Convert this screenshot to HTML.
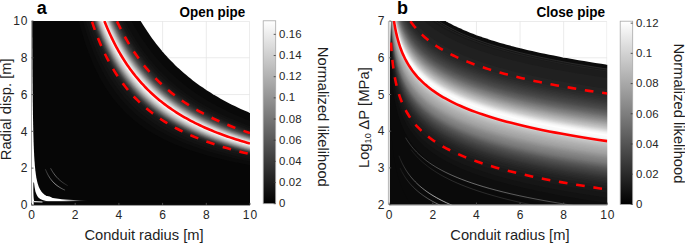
<!DOCTYPE html>
<html><head><meta charset="utf-8"><style>
html,body{margin:0;padding:0;background:#fff;}
body{width:685px;height:243px;overflow:hidden;}
svg{display:block;}
</style></head><body>
<svg width="685" height="243" viewBox="0 0 685 243">
<defs><clipPath id="ca"><rect x="31.5" y="21" width="218.5" height="183.9"/></clipPath><clipPath id="cb"><rect x="389.8" y="21.1" width="217.5" height="183.5"/></clipPath><clipPath id="cah"><rect x="31.5" y="0" width="300" height="243"/></clipPath><clipPath id="cbh"><rect x="390" y="0" width="300" height="243"/></clipPath><clipPath id="na"><path d="M140.75 19L140.75 21L142.34 23.64L143.95 26.24L145.59 28.8L147.25 31.32L148.93 33.81L150.64 36.26L152.37 38.68L154.13 41.06L155.91 43.41L157.72 45.73L159.56 48.01L161.42 50.26L163.31 52.48L165.23 54.66L167.17 56.82L169.15 58.94L171.15 61.03L173.18 63.09L175.24 65.13L177.33 67.13L179.45 69.11L181.6 71.05L183.79 72.97L186 74.86L188.25 76.73L190.53 78.56L192.84 80.38L195.19 82.16L197.57 83.92L199.99 85.66L202.44 87.37L204.92 89.05L207.45 90.71L210.01 92.35L212.6 93.96L215.24 95.55L217.91 97.12L220.62 98.67L223.37 100.19L226.16 101.69L228.99 103.17L231.87 104.63L234.78 106.07L237.74 107.48L240.74 108.88L243.78 110.26L246.87 111.61L250 112.95L252 112.95L252 19Z"/></clipPath><clipPath id="nb"><path d="M445.69 19.1L445.69 21.1L447.3 22.01L448.96 22.92L450.67 23.82L452.42 24.73L454.23 25.64L456.08 26.55L457.99 27.46L459.96 28.37L461.98 29.27L464.05 30.18L466.19 31.09L468.39 32L470.65 32.91L472.97 33.82L475.36 34.72L477.82 35.63L480.35 36.54L482.95 37.45L485.63 38.36L488.38 39.27L491.21 40.17L494.12 41.08L497.12 41.99L500.2 42.9L503.37 43.81L506.63 44.72L509.98 45.62L513.43 46.53L516.97 47.44L520.62 48.35L524.37 49.26L528.23 50.17L532.2 51.07L536.28 51.98L540.47 52.89L544.79 53.8L549.23 54.71L553.8 55.62L558.5 56.52L563.33 57.43L568.3 58.34L573.41 59.25L578.67 60.16L584.08 61.07L589.64 61.97L595.36 62.88L601.25 63.79L607.3 64.7L609.3 64.7L609.3 19.1Z"/></clipPath><linearGradient id="cga" x1="0" y1="1" x2="0" y2="0"><stop offset="0" stop-color="#000"/><stop offset="1" stop-color="#fff"/></linearGradient></defs>
<g clip-path="url(#cah)"><rect x="31.5" y="19" width="220.5" height="187.9" fill="#fff"/><path d="M31.94 19L31.94 21L32 43.33L32.07 62.95L32.14 80.19L32.23 95.34L32.33 108.64L32.45 120.33L32.58 130.6L32.73 139.62L32.9 147.55L33.1 154.52L33.32 160.63L33.57 166.01L33.85 170.73L34.18 174.88L34.55 178.53L34.97 181.73L35.45 184.54L35.99 187.02L36.61 189.19L37.32 191.1L38.13 192.77L39.04 194.24L40.08 195.54L41.27 196.68L42.62 197.67L44.16 198.55L45.91 199.32L47.9 200L50.17 200.6L52.75 201.12L55.69 201.58L59.03 201.98L62.83 202.34L67.17 202.65L72.1 202.92L77.71 203.16L84.09 203.37L91.36 203.56L99.64 203.72L109.06 203.86L119.78 203.99L131.98 204.1L145.87 204.2L161.68 204.28L179.67 204.36L200.15 204.42L223.47 204.48L250 204.53L252 204.53L252 19Z" fill="#ffffff"/><path d="M32.22 19L32.22 21L32.31 41.64L32.41 59.96L32.53 76.23L32.66 90.67L32.81 103.49L32.97 114.87L33.16 124.97L33.37 133.94L33.6 141.91L33.87 148.98L34.17 155.25L34.51 160.82L34.89 165.77L35.32 170.16L35.8 174.06L36.34 177.52L36.96 180.59L37.65 183.32L38.42 185.74L39.3 187.89L40.28 189.8L41.39 191.5L42.64 193L44.05 194.34L45.64 195.52L47.43 196.57L49.44 197.51L51.71 198.34L54.26 199.07L57.14 199.73L60.38 200.31L64.03 200.82L68.14 201.28L72.77 201.69L77.99 202.05L83.87 202.37L90.49 202.65L97.95 202.9L106.35 203.13L115.81 203.33L126.47 203.5L138.47 203.66L151.99 203.8L167.23 203.92L184.38 204.03L203.71 204.13L225.48 204.22L250 204.29L252 204.29L252 19Z" fill="#060606"/><path d="M78.74 19L78.74 21L80.27 26.78L81.85 32.37L83.49 37.79L85.17 43.03L86.91 48.12L88.71 53.04L90.56 57.81L92.48 62.43L94.45 66.9L96.49 71.24L98.6 75.43L100.78 79.5L103.02 83.44L105.34 87.25L107.74 90.95L110.21 94.53L112.76 97.99L115.4 101.35L118.12 104.6L120.92 107.75L123.82 110.8L126.82 113.76L129.91 116.62L133.1 119.39L136.39 122.08L139.79 124.68L143.3 127.2L146.93 129.64L150.67 132L154.53 134.29L158.52 136.51L162.64 138.66L166.89 140.74L171.28 142.75L175.81 144.7L180.49 146.59L185.32 148.42L190.31 150.2L195.46 151.92L200.78 153.58L206.26 155.19L211.93 156.75L217.78 158.26L223.82 159.73L230.05 161.15L236.49 162.52L243.14 163.85L250 165.14L252 165.14L252 19Z" fill="#0a0a0a"/><path d="M82.96 19L82.96 21L84.53 26.46L86.15 31.75L87.82 36.89L89.55 41.88L91.32 46.72L93.15 51.41L95.04 55.96L96.98 60.38L98.98 64.67L101.05 68.83L103.17 72.87L105.37 76.79L107.63 80.59L109.95 84.28L112.35 87.86L114.83 91.33L117.37 94.71L120 97.98L122.71 101.15L125.5 104.23L128.37 107.22L131.33 110.11L134.39 112.93L137.53 115.66L140.78 118.3L144.12 120.87L147.56 123.37L151.11 125.79L154.77 128.14L158.54 130.41L162.43 132.62L166.43 134.77L170.56 136.85L174.81 138.87L179.19 140.83L183.71 142.73L188.37 144.58L193.17 146.37L198.11 148.1L203.21 149.79L208.46 151.42L213.87 153.01L219.45 154.55L225.19 156.05L231.12 157.5L237.22 158.9L243.52 160.27L250 161.59L252 161.59L252 19Z" fill="#0e0e0e"/><path d="M85.82 19L85.82 21L87.42 26.26L89.06 31.36L90.76 36.32L92.5 41.14L94.29 45.82L96.14 50.37L98.04 54.78L100 59.08L102.02 63.24L104.09 67.29L106.23 71.22L108.43 75.05L110.69 78.76L113.02 82.36L115.42 85.86L117.89 89.27L120.43 92.57L123.05 95.78L125.74 98.9L128.51 101.93L131.37 104.87L134.31 107.73L137.33 110.51L140.44 113.21L143.65 115.83L146.95 118.37L150.35 120.85L153.84 123.25L157.44 125.58L161.15 127.85L164.96 130.05L168.89 132.19L172.93 134.27L177.09 136.29L181.38 138.25L185.79 140.15L190.33 142.01L195 143.8L199.81 145.55L204.76 147.25L209.86 148.89L215.11 150.49L220.51 152.05L226.07 153.56L231.8 155.03L237.69 156.45L243.75 157.84L250 159.18L252 159.18L252 19Z" fill="#121212"/><path d="M88.31 19L88.31 21L89.93 26.09L91.59 31.04L93.3 35.85L95.06 40.53L96.87 45.08L98.73 49.5L100.64 53.8L102.61 57.98L104.63 62.05L106.72 66L108.86 69.84L111.06 73.58L113.32 77.22L115.65 80.75L118.05 84.19L120.51 87.53L123.04 90.77L125.65 93.93L128.33 97L131.08 99.99L133.92 102.89L136.83 105.72L139.83 108.46L142.91 111.13L146.08 113.72L149.35 116.25L152.7 118.7L156.15 121.09L159.7 123.41L163.35 125.66L167.1 127.85L170.96 129.99L174.93 132.06L179.01 134.07L183.21 136.03L187.53 137.94L191.97 139.79L196.53 141.6L201.23 143.35L206.06 145.05L211.03 146.71L216.14 148.32L221.39 149.88L226.8 151.41L232.36 152.89L238.07 154.33L243.95 155.73L250 157.09L252 157.09L252 19Z" fill="#161616"/><path d="M90.43 19L90.43 21L92.06 25.95L93.74 30.77L95.46 35.46L97.23 40.02L99.05 44.47L100.92 48.79L102.84 52.99L104.81 57.08L106.84 61.06L108.93 64.94L111.07 68.71L113.27 72.37L115.54 75.94L117.86 79.42L120.25 82.8L122.71 86.08L125.23 89.28L127.83 92.4L130.49 95.43L133.23 98.38L136.05 101.24L138.94 104.04L141.92 106.75L144.97 109.4L148.11 111.97L151.34 114.47L154.66 116.91L158.07 119.28L161.57 121.58L165.17 123.83L168.87 126.01L172.67 128.13L176.58 130.2L180.59 132.21L184.72 134.17L188.96 136.08L193.32 137.93L197.8 139.73L202.4 141.49L207.13 143.2L211.99 144.86L216.99 146.47L222.12 148.05L227.4 149.58L232.82 151.07L238.39 152.52L244.12 153.93L250 155.3L252 155.3L252 19Z" fill="#1a1a1a"/><path d="M91.54 19L91.54 21L93.18 25.88L94.86 30.64L96.59 35.26L98.37 39.77L100.19 44.15L102.07 48.42L103.99 52.57L105.97 56.62L108 60.56L110.09 64.39L112.23 68.12L114.43 71.75L116.69 75.29L119.02 78.73L121.4 82.08L123.86 85.34L126.37 88.51L128.96 91.6L131.62 94.61L134.35 97.54L137.16 100.39L140.04 103.17L143 105.87L146.04 108.5L149.16 111.06L152.37 113.55L155.67 115.97L159.06 118.34L162.54 120.63L166.11 122.87L169.78 125.05L173.56 127.17L177.43 129.23L181.41 131.24L185.5 133.2L189.7 135.1L194.01 136.96L198.45 138.76L203 140.52L207.68 142.22L212.48 143.89L217.42 145.51L222.49 147.09L227.7 148.62L233.05 150.12L238.55 151.57L244.2 152.99L250 154.36L252 154.36L252 19Z" fill="#1f1f1f"/><path d="M92 19L92 21L93.64 25.85L95.33 30.58L97.06 35.18L98.84 39.66L100.66 44.02L102.54 48.27L104.46 52.41L106.44 56.43L108.47 60.35L110.56 64.17L112.7 67.88L114.91 71.5L117.17 75.02L119.49 78.45L121.88 81.79L124.33 85.04L126.84 88.2L129.43 91.28L132.08 94.28L134.81 97.2L137.61 100.04L140.49 102.81L143.44 105.51L146.48 108.13L149.59 110.68L152.8 113.17L156.09 115.59L159.46 117.95L162.93 120.25L166.5 122.48L170.16 124.66L173.92 126.77L177.78 128.84L181.74 130.84L185.82 132.8L190 134.7L194.3 136.56L198.71 138.36L203.25 140.12L207.9 141.83L212.69 143.49L217.6 145.11L222.64 146.69L227.83 148.23L233.15 149.72L238.62 151.18L244.23 152.6L250 153.98L252 153.98L252 19Z" fill="#232323"/><path d="M92.46 19L92.46 21L94.1 25.83L95.79 30.53L97.52 35.1L99.3 39.56L101.13 43.9L103.01 48.12L104.94 52.24L106.91 56.24L108.95 60.15L111.03 63.94L113.18 67.64L115.38 71.25L117.64 74.75L119.96 78.17L122.35 81.49L124.79 84.73L127.31 87.89L129.89 90.96L132.54 93.95L135.27 96.86L138.06 99.7L140.93 102.46L143.88 105.15L146.91 107.76L150.02 110.31L153.22 112.79L156.5 115.21L159.87 117.57L163.33 119.86L166.88 122.09L170.53 124.26L174.28 126.38L178.12 128.44L182.07 130.45L186.13 132.4L190.3 134.3L194.58 136.16L198.98 137.96L203.49 139.72L208.12 141.43L212.89 143.09L217.77 144.72L222.79 146.29L227.95 147.83L233.24 149.33L238.68 150.79L244.27 152.21L250 153.59L252 153.59L252 19Z" fill="#272727"/><path d="M92.92 19L92.92 21L94.57 25.8L96.26 30.47L97.99 35.02L99.77 39.46L101.6 43.77L103.48 47.98L105.41 52.07L107.39 56.06L109.42 59.94L111.51 63.72L113.65 67.41L115.85 70.99L118.11 74.49L120.43 77.89L122.82 81.21L125.26 84.43L127.77 87.58L130.35 90.64L133 93.62L135.72 96.52L138.51 99.35L141.38 102.1L144.32 104.79L147.35 107.4L150.45 109.94L153.64 112.42L156.91 114.83L160.27 117.18L163.72 119.47L167.26 121.7L170.9 123.87L174.63 125.99L178.47 128.04L182.4 130.05L186.45 132L190.6 133.91L194.86 135.76L199.24 137.56L203.73 139.32L208.35 141.03L213.08 142.7L217.95 144.32L222.94 145.9L228.07 147.44L233.34 148.94L238.75 150.4L244.3 151.82L250 153.21L252 153.21L252 19Z" fill="#2b2b2b"/><path d="M93.23 19L93.23 21L94.87 25.78L96.56 30.44L98.3 34.97L100.08 39.39L101.91 43.69L103.79 47.88L105.72 51.96L107.7 55.93L109.74 59.81L111.82 63.58L113.97 67.25L116.17 70.83L118.43 74.31L120.75 77.71L123.13 81.01L125.57 84.23L128.08 87.37L130.66 90.42L133.31 93.4L136.02 96.3L138.81 99.12L141.68 101.87L144.62 104.55L147.63 107.16L150.73 109.7L153.92 112.17L157.18 114.58L160.54 116.93L163.98 119.21L167.51 121.44L171.14 123.61L174.87 125.72L178.7 127.78L182.62 129.79L186.66 131.74L190.8 133.64L195.05 135.49L199.41 137.3L203.89 139.05L208.49 140.76L213.22 142.43L218.06 144.06L223.04 145.64L228.15 147.18L233.4 148.68L238.79 150.14L244.32 151.56L250 152.95L252 152.95L252 19Z" fill="#2f2f2f"/><path d="M93.49 19L93.49 21L95.14 25.76L96.83 30.4L98.57 34.92L100.35 39.33L102.18 43.62L104.06 47.8L105.99 51.87L107.97 55.83L110.01 59.69L112.09 63.45L114.24 67.12L116.44 70.69L118.7 74.16L121.01 77.55L123.4 80.85L125.84 84.06L128.35 87.19L130.92 90.24L133.57 93.21L136.28 96.11L139.07 98.92L141.93 101.67L144.87 104.34L147.88 106.95L150.98 109.49L154.15 111.96L157.41 114.37L160.76 116.71L164.2 119L167.73 121.22L171.35 123.39L175.07 125.5L178.89 127.56L182.81 129.56L186.83 131.51L190.97 133.41L195.21 135.27L199.56 137.07L204.03 138.83L208.62 140.54L213.33 142.21L218.16 143.83L223.13 145.41L228.22 146.95L233.46 148.45L238.83 149.92L244.34 151.34L250 152.73L252 152.73L252 19Z" fill="#333333"/><path d="M93.75 19L93.75 21L95.4 25.75L97.09 30.37L98.83 34.88L100.62 39.27L102.45 43.55L104.33 47.71L106.26 51.77L108.24 55.72L110.28 59.58L112.36 63.33L114.51 66.98L116.71 70.54L118.96 74.01L121.28 77.39L123.66 80.69L126.1 83.89L128.61 87.02L131.19 90.06L133.83 93.03L136.54 95.91L139.32 98.73L142.18 101.47L145.12 104.14L148.13 106.74L151.22 109.28L154.39 111.74L157.65 114.15L160.99 116.49L164.42 118.78L167.95 121L171.56 123.17L175.27 125.28L179.09 127.33L183 129.33L187.01 131.29L191.13 133.19L195.36 135.04L199.71 136.84L204.17 138.6L208.74 140.31L213.44 141.98L218.26 143.6L223.21 145.19L228.29 146.73L233.51 148.23L238.86 149.69L244.36 151.12L250 152.51L252 152.51L252 19Z" fill="#373737"/><path d="M94.01 19L94.01 21L95.66 25.73L97.36 30.34L99.1 34.84L100.88 39.21L102.72 43.48L104.6 47.63L106.53 51.68L108.51 55.62L110.54 59.46L112.63 63.2L114.78 66.85L116.98 70.4L119.23 73.86L121.55 77.24L123.93 80.52L126.37 83.72L128.88 86.84L131.45 89.88L134.09 92.84L136.8 95.72L139.58 98.53L142.43 101.27L145.36 103.94L148.37 106.53L151.46 109.07L154.63 111.53L157.88 113.94L161.22 116.28L164.64 118.56L168.16 120.78L171.77 122.94L175.48 125.05L179.28 127.11L183.18 129.11L187.19 131.06L191.3 132.96L195.52 134.81L199.85 136.62L204.3 138.37L208.87 140.08L213.55 141.75L218.36 143.38L223.3 144.96L228.36 146.5L233.56 148.01L238.9 149.47L244.38 150.9L250 152.29L252 152.29L252 19Z" fill="#3b3b3b"/><path d="M94.28 19L94.28 21L95.93 25.72L97.62 30.31L99.36 34.79L101.15 39.15L102.98 43.41L104.87 47.55L106.8 51.58L108.78 55.52L110.81 59.35L112.9 63.08L115.04 66.72L117.24 70.26L119.5 73.72L121.82 77.08L124.2 80.36L126.64 83.55L129.14 86.67L131.71 89.7L134.35 92.65L137.06 95.53L139.83 98.34L142.69 101.07L145.61 103.73L148.62 106.33L151.7 108.86L154.86 111.32L158.11 113.72L161.44 116.06L164.87 118.34L168.38 120.56L171.98 122.72L175.68 124.83L179.47 126.88L183.37 128.88L187.37 130.83L191.47 132.73L195.68 134.58L200 136.39L204.44 138.15L208.99 139.86L213.66 141.53L218.46 143.15L223.38 144.74L228.43 146.28L233.61 147.78L238.94 149.25L244.4 150.67L250 152.07L252 152.07L252 19Z" fill="#404040"/><path d="M94.54 19L94.54 21L96.19 25.7L97.89 30.28L99.63 34.75L101.42 39.1L103.25 43.34L105.13 47.47L107.07 51.49L109.05 55.41L111.08 59.23L113.17 62.96L115.31 66.59L117.51 70.12L119.77 73.57L122.08 76.93L124.46 80.2L126.9 83.38L129.4 86.49L131.97 89.52L134.61 92.47L137.31 95.34L140.09 98.14L142.94 100.87L145.86 103.53L148.86 106.12L151.94 108.65L155.1 111.11L158.34 113.51L161.67 115.84L165.09 118.12L168.59 120.34L172.19 122.5L175.88 124.61L179.67 126.66L183.55 128.66L187.54 130.61L191.64 132.51L195.84 134.36L200.15 136.16L204.57 137.92L209.11 139.63L213.77 141.3L218.56 142.93L223.46 144.51L228.5 146.05L233.67 147.56L238.97 149.02L244.41 150.45L250 151.84L252 151.84L252 19Z" fill="#444444"/><path d="M94.78 19L94.78 21L96.43 25.69L98.13 30.25L99.87 34.71L101.66 39.04L103.5 43.27L105.38 47.39L107.31 51.41L109.29 55.32L111.33 59.13L113.42 62.85L115.56 66.47L117.76 69.99L120.01 73.43L122.33 76.78L124.7 80.05L127.14 83.23L129.64 86.33L132.21 89.35L134.84 92.3L137.55 95.17L140.32 97.97L143.17 100.69L146.09 103.35L149.08 105.94L152.16 108.46L155.32 110.92L158.55 113.31L161.88 115.65L165.29 117.92L168.79 120.14L172.38 122.3L176.06 124.4L179.84 126.45L183.72 128.45L187.7 130.4L191.79 132.3L195.98 134.15L200.28 135.95L204.7 137.71L209.23 139.42L213.87 141.09L218.64 142.72L223.54 144.3L228.56 145.85L233.72 147.35L239 148.82L244.43 150.25L250 151.64L252 151.64L252 19Z" fill="#484848"/><path d="M94.95 19L94.95 21L96.61 25.68L98.31 30.23L100.05 34.68L101.84 39.01L103.67 43.22L105.56 47.34L107.49 51.34L109.47 55.25L111.51 59.05L113.6 62.76L115.74 66.38L117.94 69.9L120.19 73.33L122.51 76.68L124.88 79.94L127.32 83.12L129.82 86.22L132.38 89.23L135.02 92.18L137.72 95.04L140.49 97.84L143.33 100.56L146.25 103.21L149.25 105.8L152.32 108.32L155.47 110.78L158.71 113.17L162.03 115.5L165.43 117.78L168.93 119.99L172.51 122.15L176.19 124.25L179.97 126.31L183.84 128.3L187.82 130.25L191.9 132.15L196.08 134L200.38 135.8L204.79 137.56L209.31 139.27L213.95 140.94L218.71 142.57L223.59 144.15L228.61 145.7L233.75 147.2L239.03 148.67L244.44 150.1L250 151.5L252 151.5L252 19Z" fill="#4c4c4c"/><path d="M95.13 19L95.13 21L96.78 25.67L98.48 30.21L100.23 34.65L102.02 38.97L103.85 43.18L105.74 47.28L107.67 51.28L109.65 55.18L111.69 58.98L113.78 62.68L115.92 66.29L118.12 69.81L120.37 73.24L122.68 76.58L125.06 79.83L127.49 83.01L129.99 86.1L132.56 89.11L135.19 92.05L137.89 94.92L140.66 97.71L143.5 100.43L146.42 103.08L149.41 105.66L152.48 108.18L155.63 110.63L158.86 113.03L162.18 115.36L165.58 117.63L169.07 119.84L172.65 122L176.33 124.11L180.1 126.16L183.97 128.15L187.94 130.1L192.01 132L196.19 133.85L200.48 135.65L204.88 137.41L209.39 139.12L214.02 140.79L218.77 142.42L223.65 144L228.65 145.55L233.78 147.06L239.05 148.52L244.46 149.95L250 151.35L252 151.35L252 19Z" fill="#515151"/><path d="M95.3 19L95.3 21L96.96 25.66L98.66 30.19L100.4 34.62L102.19 38.93L104.03 43.13L105.92 47.23L107.85 51.22L109.83 55.11L111.87 58.9L113.95 62.6L116.1 66.2L118.29 69.72L120.55 73.14L122.86 76.47L125.24 79.73L127.67 82.9L130.17 85.98L132.73 89L135.36 91.93L138.06 94.79L140.83 97.58L143.67 100.3L146.58 102.94L149.57 105.53L152.64 108.04L155.78 110.49L159.01 112.88L162.33 115.21L165.72 117.49L169.21 119.7L172.79 121.86L176.46 123.96L180.22 126.01L184.09 128.01L188.05 129.95L192.12 131.85L196.29 133.7L200.57 135.5L204.96 137.26L209.47 138.97L214.09 140.64L218.84 142.27L223.7 143.85L228.7 145.4L233.82 146.91L239.08 148.38L244.47 149.81L250 151.2L252 151.2L252 19Z" fill="#555555"/><path d="M95.48 19L95.48 21L97.14 25.65L98.84 30.17L100.58 34.59L102.37 38.89L104.21 43.09L106.09 47.17L108.03 51.16L110.01 55.04L112.05 58.83L114.13 62.52L116.27 66.12L118.47 69.62L120.73 73.04L123.04 76.37L125.41 79.62L127.85 82.78L130.34 85.87L132.9 88.88L135.53 91.81L138.23 94.66L141 97.45L143.83 100.16L146.75 102.81L149.73 105.39L152.8 107.9L155.94 110.35L159.17 112.74L162.48 115.07L165.87 117.34L169.35 119.55L172.93 121.71L176.59 123.81L180.35 125.86L184.21 127.86L188.17 129.8L192.23 131.7L196.39 133.55L200.67 135.35L205.05 137.11L209.55 138.82L214.17 140.49L218.9 142.12L223.76 143.7L228.74 145.25L233.85 146.76L239.1 148.23L244.48 149.66L250 151.05L252 151.05L252 19Z" fill="#595959"/><path d="M95.65 19L95.65 21L97.31 25.64L99.01 30.15L100.76 34.56L102.55 38.85L104.39 43.04L106.27 47.12L108.21 51.1L110.19 54.97L112.22 58.75L114.31 62.44L116.45 66.03L118.65 69.53L120.9 72.94L123.22 76.27L125.59 79.51L128.02 82.67L130.52 85.75L133.08 88.76L135.7 91.69L138.4 94.54L141.16 97.32L144 100.03L146.91 102.68L149.89 105.25L152.96 107.77L156.1 110.21L159.32 112.6L162.62 114.93L166.02 117.2L169.49 119.41L173.06 121.56L176.72 123.66L180.48 125.71L184.33 127.71L188.28 129.65L192.34 131.55L196.5 133.4L200.77 135.2L205.14 136.96L209.63 138.67L214.24 140.34L218.97 141.97L223.81 143.55L228.79 145.1L233.89 146.61L239.12 148.08L244.49 149.51L250 150.91L252 150.91L252 19Z" fill="#5d5d5d"/><path d="M95.83 19L95.83 21L97.49 25.63L99.19 30.14L100.94 34.53L102.73 38.82L104.56 42.99L106.45 47.07L108.38 51.04L110.37 54.91L112.4 58.68L114.49 62.36L116.63 65.94L118.83 69.44L121.08 72.85L123.39 76.17L125.76 79.41L128.2 82.56L130.69 85.64L133.25 88.64L135.88 91.56L138.57 94.41L141.33 97.19L144.17 99.9L147.07 102.54L150.06 105.12L153.11 107.63L156.25 110.07L159.47 112.46L162.77 114.79L166.16 117.05L169.63 119.26L173.2 121.42L176.86 123.52L180.61 125.56L184.45 127.56L188.4 129.5L192.45 131.4L196.6 133.25L200.86 135.05L205.23 136.81L209.71 138.52L214.31 140.19L219.03 141.82L223.87 143.41L228.83 144.95L233.92 146.46L239.15 147.93L244.5 149.36L250 150.76L252 150.76L252 19Z" fill="#626262"/><path d="M96 19L96 21L97.66 25.62L99.37 30.12L101.11 34.5L102.9 38.78L104.74 42.95L106.63 47.01L108.56 50.98L110.55 54.84L112.58 58.61L114.67 62.28L116.81 65.86L119.01 69.35L121.26 72.75L123.57 76.07L125.94 79.3L128.37 82.45L130.87 85.52L133.42 88.52L136.05 91.44L138.74 94.29L141.5 97.07L144.33 99.77L147.24 102.41L150.22 104.98L153.27 107.49L156.41 109.94L159.62 112.32L162.92 114.64L166.3 116.91L169.78 119.12L173.34 121.27L176.99 123.37L180.73 125.41L184.57 127.41L188.52 129.35L192.56 131.25L196.7 133.1L200.96 134.9L205.32 136.66L209.79 138.37L214.38 140.04L219.09 141.67L223.92 143.26L228.88 144.8L233.96 146.31L239.17 147.78L244.52 149.22L250 150.61L252 150.61L252 19Z" fill="#666666"/><path d="M96.18 19L96.18 21L97.84 25.61L99.54 30.1L101.29 34.47L103.08 38.74L104.92 42.9L106.81 46.96L108.74 50.91L110.72 54.77L112.76 58.53L114.85 62.2L116.99 65.77L119.18 69.25L121.44 72.65L123.75 75.96L126.12 79.19L128.55 82.34L131.04 85.41L133.6 88.4L136.22 91.32L138.91 94.16L141.67 96.94L144.5 99.64L147.4 102.28L150.38 104.85L153.43 107.35L156.56 109.8L159.77 112.18L163.07 114.5L166.45 116.76L169.92 118.97L173.47 121.12L177.12 123.22L180.86 125.27L184.7 127.26L188.63 129.21L192.67 131.1L196.81 132.95L201.05 134.75L205.41 136.51L209.87 138.22L214.46 139.89L219.16 141.52L223.98 143.11L228.92 144.65L233.99 146.16L239.19 147.63L244.53 149.07L250 150.47L252 150.47L252 19Z" fill="#6a6a6a"/><path d="M96.35 19L96.35 21L98.01 25.6L99.72 30.08L101.47 34.44L103.26 38.7L105.1 42.86L106.98 46.91L108.92 50.85L110.9 54.7L112.94 58.46L115.03 62.12L117.17 65.68L119.36 69.16L121.61 72.56L123.92 75.86L126.29 79.09L128.72 82.23L131.21 85.3L133.77 88.28L136.39 91.2L139.08 94.04L141.83 96.81L144.66 99.51L147.56 102.14L150.54 104.71L153.59 107.22L156.72 109.66L159.93 112.04L163.22 114.36L166.59 116.62L170.06 118.83L173.61 120.98L177.25 123.07L180.98 125.12L184.82 127.11L188.75 129.06L192.78 130.95L196.91 132.8L201.15 134.6L205.5 136.36L209.96 138.07L214.53 139.74L219.22 141.37L224.03 142.96L228.96 144.5L234.03 146.01L239.22 147.48L244.54 148.92L250 150.32L252 150.32L252 19Z" fill="#6f6f6f"/><path d="M96.53 19L96.53 21L98.19 25.59L99.89 30.06L101.64 34.42L103.44 38.67L105.28 42.81L107.16 46.85L109.1 50.79L111.08 54.64L113.12 58.38L115.2 62.04L117.34 65.6L119.54 69.07L121.79 72.46L124.1 75.76L126.47 78.98L128.9 82.12L131.39 85.18L133.94 88.17L136.56 91.08L139.25 93.92L142 96.68L144.83 99.38L147.73 102.01L150.7 104.58L153.75 107.08L156.87 109.52L160.08 111.9L163.37 114.22L166.74 116.48L170.2 118.68L173.74 120.83L177.38 122.93L181.11 124.97L184.94 126.96L188.86 128.91L192.88 130.8L197.01 132.65L201.24 134.45L205.58 136.21L210.04 137.92L214.6 139.59L219.28 141.22L224.08 142.81L229.01 144.35L234.06 145.86L239.24 147.34L244.55 148.77L250 150.17L252 150.17L252 19Z" fill="#737373"/><path d="M96.7 19L96.7 21L98.36 25.58L100.07 30.04L101.82 34.39L103.61 38.63L105.45 42.77L107.34 46.8L109.28 50.73L111.26 54.57L113.29 58.31L115.38 61.96L117.52 65.51L119.72 68.98L121.97 72.36L124.28 75.66L126.64 78.88L129.07 82.01L131.56 85.07L134.11 88.05L136.73 90.96L139.42 93.79L142.17 96.56L144.99 99.25L147.89 101.88L150.86 104.44L153.9 106.94L157.03 109.38L160.23 111.76L163.51 114.07L166.88 116.33L170.34 118.54L173.88 120.69L177.51 122.78L181.24 124.82L185.06 126.82L188.97 128.76L192.99 130.65L197.11 132.5L201.34 134.3L205.67 136.06L210.11 137.77L214.67 139.44L219.35 141.07L224.14 142.66L229.05 144.21L234.09 145.72L239.26 147.19L244.56 148.62L250 150.02L252 150.02L252 19Z" fill="#777777"/><path d="M96.88 19L96.88 21L98.54 25.57L100.25 30.02L102 34.36L103.79 38.59L105.63 42.72L107.52 46.75L109.45 50.67L111.44 54.5L113.47 58.24L115.56 61.88L117.7 65.43L119.89 68.89L122.14 72.27L124.45 75.56L126.82 78.77L129.24 81.9L131.73 84.95L134.28 87.93L136.9 90.84L139.58 93.67L142.34 96.43L145.16 99.12L148.05 101.75L151.02 104.31L154.06 106.81L157.18 109.24L160.38 111.62L163.66 113.93L167.03 116.19L170.48 118.39L174.01 120.54L177.64 122.63L181.36 124.68L185.18 126.67L189.09 128.61L193.1 130.5L197.21 132.35L201.43 134.15L205.76 135.91L210.19 137.62L214.74 139.29L219.41 140.92L224.19 142.51L229.1 144.06L234.13 145.57L239.29 147.04L244.58 148.48L250 149.88L252 149.88L252 19Z" fill="#7c7c7c"/><path d="M97.05 19L97.05 21L98.71 25.56L100.42 30L102.17 34.33L103.97 38.56L105.81 42.68L107.7 46.69L109.63 50.61L111.62 54.44L113.65 58.16L115.74 61.8L117.88 65.34L120.07 68.8L122.32 72.17L124.63 75.46L126.99 78.66L129.42 81.79L131.91 84.84L134.46 87.81L137.07 90.72L139.75 93.54L142.5 96.3L145.32 98.99L148.21 101.62L151.18 104.17L154.22 106.67L157.33 109.1L160.53 111.48L163.81 113.79L167.17 116.05L170.61 118.25L174.15 120.39L177.77 122.49L181.49 124.53L185.3 126.52L189.2 128.46L193.21 130.35L197.32 132.2L201.53 134L205.85 135.76L210.27 137.47L214.82 139.14L219.47 140.77L224.25 142.36L229.14 143.91L234.16 145.42L239.31 146.89L244.59 148.33L250 149.73L252 149.73L252 19Z" fill="#808080"/><path d="M97.22 19L97.22 21L98.89 25.55L100.6 29.98L102.35 34.3L104.15 38.52L105.99 42.63L107.87 46.64L109.81 50.55L111.79 54.37L113.83 58.09L115.92 61.72L118.05 65.26L120.25 68.71L122.5 72.07L124.8 75.36L127.17 78.56L129.59 81.68L132.08 84.73L134.63 87.7L137.24 90.59L139.92 93.42L142.67 96.18L145.49 98.86L148.37 101.48L151.34 104.04L154.37 106.53L157.49 108.96L160.68 111.34L163.95 113.65L167.31 115.9L170.75 118.1L174.28 120.25L177.9 122.34L181.61 124.38L185.42 126.37L189.32 128.31L193.32 130.21L197.42 132.05L201.62 133.85L205.93 135.61L210.35 137.32L214.89 138.99L219.53 140.62L224.3 142.21L229.19 143.76L234.2 145.27L239.33 146.74L244.6 148.18L250 149.58L252 149.58L252 19Z" fill="#858585"/><path d="M97.4 19L97.4 21L99.07 25.54L100.77 29.96L102.53 34.27L104.32 38.48L106.16 42.59L108.05 46.59L109.99 50.49L111.97 54.3L114.01 58.02L116.09 61.64L118.23 65.17L120.43 68.62L122.67 71.98L124.98 75.26L127.34 78.45L129.77 81.57L132.25 84.61L134.8 87.58L137.41 90.47L140.09 93.3L142.83 96.05L145.65 98.73L148.54 101.35L151.5 103.91L154.53 106.4L157.64 108.83L160.83 111.2L164.1 113.51L167.45 115.76L170.89 117.96L174.42 120.1L178.03 122.19L181.74 124.23L185.53 126.22L189.43 128.16L193.42 130.06L197.52 131.9L201.72 133.7L206.02 135.46L210.43 137.17L214.96 138.84L219.6 140.47L224.35 142.06L229.23 143.61L234.23 145.12L239.36 146.6L244.61 148.03L250 149.44L252 149.44L252 19Z" fill="#898989"/><path d="M97.57 19L97.57 21L99.24 25.53L100.95 29.94L102.7 34.25L104.5 38.44L106.34 42.54L108.23 46.54L110.17 50.43L112.15 54.24L114.18 57.94L116.27 61.56L118.41 65.09L120.6 68.53L122.85 71.88L125.15 75.16L127.52 78.35L129.94 81.46L132.42 84.5L134.97 87.46L137.58 90.35L140.26 93.17L143 95.92L145.81 98.6L148.7 101.22L151.66 103.77L154.69 106.26L157.79 108.69L160.98 111.06L164.25 113.36L167.6 115.62L171.03 117.81L174.55 119.96L178.16 122.05L181.86 124.09L185.65 126.08L189.54 128.02L193.53 129.91L197.62 131.75L201.81 133.55L206.11 135.31L210.51 137.02L215.03 138.69L219.66 140.32L224.41 141.91L229.27 143.46L234.26 144.97L239.38 146.45L244.62 147.89L250 149.29L252 149.29L252 19Z" fill="#8e8e8e"/><path d="M97.75 19L97.75 21L99.42 25.52L101.13 29.92L102.88 34.22L104.68 38.41L106.52 42.5L108.41 46.48L110.34 50.37L112.33 54.17L114.36 57.87L116.45 61.48L118.59 65L120.78 68.44L123.03 71.79L125.33 75.06L127.69 78.25L130.11 81.36L132.6 84.39L135.14 87.35L137.75 90.23L140.42 93.05L143.17 95.8L145.98 98.48L148.86 101.09L151.81 103.64L154.84 106.12L157.95 108.55L161.13 110.92L164.39 113.22L167.74 115.47L171.17 117.67L174.68 119.81L178.29 121.9L181.98 123.94L185.77 125.93L189.66 127.87L193.64 129.76L197.72 131.6L201.9 133.4L206.19 135.16L210.59 136.87L215.1 138.54L219.72 140.17L224.46 141.76L229.32 143.31L234.3 144.82L239.4 146.3L244.63 147.74L250 149.14L252 149.14L252 19Z" fill="#929292"/><path d="M97.92 19L97.92 21L99.59 25.51L101.3 29.9L103.06 34.19L104.85 38.37L106.7 42.45L108.58 46.43L110.52 50.31L112.51 54.1L114.54 57.8L116.63 61.4L118.76 64.92L120.96 68.35L123.2 71.69L125.51 74.96L127.87 78.14L130.29 81.25L132.77 84.28L135.31 87.23L137.92 90.11L140.59 92.93L143.33 95.67L146.14 98.35L149.02 100.96L151.97 103.5L155 105.99L158.1 108.41L161.28 110.78L164.54 113.08L167.88 115.33L171.31 117.53L174.82 119.67L178.42 121.76L182.11 123.79L185.89 125.78L189.77 127.72L193.74 129.61L197.82 131.45L202 133.25L206.28 135.01L210.67 136.72L215.17 138.39L219.78 140.02L224.51 141.61L229.36 143.16L234.33 144.68L239.42 146.15L244.65 147.59L250 148.99L252 148.99L252 19Z" fill="#979797"/><path d="M98.1 19L98.1 21L99.77 25.5L101.48 29.88L103.23 34.16L105.03 38.34L106.87 42.41L108.76 46.38L110.7 50.26L112.68 54.04L114.72 57.72L116.8 61.32L118.94 64.83L121.13 68.26L123.38 71.6L125.68 74.86L128.04 78.04L130.46 81.14L132.94 84.16L135.48 87.12L138.09 90L140.76 92.8L143.5 95.55L146.3 98.22L149.18 100.83L152.13 103.37L155.15 105.85L158.25 108.27L161.43 110.64L164.69 112.94L168.02 115.19L171.44 117.38L174.95 119.52L178.55 121.61L182.23 123.65L186.01 125.63L189.88 127.57L193.85 129.46L197.92 131.31L202.09 133.11L206.37 134.86L210.75 136.57L215.24 138.24L219.84 139.87L224.56 141.46L229.4 143.01L234.36 144.53L239.45 146L244.66 147.44L250 148.85L252 148.85L252 19Z" fill="#9c9c9c"/><path d="M98.27 19L98.27 21L99.94 25.49L101.65 29.86L103.41 34.13L105.21 38.3L107.05 42.36L108.94 46.33L110.88 50.2L112.86 53.97L114.89 57.65L116.98 61.24L119.12 64.75L121.31 68.17L123.55 71.5L125.86 74.76L128.22 77.93L130.63 81.03L133.11 84.05L135.65 87L138.26 89.88L140.93 92.68L143.66 95.42L146.47 98.09L149.34 100.7L152.29 103.24L155.31 105.72L158.41 108.14L161.58 110.5L164.83 112.8L168.17 115.05L171.58 117.24L175.09 119.38L178.68 121.46L182.36 123.5L186.13 125.49L189.99 127.42L193.96 129.31L198.02 131.16L202.18 132.96L206.45 134.71L210.83 136.42L215.31 138.09L219.91 139.72L224.62 141.31L229.45 142.86L234.4 144.38L239.47 145.85L244.67 147.29L250 148.7L252 148.7L252 19Z" fill="#a0a0a0"/><path d="M98.45 19L98.45 21L100.12 25.48L101.83 29.84L103.59 34.11L105.38 38.26L107.23 42.32L109.12 46.28L111.05 50.14L113.04 53.9L115.07 57.58L117.16 61.17L119.29 64.67L121.48 68.08L123.73 71.41L126.03 74.66L128.39 77.83L130.81 80.92L133.28 83.94L135.82 86.88L138.43 89.76L141.09 92.56L143.83 95.29L146.63 97.96L149.5 100.57L152.45 103.11L155.46 105.58L158.56 108L161.73 110.36L164.98 112.66L168.31 114.91L171.72 117.1L175.22 119.23L178.8 121.32L182.48 123.35L186.25 125.34L190.11 127.28L194.06 129.16L198.12 131.01L202.28 132.81L206.54 134.56L210.9 136.27L215.38 137.94L219.97 139.57L224.67 141.16L229.49 142.72L234.43 144.23L239.49 145.71L244.68 147.15L250 148.55L252 148.55L252 19Z" fill="#a5a5a5"/><path d="M98.62 19L98.62 21L100.29 25.47L102.01 29.82L103.76 34.08L105.56 38.23L107.4 42.27L109.29 46.22L111.23 50.08L113.22 53.84L115.25 57.51L117.33 61.09L119.47 64.58L121.66 67.99L123.91 71.31L126.21 74.56L128.56 77.73L130.98 80.81L133.46 83.83L135.99 86.77L138.59 89.64L141.26 92.44L143.99 95.17L146.79 97.83L149.66 100.43L152.6 102.97L155.62 105.45L158.71 107.86L161.88 110.22L165.12 112.52L168.45 114.76L171.86 116.95L175.35 119.09L178.93 121.17L182.6 123.21L186.36 125.19L190.22 127.13L194.17 129.02L198.22 130.86L202.37 132.66L206.62 134.41L210.98 136.12L215.45 137.8L220.03 139.43L224.72 141.02L229.53 142.57L234.46 144.08L239.51 145.56L244.69 147L250 148.41L252 148.41L252 19Z" fill="#a9a9a9"/><path d="M98.8 19L98.8 21L100.47 25.46L102.18 29.81L103.94 34.05L105.74 38.19L107.58 42.23L109.47 46.17L111.41 50.02L113.39 53.77L115.43 57.44L117.51 61.01L119.65 64.5L121.84 67.9L124.08 71.22L126.38 74.46L128.74 77.62L131.15 80.71L133.63 83.72L136.16 86.65L138.76 89.52L141.43 92.32L144.16 95.04L146.96 97.71L149.82 100.3L152.76 102.84L155.77 105.31L158.86 107.73L162.02 110.08L165.27 112.38L168.59 114.62L171.99 116.81L175.48 118.95L179.06 121.03L182.72 123.06L186.48 125.04L190.33 126.98L194.28 128.87L198.32 130.71L202.46 132.51L206.71 134.26L211.06 135.98L215.52 137.65L220.09 139.28L224.77 140.87L229.58 142.42L234.5 143.93L239.54 145.41L244.7 146.85L250 148.26L252 148.26L252 19Z" fill="#adadad"/><path d="M98.99 19L98.99 21L100.67 25.45L102.38 29.78L104.14 34.02L105.94 38.15L107.78 42.18L109.67 46.12L111.61 49.95L113.59 53.7L115.63 57.36L117.71 60.92L119.85 64.4L122.03 67.8L124.28 71.12L126.58 74.35L128.93 77.51L131.35 80.59L133.82 83.59L136.35 86.52L138.95 89.39L141.61 92.18L144.34 94.9L147.14 97.56L150 100.16L152.94 102.69L155.95 105.16L159.03 107.57L162.19 109.93L165.43 112.22L168.75 114.46L172.15 116.65L175.63 118.78L179.2 120.86L182.86 122.9L186.61 124.88L190.46 126.81L194.39 128.7L198.43 130.54L202.57 132.34L206.8 134.1L211.15 135.81L215.6 137.48L220.16 139.11L224.83 140.7L229.62 142.25L234.53 143.77L239.56 145.24L244.72 146.69L250 148.09L252 148.09L252 19Z" fill="#b2b2b2"/><path d="M99.19 19L99.19 21L100.86 25.44L102.58 29.76L104.34 33.99L106.14 38.11L107.98 42.13L109.87 46.06L111.81 49.89L113.79 53.63L115.82 57.28L117.91 60.84L120.04 64.31L122.23 67.7L124.47 71.01L126.77 74.24L129.13 77.39L131.54 80.47L134.01 83.47L136.55 86.39L139.14 89.25L141.8 92.04L144.53 94.76L147.32 97.42L150.18 100.01L153.12 102.54L156.12 105.01L159.2 107.42L162.36 109.77L165.59 112.06L168.91 114.3L172.3 116.49L175.78 118.62L179.35 120.7L183 122.73L186.74 124.71L190.58 126.65L194.51 128.54L198.54 130.38L202.67 132.17L206.9 133.93L211.23 135.64L215.68 137.31L220.23 138.94L224.89 140.53L229.67 142.08L234.57 143.6L239.59 145.08L244.73 146.52L250 147.93L252 147.93L252 19Z" fill="#b6b6b6"/><path d="M99.39 19L99.39 21L101.06 25.42L102.78 29.74L104.53 33.96L106.33 38.07L108.18 42.08L110.07 46L112.01 49.82L113.99 53.55L116.02 57.19L118.11 60.75L120.24 64.22L122.43 67.6L124.67 70.9L126.97 74.13L129.32 77.27L131.73 80.34L134.2 83.34L136.74 86.27L139.33 89.12L141.99 91.91L144.71 94.62L147.5 97.28L150.36 99.87L153.29 102.39L156.3 104.86L159.37 107.27L162.52 109.62L165.75 111.91L169.06 114.14L172.45 116.33L175.93 118.46L179.49 120.54L183.14 122.57L186.88 124.55L190.71 126.48L194.63 128.37L198.65 130.21L202.77 132.01L207 133.76L211.32 135.47L215.75 137.14L220.3 138.77L224.95 140.36L229.72 141.92L234.61 143.43L239.61 144.91L244.74 146.35L250 147.76L252 147.76L252 19Z" fill="#bababa"/><path d="M99.58 19L99.58 21L101.26 25.41L102.97 29.72L104.73 33.93L106.53 38.03L108.38 42.03L110.27 45.94L112.2 49.76L114.19 53.48L116.22 57.11L118.31 60.66L120.44 64.12L122.63 67.5L124.87 70.8L127.16 74.02L129.52 77.16L131.93 80.22L134.4 83.22L136.93 86.14L139.52 88.99L142.18 91.77L144.9 94.48L147.68 97.13L150.54 99.72L153.47 102.24L156.47 104.71L159.54 107.11L162.69 109.46L165.92 111.75L169.22 113.99L172.61 116.17L176.08 118.3L179.63 120.38L183.28 122.4L187.01 124.38L190.83 126.32L194.75 128.2L198.76 130.04L202.88 131.84L207.09 133.59L211.41 135.3L215.83 136.98L220.36 138.61L225.01 140.2L229.77 141.75L234.64 143.26L239.64 144.74L244.76 146.19L250 147.6L252 147.6L252 19Z" fill="#bebebe"/><path d="M99.78 19L99.78 21L101.46 25.4L103.17 29.7L104.93 33.89L106.73 37.99L108.58 41.98L110.47 45.89L112.4 49.69L114.39 53.41L116.42 57.03L118.5 60.57L120.64 64.03L122.82 67.4L125.06 70.69L127.36 73.91L129.71 77.04L132.12 80.1L134.59 83.09L137.12 86.01L139.71 88.85L142.36 91.63L145.08 94.34L147.87 96.99L150.72 99.58L153.65 102.1L156.64 104.56L159.71 106.96L162.86 109.31L166.08 111.59L169.38 113.83L172.76 116.01L176.23 118.14L179.78 120.21L183.41 122.24L187.14 124.22L190.96 126.15L194.87 128.04L198.87 129.88L202.98 131.67L207.19 133.43L211.49 135.14L215.91 136.81L220.43 138.44L225.07 140.03L229.82 141.58L234.68 143.1L239.66 144.58L244.77 146.02L250 147.43L252 147.43L252 19Z" fill="#c3c3c3"/><path d="M99.98 19L99.98 21L101.65 25.39L103.37 29.68L105.13 33.86L106.93 37.95L108.78 41.94L110.67 45.83L112.6 49.63L114.59 53.34L116.62 56.96L118.7 60.49L120.84 63.94L123.02 67.3L125.26 70.59L127.56 73.8L129.91 76.93L132.31 79.98L134.78 82.97L137.31 85.88L139.9 88.72L142.55 91.5L145.26 94.21L148.05 96.85L150.9 99.43L153.82 101.95L156.81 104.41L159.88 106.81L163.02 109.15L166.24 111.44L169.54 113.67L172.91 115.85L176.37 117.97L179.92 120.05L183.55 122.08L187.27 124.06L191.08 125.99L194.98 127.87L198.98 129.71L203.08 131.51L207.28 133.26L211.58 134.97L215.99 136.64L220.5 138.27L225.13 139.86L229.86 141.41L234.72 142.93L239.69 144.41L244.78 145.86L250 147.27L252 147.27L252 19Z" fill="#c7c7c7"/><path d="M100.17 19L100.17 21L101.85 25.38L103.57 29.66L105.33 33.83L107.13 37.91L108.97 41.89L110.86 45.77L112.8 49.56L114.79 53.26L116.82 56.88L118.9 60.4L121.03 63.84L123.22 67.21L125.46 70.49L127.75 73.69L130.1 76.81L132.51 79.87L134.97 82.84L137.5 85.75L140.08 88.59L142.73 91.36L145.45 94.07L148.23 96.71L151.08 99.28L154 101.8L156.99 104.26L160.05 106.66L163.19 109L166.4 111.28L169.69 113.51L173.06 115.69L176.52 117.81L180.06 119.89L183.68 121.91L187.4 123.89L191.2 125.82L195.1 127.7L199.09 129.54L203.18 131.34L207.37 133.09L211.67 134.8L216.06 136.47L220.57 138.1L225.18 139.69L229.91 141.25L234.75 142.76L239.71 144.24L244.79 145.69L250 147.1L252 147.1L252 19Z" fill="#cbcbcb"/><path d="M100.37 19L100.37 21L102.05 25.37L103.77 29.64L105.52 33.8L107.33 37.87L109.17 41.84L111.06 45.71L113 49.5L114.98 53.19L117.02 56.8L119.1 60.32L121.23 63.75L123.42 67.11L125.65 70.38L127.95 73.58L130.29 76.7L132.7 79.75L135.16 82.72L137.69 85.62L140.27 88.46L142.92 91.23L145.63 93.93L148.41 96.57L151.26 99.14L154.17 101.65L157.16 104.11L160.22 106.5L163.35 108.84L166.56 111.12L169.85 113.35L173.22 115.53L176.67 117.65L180.2 119.73L183.82 121.75L187.53 123.73L191.33 125.66L195.22 127.54L199.2 129.38L203.29 131.17L207.47 132.92L211.75 134.64L216.14 136.31L220.64 137.94L225.24 139.53L229.96 141.08L234.79 142.6L239.74 144.08L244.81 145.52L250 146.93L252 146.93L252 19Z" fill="#d0d0d0"/><path d="M100.61 19L100.61 21L102.29 25.36L104.01 29.61L105.77 33.77L107.57 37.82L109.42 41.78L111.31 45.64L113.24 49.42L115.23 53.1L117.26 56.7L119.34 60.21L121.47 63.64L123.66 66.99L125.89 70.25L128.18 73.44L130.53 76.56L132.93 79.6L135.4 82.57L137.92 85.47L140.5 88.3L143.15 91.06L145.86 93.76L148.63 96.39L151.47 98.96L154.39 101.47L157.37 103.92L160.42 106.32L163.55 108.65L166.76 110.93L170.04 113.16L173.4 115.33L176.85 117.46L180.37 119.53L183.99 121.55L187.69 123.53L191.48 125.45L195.36 127.34L199.34 129.17L203.41 130.97L207.58 132.72L211.86 134.43L216.24 136.1L220.72 137.73L225.31 139.32L230.01 140.88L234.83 142.39L239.77 143.87L244.82 145.32L250 146.73L252 146.73L252 19Z" fill="#d4d4d4"/><path d="M100.87 19L100.87 21L102.55 25.34L104.27 29.58L106.03 33.72L107.83 37.77L109.68 41.72L111.57 45.57L113.51 49.33L115.49 53.01L117.52 56.59L119.6 60.1L121.74 63.52L123.92 66.86L126.15 70.12L128.44 73.3L130.79 76.41L133.19 79.44L135.65 82.41L138.17 85.3L140.75 88.12L143.39 90.88L146.1 93.57L148.87 96.2L151.71 98.77L154.62 101.28L157.6 103.72L160.65 106.11L163.77 108.45L166.97 110.73L170.25 112.95L173.6 115.12L177.04 117.24L180.56 119.31L184.17 121.33L187.86 123.31L191.64 125.23L195.52 127.12L199.48 128.95L203.55 130.75L207.71 132.5L211.97 134.21L216.34 135.88L220.81 137.51L225.39 139.1L230.08 140.65L234.88 142.17L239.8 143.65L244.84 145.1L250 146.51L252 146.51L252 19Z" fill="#d8d8d8"/><path d="M101.14 19L101.14 21L102.81 25.33L104.53 29.56L106.29 33.68L108.1 37.72L109.94 41.65L111.84 45.49L113.77 49.25L115.76 52.91L117.79 56.49L119.87 59.98L122 63.39L124.18 66.73L126.41 69.98L128.7 73.15L131.05 76.26L133.45 79.28L135.9 82.24L138.42 85.13L141 87.95L143.64 90.7L146.34 93.39L149.11 96.02L151.95 98.58L154.85 101.08L157.82 103.53L160.87 105.91L163.99 108.24L167.18 110.52L170.45 112.74L173.8 114.91L177.24 117.03L180.75 119.1L184.35 121.12L188.03 123.09L191.81 125.02L195.67 126.9L199.63 128.73L203.68 130.53L207.83 132.28L212.09 133.99L216.44 135.66L220.9 137.29L225.46 138.88L230.14 140.43L234.93 141.95L239.83 143.43L244.86 144.88L250 146.29L252 146.29L252 19Z" fill="#dcdcdc"/><path d="M101.4 19L101.4 21L103.08 25.32L104.8 29.53L106.56 33.64L108.36 37.66L110.21 41.59L112.1 45.42L114.04 49.16L116.02 52.82L118.05 56.38L120.13 59.87L122.26 63.27L124.44 66.6L126.68 69.84L128.96 73.01L131.3 76.11L133.7 79.13L136.16 82.08L138.67 84.96L141.25 87.77L143.89 90.52L146.59 93.21L149.35 95.83L152.18 98.39L155.08 100.89L158.05 103.33L161.09 105.71L164.21 108.04L167.4 110.31L170.66 112.53L174.01 114.7L177.43 116.81L180.94 118.88L184.53 120.9L188.2 122.87L191.97 124.8L195.83 126.68L199.77 128.51L203.82 130.3L207.96 132.05L212.2 133.76L216.54 135.43L220.99 137.06L225.54 138.65L230.2 140.21L234.98 141.73L239.87 143.21L244.87 144.66L250 146.07L252 146.07L252 19Z" fill="#e1e1e1"/><path d="M101.66 19L101.66 21L103.34 25.3L105.06 29.5L106.82 33.6L108.63 37.61L110.47 41.52L112.37 45.34L114.3 49.08L116.28 52.72L118.32 56.28L120.39 59.76L122.52 63.15L124.7 66.47L126.94 69.7L129.22 72.87L131.56 75.95L133.96 78.97L136.41 81.92L138.92 84.79L141.5 87.6L144.13 90.34L146.83 93.02L149.59 95.64L152.42 98.2L155.31 100.69L158.28 103.13L161.32 105.51L164.42 107.83L167.61 110.1L170.87 112.32L174.21 114.49L177.62 116.6L181.12 118.67L184.71 120.68L188.38 122.65L192.13 124.58L195.98 126.46L199.92 128.29L203.95 130.08L208.08 131.83L212.31 133.54L216.64 135.21L221.08 136.84L225.62 138.43L230.26 139.99L235.02 141.5L239.9 142.99L244.89 144.44L250 145.85L252 145.85L252 19Z" fill="#e5e5e5"/><path d="M101.92 19L101.92 21L103.6 25.29L105.32 29.47L107.09 33.56L108.89 37.56L110.74 41.46L112.63 45.27L114.57 48.99L116.55 52.63L118.58 56.18L120.66 59.64L122.79 63.03L124.96 66.34L127.2 69.57L129.48 72.72L131.82 75.8L134.21 78.81L136.66 81.75L139.17 84.62L141.74 87.43L144.38 90.17L147.07 92.84L149.83 95.45L152.65 98.01L155.55 100.5L158.51 102.93L161.54 105.31L164.64 107.63L167.82 109.9L171.07 112.11L174.41 114.28L177.82 116.39L181.31 118.45L184.88 120.47L188.55 122.44L192.29 124.36L196.13 126.24L200.06 128.07L204.09 129.86L208.21 131.61L212.42 133.32L216.74 134.99L221.16 136.62L225.69 138.21L230.33 139.76L235.07 141.28L239.93 142.77L244.91 144.21L250 145.63L252 145.63L252 19Z" fill="#e9e9e9"/><path d="M102.18 19L102.18 21L103.87 25.27L105.59 29.45L107.35 33.52L109.16 37.51L111 41.4L112.89 45.2L114.83 48.91L116.81 52.53L118.84 56.07L120.92 59.53L123.05 62.91L125.23 66.21L127.46 69.43L129.74 72.58L132.07 75.65L134.47 78.66L136.92 81.59L139.43 84.46L141.99 87.25L144.62 89.99L147.31 92.66L150.07 95.27L152.89 97.81L155.78 100.3L158.73 102.73L161.76 105.11L164.86 107.43L168.03 109.69L171.28 111.9L174.6 114.07L178.01 116.18L181.49 118.24L185.06 120.25L188.72 122.22L192.46 124.14L196.29 126.02L200.21 127.85L204.22 129.64L208.33 131.39L212.54 133.1L216.84 134.77L221.25 136.4L225.77 137.99L230.39 139.54L235.12 141.06L239.96 142.54L244.92 143.99L250 145.41L252 145.41L252 19Z" fill="#ededed"/><path d="M102.38 19L102.38 21L104.06 25.26L105.79 29.43L107.55 33.49L109.35 37.47L111.2 41.35L113.09 45.14L115.03 48.84L117.01 52.46L119.04 55.99L121.12 59.45L123.24 62.82L125.42 66.11L127.65 69.33L129.93 72.47L132.27 75.54L134.66 78.54L137.11 81.47L139.61 84.33L142.18 87.13L144.8 89.86L147.49 92.52L150.25 95.13L153.06 97.67L155.95 100.16L158.9 102.59L161.93 104.96L165.02 107.27L168.19 109.54L171.43 111.75L174.75 113.91L178.15 116.02L181.63 118.08L185.2 120.09L188.84 122.06L192.58 123.98L196.4 125.85L200.31 127.68L204.32 129.47L208.42 131.22L212.62 132.93L216.92 134.6L221.32 136.23L225.82 137.82L230.43 139.38L235.15 140.89L239.99 142.38L244.93 143.83L250 145.24L252 145.24L252 19Z" fill="#f1f1f1"/><path d="M102.58 19L102.58 21L104.26 25.25L105.98 29.41L107.75 33.47L109.55 37.43L111.4 41.3L113.29 45.09L115.23 48.78L117.21 52.39L119.24 55.92L121.31 59.36L123.44 62.73L125.62 66.02L127.84 69.23L130.12 72.36L132.46 75.43L134.85 78.42L137.3 81.35L139.8 84.21L142.36 87L144.99 89.72L147.67 92.39L150.42 94.99L153.24 97.53L156.12 100.01L159.07 102.44L162.09 104.81L165.18 107.12L168.35 109.38L171.59 111.59L174.9 113.75L178.3 115.86L181.77 117.92L185.33 119.93L188.97 121.89L192.7 123.81L196.51 125.69L200.42 127.52L204.42 129.31L208.51 131.06L212.7 132.76L216.99 134.43L221.38 136.06L225.88 137.65L230.48 139.21L235.19 140.73L240.01 142.21L244.95 143.66L250 145.08L252 145.08L252 19Z" fill="#f5f5f5"/><path d="M102.77 19L102.77 21L104.46 25.24L106.18 29.39L107.94 33.44L109.75 37.39L111.6 41.25L113.49 45.03L115.42 48.72L117.41 52.32L119.43 55.84L121.51 59.28L123.64 62.64L125.81 65.92L128.04 69.13L130.32 72.26L132.65 75.32L135.04 78.31L137.48 81.23L139.99 84.08L142.55 86.87L145.17 89.59L147.86 92.25L150.6 94.85L153.42 97.39L156.29 99.87L159.24 102.29L162.26 104.66L165.34 106.97L168.51 109.23L171.74 111.44L175.05 113.59L178.44 115.7L181.91 117.76L185.46 119.77L189.1 121.73L192.82 123.65L196.63 125.52L200.53 127.35L204.52 129.14L208.6 130.89L212.79 132.6L217.07 134.27L221.45 135.9L225.93 137.49L230.53 139.04L235.22 140.56L240.04 142.05L244.96 143.5L250 144.91L252 144.91L252 19Z" fill="#f9f9f9"/><path d="M102.97 19L102.97 21L104.65 25.23L106.38 29.37L108.14 33.41L109.95 37.35L111.79 41.21L113.69 44.97L115.62 48.66L117.6 52.25L119.63 55.76L121.71 59.2L123.83 62.55L126.01 65.82L128.23 69.02L130.51 72.15L132.84 75.21L135.23 78.19L137.67 81.11L140.17 83.96L142.73 86.74L145.35 89.46L148.04 92.11L150.78 94.71L153.59 97.25L156.47 99.72L159.41 102.14L162.42 104.51L165.51 106.82L168.66 109.08L171.89 111.28L175.2 113.43L178.58 115.54L182.05 117.6L185.6 119.6L189.22 121.57L192.94 123.49L196.74 125.36L200.63 127.19L204.62 128.98L208.7 130.72L212.87 132.43L217.14 134.1L221.51 135.73L225.99 137.32L230.57 138.88L235.26 140.39L240.06 141.88L244.97 143.33L250 144.75L252 144.75L252 19Z" fill="#fdfdfd"/><path d="M104.78 19L104.78 21L106.47 25.14L108.2 29.18L109.96 33.14L111.77 37L113.62 40.78L115.51 44.47L117.44 48.08L119.42 51.61L121.44 55.06L123.51 58.43L125.63 61.73L127.8 64.95L130.02 68.1L132.28 71.18L134.6 74.19L136.98 77.13L139.41 80L141.89 82.81L144.43 85.56L147.03 88.25L149.69 90.87L152.41 93.44L155.19 95.94L158.04 98.4L160.95 100.79L163.93 103.14L166.98 105.43L170.1 107.66L173.29 109.85L176.56 111.99L179.9 114.08L183.31 116.13L186.81 118.12L190.38 120.08L194.04 121.98L197.78 123.85L201.61 125.67L205.52 127.46L209.53 129.2L213.63 130.9L217.82 132.57L222.11 134.2L226.5 135.79L230.99 137.34L235.58 138.86L240.28 140.35L245.08 141.8L250 143.22L252 143.22L252 19Z" fill="#f9f9f9"/><path d="M105.07 19L105.07 21L106.76 25.12L108.48 29.15L110.25 33.1L112.05 36.95L113.9 40.71L115.79 44.4L117.73 47.99L119.7 51.51L121.73 54.95L123.8 58.31L125.91 61.6L128.08 64.81L130.29 67.96L132.56 71.03L134.88 74.03L137.25 76.96L139.68 79.83L142.16 82.64L144.7 85.38L147.29 88.06L149.95 90.68L152.66 93.24L155.44 95.74L158.29 98.19L161.19 100.58L164.17 102.92L167.21 105.21L170.33 107.44L173.51 109.63L176.77 111.77L180.1 113.85L183.51 115.9L186.99 117.89L190.56 119.84L194.21 121.75L197.94 123.61L201.76 125.44L205.66 127.22L209.66 128.96L213.75 130.66L217.93 132.33L222.2 133.96L226.58 135.55L231.05 137.1L235.63 138.62L240.31 140.11L245.1 141.56L250 142.98L252 142.98L252 19Z" fill="#f5f5f5"/><path d="M105.35 19L105.35 21L107.04 25.11L108.77 29.13L110.53 33.05L112.34 36.89L114.19 40.65L116.08 44.32L118.01 47.91L119.99 51.41L122.01 54.84L124.08 58.2L126.19 61.47L128.36 64.68L130.57 67.81L132.84 70.88L135.15 73.87L137.52 76.8L139.95 79.66L142.42 82.46L144.96 85.2L147.55 87.87L150.2 90.49L152.92 93.04L155.69 95.54L158.53 97.98L161.43 100.37L164.4 102.71L167.44 104.99L170.55 107.23L173.73 109.41L176.98 111.54L180.3 113.63L183.7 115.67L187.18 117.66L190.74 119.61L194.38 121.52L198.1 123.38L201.91 125.2L205.8 126.98L209.79 128.72L213.86 130.42L218.03 132.09L222.29 133.72L226.66 135.31L231.12 136.86L235.68 138.38L240.34 139.87L245.12 141.32L250 142.74L252 142.74L252 19Z" fill="#f1f1f1"/><path d="M105.64 19L105.64 21L107.33 25.09L109.05 29.1L110.82 33.01L112.62 36.84L114.47 40.58L116.36 44.24L118.29 47.82L120.27 51.32L122.29 54.74L124.36 58.08L126.48 61.35L128.64 64.55L130.85 67.67L133.11 70.73L135.43 73.71L137.79 76.63L140.21 79.49L142.69 82.28L145.22 85.01L147.81 87.68L150.46 90.29L153.17 92.84L155.94 95.34L158.78 97.78L161.67 100.16L164.64 102.5L167.67 104.78L170.77 107.01L173.94 109.19L177.19 111.32L180.5 113.4L183.9 115.44L187.37 117.43L190.92 119.38L194.55 121.28L198.26 123.14L202.06 124.96L205.94 126.74L209.92 128.48L213.98 130.19L218.14 131.85L222.39 133.48L226.73 135.07L231.18 136.62L235.73 138.14L240.38 139.63L245.13 141.08L250 142.5L252 142.5L252 19Z" fill="#ededed"/><path d="M105.92 19L105.92 21L107.61 25.08L109.34 29.07L111.1 32.97L112.91 36.79L114.76 40.52L116.65 44.16L118.58 47.73L120.55 51.22L122.58 54.63L124.64 57.96L126.76 61.22L128.92 64.41L131.13 67.53L133.39 70.58L135.7 73.56L138.06 76.47L140.48 79.32L142.96 82.11L145.49 84.83L148.07 87.5L150.72 90.1L153.42 92.65L156.19 95.14L159.02 97.57L161.91 99.96L164.87 102.28L167.9 104.56L170.99 106.79L174.16 108.96L177.4 111.09L180.71 113.17L184.09 115.21L187.56 117.2L191.1 119.15L194.72 121.05L198.42 122.91L202.21 124.73L206.08 126.51L210.04 128.25L214.1 129.95L218.24 131.61L222.48 133.24L226.81 134.83L231.24 136.38L235.78 137.9L240.41 139.39L245.15 140.84L250 142.26L252 142.26L252 19Z" fill="#e8e8e8"/><path d="M106.21 19L106.21 21L107.89 25.07L109.62 29.04L111.39 32.93L113.19 36.73L115.04 40.45L116.93 44.09L118.86 47.64L120.84 51.12L122.86 54.52L124.92 57.85L127.04 61.1L129.2 64.28L131.4 67.39L133.66 70.43L135.97 73.4L138.34 76.31L140.75 79.15L143.22 81.93L145.75 84.65L148.33 87.31L150.97 89.91L153.67 92.45L156.44 94.94L159.26 97.37L162.15 99.75L165.1 102.07L168.13 104.35L171.21 106.57L174.37 108.74L177.6 110.87L180.91 112.95L184.29 114.98L187.74 116.97L191.27 118.91L194.89 120.82L198.58 122.67L202.36 124.49L206.22 126.27L210.17 128.01L214.21 129.71L218.34 131.37L222.57 133L226.89 134.59L231.31 136.14L235.82 137.66L240.44 139.15L245.17 140.6L250 142.02L252 142.02L252 19Z" fill="#e4e4e4"/><path d="M106.45 19L106.45 21L108.13 25.05L109.86 29.02L111.63 32.9L113.44 36.69L115.28 40.4L117.17 44.02L119.1 47.57L121.08 51.04L123.1 54.43L125.16 57.75L127.27 60.99L129.43 64.16L131.64 67.27L133.9 70.3L136.2 73.27L138.57 76.17L140.98 79.01L143.45 81.78L145.97 84.5L148.55 87.15L151.19 89.75L153.89 92.29L156.65 94.77L159.47 97.2L162.35 99.57L165.3 101.89L168.32 104.16L171.4 106.38L174.56 108.56L177.78 110.68L181.08 112.76L184.45 114.79L187.9 116.78L191.42 118.72L195.03 120.62L198.71 122.48L202.48 124.29L206.34 126.07L210.28 127.81L214.31 129.51L218.43 131.17L222.65 132.8L226.95 134.38L231.36 135.94L235.87 137.46L240.47 138.95L245.18 140.4L250 141.82L252 141.82L252 19Z" fill="#e0e0e0"/><path d="M106.69 19L106.69 21L108.38 25.04L110.1 29L111.87 32.86L113.68 36.64L115.52 40.34L117.41 43.96L119.34 47.5L121.32 50.96L123.33 54.34L125.4 57.65L127.51 60.89L129.67 64.05L131.87 67.15L134.13 70.18L136.44 73.14L138.79 76.03L141.21 78.87L143.67 81.64L146.19 84.34L148.77 86.99L151.4 89.59L154.1 92.12L156.85 94.6L159.67 97.02L162.55 99.4L165.5 101.71L168.51 103.98L171.59 106.2L174.74 108.37L177.96 110.49L181.25 112.57L184.61 114.6L188.05 116.58L191.57 118.52L195.17 120.42L198.85 122.28L202.61 124.09L206.46 125.87L210.39 127.61L214.41 129.31L218.52 130.97L222.72 132.59L227.02 134.18L231.41 135.74L235.91 137.26L240.5 138.74L245.2 140.2L250 141.62L252 141.62L252 19Z" fill="#dcdcdc"/><path d="M106.93 19L106.93 21L108.62 25.03L110.34 28.97L112.11 32.83L113.92 36.6L115.76 40.29L117.65 43.89L119.58 47.42L121.56 50.87L123.57 54.25L125.64 57.55L127.75 60.78L129.9 63.94L132.11 67.03L134.36 70.05L136.67 73L139.02 75.9L141.43 78.72L143.89 81.49L146.41 84.19L148.99 86.84L151.62 89.43L154.31 91.96L157.06 94.43L159.88 96.85L162.75 99.22L165.69 101.54L168.7 103.8L171.78 106.02L174.92 108.18L178.13 110.3L181.42 112.38L184.78 114.4L188.21 116.39L191.72 118.33L195.31 120.22L198.98 122.08L202.74 123.9L206.57 125.67L210.49 127.41L214.51 129.1L218.61 130.77L222.8 132.39L227.08 133.98L231.47 135.53L235.95 137.05L240.53 138.54L245.21 140L250 141.42L252 141.42L252 19Z" fill="#d8d8d8"/><path d="M107.17 19L107.17 21L108.86 25.02L110.58 28.95L112.35 32.79L114.16 36.55L116 40.23L117.89 43.83L119.82 47.35L121.79 50.79L123.81 54.16L125.87 57.45L127.98 60.68L130.14 63.83L132.34 66.91L134.59 69.92L136.9 72.87L139.25 75.76L141.66 78.58L144.12 81.34L146.63 84.04L149.21 86.68L151.84 89.26L154.52 91.79L157.27 94.26L160.08 96.68L162.95 99.04L165.89 101.36L168.89 103.62L171.96 105.83L175.1 108L178.31 110.12L181.59 112.19L184.94 114.21L188.37 116.19L191.87 118.13L195.45 120.03L199.12 121.88L202.86 123.7L206.69 125.47L210.6 127.21L214.6 128.9L218.69 130.56L222.87 132.19L227.15 133.78L231.52 135.33L235.99 136.85L240.56 138.34L245.23 139.79L250 141.22L252 141.22L252 19Z" fill="#d4d4d4"/><path d="M107.41 19L107.41 21L109.1 25.01L110.83 28.93L112.59 32.76L114.4 36.51L116.24 40.18L118.13 43.77L120.06 47.28L122.03 50.71L124.05 54.07L126.11 57.36L128.22 60.57L130.37 63.71L132.57 66.79L134.83 69.8L137.13 72.74L139.48 75.62L141.88 78.44L144.34 81.19L146.85 83.89L149.42 86.52L152.05 89.1L154.74 91.63L157.48 94.09L160.29 96.51L163.15 98.87L166.09 101.18L169.08 103.44L172.15 105.65L175.28 107.81L178.48 109.93L181.75 112L185.1 114.02L188.52 116L192.02 117.94L195.59 119.83L199.25 121.68L202.98 123.5L206.8 125.27L210.71 127.01L214.7 128.7L218.78 130.36L222.95 131.99L227.21 133.58L231.57 135.13L236.03 136.65L240.58 138.14L245.24 139.59L250 141.01L252 141.01L252 19Z" fill="#d0d0d0"/><path d="M107.65 19L107.65 21L109.34 24.99L111.07 28.9L112.83 32.73L114.64 36.47L116.48 40.12L118.37 43.7L120.3 47.2L122.27 50.63L124.29 53.98L126.35 57.26L128.45 60.47L130.61 63.6L132.81 66.67L135.06 69.67L137.36 72.61L139.71 75.49L142.11 78.3L144.56 81.05L147.08 83.74L149.64 86.37L152.26 88.94L154.95 91.46L157.69 93.93L160.49 96.34L163.35 98.69L166.28 101L169.27 103.26L172.33 105.47L175.46 107.63L178.66 109.74L181.92 111.81L185.26 113.83L188.68 115.81L192.17 117.74L195.73 119.63L199.38 121.49L203.11 123.3L206.92 125.07L210.81 126.81L214.8 128.5L218.87 130.16L223.03 131.78L227.28 133.37L231.63 134.93L236.07 136.45L240.61 137.93L245.25 139.39L250 140.81L252 140.81L252 19Z" fill="#cccccc"/><path d="M107.89 19L107.89 21L109.58 24.98L111.31 28.88L113.07 32.69L114.88 36.42L116.73 40.07L118.61 43.64L120.54 47.13L122.51 50.55L124.53 53.89L126.59 57.16L128.69 60.36L130.84 63.49L133.04 66.55L135.29 69.55L137.59 72.48L139.93 75.35L142.33 78.16L144.79 80.9L147.3 83.59L149.86 86.21L152.48 88.78L155.16 91.3L157.89 93.76L160.69 96.17L163.55 98.52L166.48 100.82L169.46 103.08L172.52 105.28L175.64 107.44L178.83 109.55L182.09 111.62L185.42 113.64L188.83 115.61L192.31 117.55L195.87 119.44L199.51 121.29L203.23 123.1L207.03 124.87L210.92 126.61L214.89 128.3L218.95 129.96L223.1 131.58L227.34 133.17L231.68 134.72L236.11 136.24L240.64 137.73L245.27 139.19L250 140.61L252 140.61L252 19Z" fill="#c8c8c8"/><path d="M108.13 19L108.13 21L109.82 24.97L111.55 28.86L113.31 32.66L115.12 36.38L116.97 40.02L118.85 43.58L120.78 47.06L122.75 50.47L124.76 53.8L126.82 57.07L128.93 60.26L131.08 63.38L133.27 66.44L135.52 69.43L137.82 72.35L140.16 75.21L142.56 78.01L145.01 80.75L147.52 83.43L150.08 86.06L152.69 88.62L155.37 91.13L158.1 93.59L160.9 95.99L163.75 98.35L166.67 100.65L169.65 102.9L172.7 105.1L175.82 107.26L179 109.36L182.26 111.43L185.59 113.45L188.99 115.42L192.46 117.35L196.01 119.24L199.65 121.09L203.36 122.9L207.15 124.67L211.03 126.4L214.99 128.1L219.04 129.76L223.18 131.38L227.41 132.97L231.73 134.52L236.15 136.04L240.67 137.53L245.28 138.98L250 140.41L252 140.41L252 19Z" fill="#c3c3c3"/><path d="M108.3 19L108.3 21L109.99 24.96L111.72 28.84L113.49 32.63L115.29 36.34L117.14 39.98L119.03 43.53L120.95 47.01L122.92 50.41L124.94 53.74L126.99 57L129.1 60.18L131.25 63.3L133.44 66.35L135.69 69.34L137.98 72.26L140.33 75.12L142.72 77.91L145.17 80.65L147.68 83.33L150.23 85.94L152.85 88.51L155.52 91.02L158.25 93.47L161.04 95.87L163.9 98.22L166.81 100.52L169.79 102.77L172.84 104.97L175.95 107.12L179.13 109.23L182.38 111.29L185.7 113.31L189.1 115.28L192.57 117.21L196.12 119.1L199.74 120.95L203.45 122.76L207.23 124.53L211.1 126.26L215.06 127.95L219.1 129.61L223.23 131.23L227.45 132.82L231.77 134.37L236.18 135.89L240.69 137.38L245.29 138.84L250 140.26L252 140.26L252 19Z" fill="#bfbfbf"/><path d="M108.48 19L108.48 21L110.17 24.95L111.9 28.82L113.66 32.61L115.47 36.31L117.31 39.94L119.2 43.48L121.13 46.95L123.1 50.35L125.11 53.67L127.17 56.92L129.27 60.11L131.42 63.22L133.61 66.27L135.86 69.25L138.15 72.16L140.49 75.02L142.89 77.81L145.33 80.54L147.84 83.22L150.39 85.83L153 88.39L155.67 90.9L158.4 93.35L161.19 95.75L164.04 98.09L166.95 100.39L169.93 102.64L172.97 104.84L176.08 106.99L179.26 109.09L182.5 111.15L185.82 113.17L189.21 115.14L192.68 117.07L196.22 118.96L199.84 120.81L203.54 122.61L207.32 124.38L211.18 126.11L215.13 127.81L219.16 129.47L223.29 131.09L227.5 132.67L231.81 134.23L236.21 135.75L240.71 137.23L245.3 138.69L250 140.11L252 140.11L252 19Z" fill="#bbbbbb"/><path d="M108.65 19L108.65 21L110.34 24.95L112.07 28.81L113.84 32.58L115.64 36.28L117.49 39.9L119.37 43.44L121.3 46.9L123.27 50.29L125.28 53.61L127.34 56.85L129.44 60.03L131.59 63.14L133.78 66.18L136.02 69.16L138.31 72.07L140.66 74.92L143.05 77.71L145.5 80.44L147.99 83.11L150.55 85.72L153.16 88.28L155.83 90.78L158.55 93.23L161.34 95.62L164.18 97.97L167.09 100.26L170.07 102.51L173.1 104.7L176.21 106.85L179.38 108.96L182.62 111.01L185.94 113.03L189.32 115L192.78 116.93L196.32 118.82L199.93 120.66L203.63 122.47L207.4 124.24L211.26 125.97L215.2 127.66L219.22 129.32L223.34 130.94L227.55 132.53L231.84 134.08L236.24 135.6L240.73 137.09L245.31 138.54L250 139.96L252 139.96L252 19Z" fill="#b6b6b6"/><path d="M108.83 19L108.83 21L110.52 24.94L112.25 28.79L114.01 32.56L115.82 36.25L117.66 39.86L119.55 43.39L121.47 46.85L123.44 50.23L125.45 53.54L127.51 56.79L129.61 59.96L131.76 63.06L133.95 66.1L136.19 69.07L138.48 71.97L140.82 74.82L143.21 77.61L145.66 80.33L148.15 83L150.71 85.61L153.31 88.16L155.98 90.66L158.7 93.11L161.48 95.5L164.33 97.84L167.23 100.13L170.2 102.38L173.24 104.57L176.34 106.72L179.51 108.82L182.74 110.88L186.05 112.89L189.43 114.86L192.89 116.79L196.42 118.67L200.03 120.52L203.71 122.33L207.48 124.09L211.33 125.82L215.27 127.52L219.29 129.17L223.39 130.79L227.59 132.38L231.88 133.93L236.27 135.45L240.74 136.94L245.32 138.39L250 139.82L252 139.82L252 19Z" fill="#b2b2b2"/><path d="M109 19L109 21L110.69 24.93L112.42 28.77L114.19 32.54L115.99 36.22L117.84 39.82L119.72 43.35L121.65 46.8L123.62 50.18L125.63 53.48L127.68 56.72L129.78 59.88L131.93 62.98L134.12 66.01L136.36 68.98L138.65 71.88L140.99 74.72L143.38 77.5L145.82 80.22L148.31 82.89L150.86 85.49L153.47 88.05L156.13 90.54L158.85 92.98L161.63 95.38L164.47 97.71L167.37 100L170.34 102.25L173.37 104.44L176.47 106.58L179.63 108.68L182.87 110.74L186.17 112.75L189.55 114.72L193 116.65L196.52 118.53L200.12 120.38L203.8 122.18L207.56 123.95L211.41 125.68L215.34 127.37L219.35 129.03L223.45 130.65L227.64 132.23L231.92 133.79L236.29 135.31L240.76 136.79L245.33 138.25L250 139.67L252 139.67L252 19Z" fill="#aeaeae"/><path d="M109.18 19L109.18 21L110.87 24.92L112.6 28.76L114.36 32.51L116.17 36.19L118.01 39.78L119.9 43.3L121.82 46.75L123.79 50.12L125.8 53.42L127.85 56.65L129.95 59.81L132.1 62.9L134.29 65.93L136.53 68.89L138.81 71.79L141.15 74.62L143.54 77.4L145.98 80.12L148.47 82.78L151.02 85.38L153.62 87.93L156.28 90.42L159 92.86L161.78 95.25L164.62 97.59L167.51 99.88L170.48 102.12L173.5 104.31L176.6 106.45L179.76 108.55L182.99 110.6L186.29 112.61L189.66 114.58L193.1 116.51L196.62 118.39L200.22 120.23L203.89 122.04L207.65 123.8L211.48 125.53L215.4 127.22L219.41 128.88L223.5 130.5L227.68 132.09L231.96 133.64L236.32 135.16L240.78 136.64L245.34 138.1L250 139.52L252 139.52L252 19Z" fill="#a9a9a9"/><path d="M109.35 19L109.35 21L111.04 24.91L112.77 28.74L114.54 32.49L116.34 36.15L118.19 39.74L120.07 43.26L122 46.69L123.96 50.06L125.97 53.35L128.02 56.58L130.12 59.73L132.27 62.82L134.46 65.84L136.69 68.8L138.98 71.69L141.32 74.53L143.7 77.3L146.14 80.01L148.63 82.67L151.18 85.27L153.78 87.82L156.44 90.31L159.15 92.74L161.92 95.13L164.76 97.46L167.66 99.75L170.61 101.99L173.64 104.17L176.73 106.32L179.88 108.41L183.11 110.47L186.4 112.47L189.77 114.44L193.21 116.36L196.72 118.25L200.31 120.09L203.98 121.89L207.73 123.66L211.56 125.39L215.47 127.08L219.47 128.73L223.56 130.35L227.73 131.94L231.99 133.49L236.35 135.01L240.8 136.5L245.35 137.95L250 139.38L252 139.38L252 19Z" fill="#a5a5a5"/><path d="M109.53 19L109.53 21L111.22 24.9L112.95 28.72L114.71 32.46L116.52 36.12L118.36 39.7L120.24 43.21L122.17 46.64L124.14 50L126.14 53.29L128.2 56.51L130.29 59.66L132.44 62.74L134.62 65.76L136.86 68.71L139.15 71.6L141.48 74.43L143.86 77.2L146.3 79.91L148.79 82.56L151.33 85.16L153.93 87.7L156.59 90.19L159.3 92.62L162.07 95.01L164.9 97.34L167.8 99.62L170.75 101.86L173.77 104.04L176.86 106.18L180.01 108.28L183.23 110.33L186.52 112.34L189.88 114.3L193.31 116.22L196.82 118.11L200.41 119.95L204.07 121.75L207.81 123.52L211.64 125.24L215.54 126.93L219.53 128.59L223.61 130.21L227.78 131.79L232.03 133.35L236.38 134.86L240.82 136.35L245.36 137.81L250 139.23L252 139.23L252 19Z" fill="#a1a1a1"/><path d="M109.7 19L109.7 21L111.39 24.89L113.12 28.71L114.89 32.44L116.69 36.09L118.54 39.67L120.42 43.17L122.34 46.59L124.31 49.94L126.32 53.23L128.37 56.44L130.46 59.58L132.61 62.66L134.79 65.67L137.03 68.62L139.31 71.51L141.64 74.33L144.03 77.1L146.46 79.8L148.95 82.45L151.49 85.05L154.09 87.59L156.74 90.07L159.45 92.5L162.22 94.88L165.05 97.21L167.93 99.49L170.89 101.73L173.9 103.91L176.98 106.05L180.13 108.14L183.35 110.19L186.63 112.2L189.99 114.16L193.42 116.08L196.92 117.96L200.5 119.81L204.16 121.61L207.89 123.37L211.71 125.1L215.61 126.79L219.59 128.44L223.66 130.06L227.82 131.65L232.07 133.2L236.41 134.72L240.84 136.2L245.37 137.66L250 139.08L252 139.08L252 19Z" fill="#9c9c9c"/><path d="M109.88 19L109.88 21L111.57 24.89L113.3 28.69L115.06 32.41L116.87 36.06L118.71 39.63L120.59 43.12L122.52 46.54L124.48 49.89L126.49 53.16L128.54 56.37L130.63 59.51L132.77 62.58L134.96 65.59L137.19 68.53L139.48 71.41L141.81 74.24L144.19 77L146.62 79.7L149.11 82.35L151.65 84.94L154.24 87.47L156.89 89.95L159.6 92.38L162.36 94.76L165.19 97.09L168.07 99.37L171.02 101.6L174.04 103.78L177.11 105.92L180.26 108.01L183.47 110.06L186.75 112.06L190.1 114.02L193.52 115.94L197.02 117.82L200.6 119.66L204.25 121.46L207.98 123.23L211.79 124.95L215.68 126.64L219.66 128.3L223.72 129.92L227.87 131.5L232.11 133.05L236.44 134.57L240.86 136.06L245.38 137.51L250 138.94L252 138.94L252 19Z" fill="#989898"/><path d="M110.05 19L110.05 21L111.74 24.88L113.47 28.67L115.24 32.39L117.04 36.03L118.88 39.59L120.77 43.08L122.69 46.49L124.65 49.83L126.66 53.1L128.71 56.3L130.8 59.43L132.94 62.5L135.13 65.5L137.36 68.44L139.64 71.32L141.97 74.14L144.35 76.9L146.78 79.59L149.27 82.24L151.8 84.82L154.39 87.36L157.04 89.83L159.75 92.26L162.51 94.64L165.33 96.96L168.21 99.24L171.16 101.47L174.17 103.65L177.24 105.78L180.38 107.87L183.59 109.92L186.86 111.92L190.21 113.88L193.63 115.8L197.12 117.68L200.69 119.52L204.34 121.32L208.06 123.08L211.86 124.81L215.75 126.5L219.72 128.15L223.77 129.77L227.91 131.35L232.14 132.9L236.47 134.42L240.88 135.91L245.39 137.36L250 138.79L252 138.79L252 19Z" fill="#949494"/><path d="M110.23 19L110.23 21L111.92 24.87L113.65 28.66L115.41 32.37L117.22 36L119.06 39.55L120.94 43.03L122.86 46.44L124.83 49.77L126.83 53.04L128.88 56.23L130.97 59.36L133.11 62.42L135.3 65.42L137.53 68.36L139.81 71.23L142.14 74.04L144.51 76.79L146.94 79.49L149.42 82.13L151.96 84.71L154.55 87.24L157.19 89.72L159.89 92.14L162.65 94.51L165.47 96.84L168.35 99.11L171.3 101.34L174.3 103.52L177.37 105.65L180.5 107.74L183.71 109.78L186.98 111.78L190.32 113.74L193.74 115.66L197.22 117.54L200.78 119.38L204.42 121.18L208.14 122.94L211.94 124.66L215.82 126.35L219.78 128L223.82 129.62L227.96 131.21L232.18 132.76L236.49 134.28L240.9 135.76L245.4 137.22L250 138.64L252 138.64L252 19Z" fill="#909090"/><path d="M110.4 19L110.4 21L112.09 24.86L113.82 28.64L115.59 32.34L117.39 35.97L119.23 39.51L121.11 42.99L123.04 46.39L125 49.71L127 52.97L129.05 56.16L131.15 59.29L133.28 62.34L135.47 65.34L137.7 68.27L139.97 71.14L142.3 73.94L144.68 76.69L147.1 79.39L149.58 82.02L152.11 84.6L154.7 87.13L157.34 89.6L160.04 92.02L162.8 94.39L165.62 96.71L168.49 98.98L171.43 101.21L174.43 103.38L177.5 105.52L180.63 107.6L183.83 109.65L187.09 111.65L190.43 113.6L193.84 115.52L197.32 117.4L200.88 119.24L204.51 121.03L208.22 122.79L212.01 124.52L215.88 126.21L219.84 127.86L223.88 129.48L228 131.06L232.22 132.61L236.52 134.13L240.92 135.61L245.41 137.07L250 138.49L252 138.49L252 19Z" fill="#8c8c8c"/><path d="M110.58 19L110.58 21L112.27 24.85L114 28.63L115.76 32.32L117.56 35.93L119.41 39.47L121.29 42.94L123.21 46.33L125.17 49.66L127.18 52.91L129.22 56.09L131.32 59.21L133.45 62.26L135.63 65.25L137.86 68.18L140.14 71.04L142.46 73.85L144.84 76.59L147.26 79.28L149.74 81.91L152.27 84.49L154.86 87.01L157.5 89.48L160.19 91.9L162.95 94.27L165.76 96.59L168.63 98.86L171.57 101.08L174.56 103.25L177.63 105.38L180.75 107.47L183.95 109.51L187.21 111.51L190.54 113.47L193.95 115.38L197.42 117.26L200.97 119.09L204.6 120.89L208.3 122.65L212.09 124.37L215.95 126.06L219.9 127.71L223.93 129.33L228.05 130.91L232.26 132.46L236.55 133.98L240.94 135.47L245.42 136.92L250 138.35L252 138.35L252 19Z" fill="#888888"/><path d="M110.75 19L110.75 21L112.44 24.84L114.17 28.61L115.94 32.29L117.74 35.9L119.58 39.44L121.46 42.9L123.38 46.28L125.34 49.6L127.35 52.85L129.39 56.03L131.49 59.14L133.62 62.19L135.8 65.17L138.03 68.09L140.3 70.95L142.63 73.75L145 76.49L147.42 79.18L149.9 81.81L152.43 84.38L155.01 86.9L157.65 89.37L160.34 91.78L163.09 94.15L165.9 96.46L168.77 98.73L171.7 100.95L174.7 103.12L177.75 105.25L180.88 107.33L184.07 109.37L187.32 111.37L190.65 113.33L194.05 115.24L197.52 117.12L201.07 118.95L204.69 120.75L208.38 122.51L212.16 124.23L216.02 125.92L219.96 127.57L223.98 129.18L228.09 130.77L232.29 132.32L236.58 133.83L240.96 135.32L245.43 136.78L250 138.2L252 138.2L252 19Z" fill="#848484"/><path d="M110.92 19L110.92 21L112.62 24.84L114.35 28.59L116.11 32.27L117.91 35.87L119.75 39.4L121.63 42.85L123.56 46.23L125.52 49.54L127.52 52.78L129.57 55.96L131.66 59.06L133.79 62.11L135.97 65.09L138.19 68L140.47 70.86L142.79 73.65L145.16 76.39L147.58 79.07L150.06 81.7L152.58 84.27L155.16 86.79L157.8 89.25L160.49 91.66L163.24 94.02L166.04 96.34L168.91 98.6L171.84 100.82L174.83 102.99L177.88 105.12L181 107.2L184.19 109.24L187.44 111.23L190.76 113.19L194.15 115.1L197.62 116.97L201.16 118.81L204.77 120.6L208.47 122.36L212.24 124.09L216.09 125.77L220.02 127.42L224.04 129.04L228.14 130.62L232.33 132.17L236.61 133.69L240.98 135.17L245.44 136.63L250 138.05L252 138.05L252 19Z" fill="#7f7f7f"/><path d="M111.1 19L111.1 21L112.79 24.83L114.52 28.58L116.29 32.25L118.09 35.84L119.93 39.36L121.81 42.81L123.73 46.18L125.69 49.49L127.69 52.72L129.74 55.89L131.83 58.99L133.96 62.03L136.14 65L138.36 67.91L140.63 70.77L142.95 73.56L145.32 76.29L147.74 78.97L150.21 81.59L152.74 84.16L155.31 86.67L157.95 89.13L160.64 91.54L163.38 93.9L166.18 96.21L169.05 98.48L171.97 100.69L174.96 102.86L178.01 104.99L181.12 107.07L184.3 109.1L187.55 111.1L190.87 113.05L194.26 114.96L197.72 116.83L201.25 118.67L204.86 120.46L208.55 122.22L212.31 123.94L216.16 125.63L220.08 127.28L224.09 128.89L228.18 130.47L232.37 132.02L236.64 133.54L241 135.03L245.45 136.48L250 137.91L252 137.91L252 19Z" fill="#7b7b7b"/><path d="M111.27 19L111.27 21L112.97 24.82L114.69 28.56L116.46 32.22L118.26 35.81L120.1 39.32L121.98 42.76L123.9 46.13L125.86 49.43L127.86 52.66L129.91 55.82L131.99 58.92L134.13 61.95L136.3 64.92L138.53 67.83L140.8 70.67L143.12 73.46L145.48 76.19L147.9 78.87L150.37 81.48L152.89 84.05L155.47 86.56L158.1 89.02L160.78 91.42L163.53 93.78L166.33 96.09L169.19 98.35L172.11 100.56L175.09 102.73L178.14 104.85L181.25 106.93L184.42 108.97L187.67 110.96L190.98 112.91L194.36 114.82L197.82 116.69L201.35 118.52L204.95 120.32L208.63 122.08L212.39 123.8L216.22 125.48L220.14 127.13L224.14 128.75L228.23 130.33L232.4 131.88L236.66 133.39L241.02 134.88L245.46 136.33L250 137.76L252 137.76L252 19Z" fill="#777777"/><path d="M111.45 19L111.45 21L113.14 24.81L114.87 28.54L116.63 32.2L118.44 35.78L120.28 39.29L122.16 42.72L124.07 46.08L126.03 49.37L128.03 52.6L130.08 55.75L132.16 58.84L134.3 61.87L136.47 64.84L138.69 67.74L140.96 70.58L143.28 73.37L145.64 76.09L148.06 78.76L150.53 81.38L153.05 83.94L155.62 86.45L158.25 88.9L160.93 91.3L163.67 93.66L166.47 95.97L169.32 98.22L172.24 100.43L175.22 102.6L178.26 104.72L181.37 106.8L184.54 108.83L187.78 110.82L191.09 112.77L194.47 114.68L197.92 116.55L201.44 118.38L205.04 120.18L208.71 121.93L212.46 123.65L216.29 125.34L220.2 126.99L224.2 128.6L228.27 130.18L232.44 131.73L236.69 133.25L241.04 134.73L245.47 136.19L250 137.61L252 137.61L252 19Z" fill="#737373"/><path d="M111.65 19L111.65 21L113.34 24.8L115.07 28.53L116.83 32.17L118.63 35.75L120.47 39.24L122.35 42.67L124.27 46.02L126.23 49.31L128.23 52.53L130.27 55.68L132.36 58.76L134.48 61.78L136.66 64.74L138.88 67.64L141.15 70.48L143.46 73.26L145.83 75.98L148.24 78.65L150.7 81.26L153.22 83.81L155.79 86.32L158.42 88.77L161.1 91.17L163.83 93.52L166.63 95.83L169.48 98.08L172.39 100.29L175.37 102.45L178.41 104.57L181.51 106.65L184.67 108.68L187.91 110.67L191.21 112.62L194.58 114.52L198.03 116.39L201.54 118.22L205.13 120.02L208.8 121.77L212.54 123.49L216.37 125.17L220.27 126.82L224.25 128.44L228.32 130.02L232.48 131.57L236.72 133.08L241.06 134.57L245.48 136.02L250 137.45L252 137.45L252 19Z" fill="#6f6f6f"/><path d="M111.86 19L111.86 21L113.56 24.79L115.28 28.51L117.05 32.14L118.85 35.71L120.69 39.2L122.57 42.61L124.48 45.96L126.44 49.24L128.44 52.45L130.48 55.59L132.57 58.67L134.7 61.69L136.87 64.64L139.09 67.53L141.35 70.36L143.67 73.14L146.03 75.86L148.44 78.52L150.9 81.12L153.42 83.68L155.98 86.18L158.6 88.62L161.28 91.02L164.01 93.37L166.8 95.67L169.65 97.92L172.56 100.13L175.53 102.29L178.56 104.41L181.66 106.48L184.82 108.51L188.05 110.5L191.35 112.44L194.71 114.35L198.15 116.22L201.66 118.05L205.24 119.84L208.9 121.59L212.64 123.31L216.45 124.99L220.34 126.64L224.32 128.25L228.38 129.83L232.53 131.38L236.76 132.9L241.08 134.38L245.49 135.84L250 137.26L252 137.26L252 19Z" fill="#6b6b6b"/><path d="M112.08 19L112.08 21L113.77 24.78L115.5 28.49L117.27 32.11L119.07 35.67L120.91 39.15L122.78 42.56L124.7 45.9L126.66 49.17L128.66 52.37L130.7 55.51L132.78 58.58L134.91 61.59L137.08 64.54L139.29 67.42L141.56 70.25L143.87 73.02L146.23 75.73L148.64 78.39L151.1 80.99L153.61 83.54L156.17 86.04L158.79 88.48L161.46 90.87L164.19 93.22L166.98 95.52L169.82 97.77L172.73 99.97L175.69 102.13L178.72 104.24L181.81 106.31L184.97 108.34L188.19 110.33L191.48 112.27L194.84 114.18L198.27 116.04L201.77 117.87L205.35 119.66L209 121.41L212.73 123.13L216.53 124.81L220.42 126.46L224.39 128.07L228.44 129.65L232.57 131.2L236.79 132.71L241.1 134.2L245.51 135.65L250 137.08L252 137.08L252 19Z" fill="#676767"/><path d="M112.3 19L112.3 21L113.99 24.77L115.72 28.47L117.48 32.09L119.29 35.63L121.12 39.1L123 42.5L124.92 45.83L126.87 49.1L128.87 52.29L130.91 55.42L132.99 58.49L135.12 61.49L137.29 64.43L139.5 67.31L141.76 70.14L144.07 72.9L146.43 75.61L148.84 78.26L151.29 80.86L153.8 83.4L156.36 85.89L158.98 88.34L161.65 90.73L164.37 93.07L167.15 95.36L170 97.61L172.9 99.81L175.86 101.97L178.88 104.08L181.97 106.14L185.12 108.17L188.33 110.15L191.62 112.1L194.97 114L198.39 115.87L201.89 117.69L205.46 119.48L209.1 121.23L212.82 122.95L216.62 124.63L220.49 126.28L224.45 127.89L228.49 129.47L232.62 131.02L236.83 132.53L241.13 134.02L245.52 135.47L250 136.89L252 136.89L252 19Z" fill="#636363"/><path d="M112.52 19L112.52 21L114.21 24.76L115.94 28.45L117.7 32.06L119.5 35.59L121.34 39.06L123.22 42.45L125.13 45.77L127.09 49.03L129.08 52.22L131.12 55.34L133.2 58.4L135.33 61.4L137.49 64.33L139.71 67.21L141.97 70.02L144.27 72.78L146.63 75.48L149.03 78.13L151.49 80.73L153.99 83.27L156.55 85.75L159.16 88.19L161.83 90.58L164.55 92.92L167.33 95.21L170.17 97.45L173.06 99.65L176.02 101.8L179.04 103.91L182.12 105.98L185.26 108L188.48 109.98L191.75 111.93L195.1 113.83L198.52 115.69L202 117.52L205.57 119.3L209.2 121.05L212.91 122.77L216.7 124.45L220.57 126.09L224.52 127.71L228.55 129.29L232.66 130.83L236.86 132.35L241.15 133.83L245.53 135.29L250 136.71L252 136.71L252 19Z" fill="#5f5f5f"/><path d="M112.74 19L112.74 21L114.43 24.75L116.16 28.43L117.92 32.03L119.72 35.55L121.56 39.01L123.43 42.39L125.35 45.71L127.3 48.96L129.3 52.14L131.33 55.25L133.41 58.31L135.54 61.3L137.7 64.23L139.91 67.1L142.17 69.91L144.48 72.66L146.83 75.36L149.23 78L151.68 80.59L154.19 83.13L156.74 85.61L159.35 88.05L162.01 90.43L164.73 92.77L167.51 95.05L170.34 97.29L173.23 99.49L176.18 101.64L179.19 103.75L182.27 105.81L185.41 107.83L188.62 109.81L191.89 111.75L195.23 113.65L198.64 115.51L202.12 117.34L205.67 119.12L209.3 120.87L213 122.59L216.78 124.27L220.64 125.91L224.58 127.52L228.6 129.1L232.71 130.65L236.9 132.16L241.18 133.65L245.54 135.1L250 136.53L252 136.53L252 19Z" fill="#5b5b5b"/><path d="M112.96 19L112.96 21L114.65 24.74L116.38 28.41L118.14 32L119.94 35.52L121.77 38.96L123.65 42.34L125.56 45.65L127.52 48.89L129.51 52.06L131.55 55.17L133.62 58.22L135.75 61.2L137.91 64.13L140.12 66.99L142.38 69.8L144.68 72.54L147.03 75.24L149.43 77.88L151.88 80.46L154.38 82.99L156.93 85.47L159.54 87.9L162.2 90.28L164.91 92.62L167.68 94.9L170.51 97.14L173.4 99.33L176.34 101.48L179.35 103.58L182.42 105.64L185.56 107.66L188.76 109.64L192.02 111.58L195.36 113.48L198.76 115.34L202.23 117.16L205.78 118.95L209.4 120.7L213.09 122.41L216.87 124.09L220.72 125.73L224.65 127.34L228.66 128.92L232.75 130.47L236.93 131.98L241.2 133.46L245.55 134.92L250 136.34L252 136.34L252 19Z" fill="#565656"/><path d="M113.18 19L113.18 21L114.87 24.73L116.59 28.39L118.36 31.97L120.16 35.48L121.99 38.92L123.87 42.28L125.78 45.58L127.73 48.82L129.72 51.98L131.76 55.09L133.84 58.13L135.96 61.11L138.12 64.02L140.33 66.88L142.58 69.68L144.88 72.43L147.23 75.11L149.63 77.75L152.07 80.33L154.57 82.86L157.12 85.33L159.72 87.76L162.38 90.14L165.09 92.47L167.86 94.75L170.68 96.98L173.56 99.17L176.51 101.32L179.51 103.42L182.57 105.48L185.7 107.5L188.9 109.47L192.16 111.41L195.49 113.31L198.88 115.16L202.35 116.99L205.89 118.77L209.5 120.52L213.19 122.23L216.95 123.91L220.79 125.55L224.71 127.16L228.71 128.74L232.8 130.28L236.97 131.8L241.22 133.28L245.57 134.73L250 136.16L252 136.16L252 19Z" fill="#525252"/><path d="M113.39 19L113.39 21L115.09 24.72L116.81 28.37L118.57 31.94L120.37 35.44L122.21 38.87L124.08 42.23L125.99 45.52L127.95 48.75L129.94 51.91L131.97 55L134.05 58.04L136.16 61.01L138.33 63.92L140.53 66.77L142.79 69.57L145.08 72.31L147.43 74.99L149.82 77.62L152.27 80.2L154.76 82.72L157.31 85.19L159.91 87.62L162.56 89.99L165.27 92.31L168.03 94.59L170.85 96.83L173.73 99.01L176.67 101.16L179.67 103.26L182.73 105.31L185.85 107.33L189.04 109.3L192.29 111.24L195.61 113.13L199 114.99L202.46 116.81L205.99 118.59L209.6 120.34L213.28 122.05L217.03 123.73L220.86 125.37L224.78 126.98L228.77 128.56L232.84 130.1L237 131.61L241.25 133.1L245.58 134.55L250 135.97L252 135.97L252 19Z" fill="#4e4e4e"/><path d="M113.61 19L113.61 21L115.3 24.71L117.03 28.35L118.79 31.91L120.59 35.4L122.43 38.82L124.3 42.18L126.21 45.46L128.16 48.68L130.15 51.83L132.18 54.92L134.26 57.95L136.37 60.91L138.53 63.82L140.74 66.67L142.99 69.46L145.29 72.19L147.63 74.87L150.02 77.49L152.46 80.07L154.96 82.58L157.5 85.05L160.09 87.47L162.74 89.84L165.45 92.16L168.21 94.44L171.02 96.67L173.9 98.85L176.83 100.99L179.82 103.09L182.88 105.15L186 107.16L189.18 109.13L192.43 111.07L195.74 112.96L199.12 114.81L202.58 116.63L206.1 118.41L209.7 120.16L213.37 121.87L217.11 123.55L220.94 125.19L224.84 126.8L228.82 128.37L232.89 129.92L237.04 131.43L241.27 132.91L245.59 134.37L250 135.79L252 135.79L252 19Z" fill="#4a4a4a"/><path d="M113.9 19L113.9 21L115.59 24.7L117.31 28.32L119.07 31.87L120.87 35.35L122.71 38.76L124.58 42.11L126.49 45.38L128.44 48.59L130.43 51.73L132.46 54.81L134.53 57.83L136.65 60.79L138.8 63.69L141.01 66.53L143.25 69.31L145.55 72.04L147.89 74.71L150.28 77.33L152.72 79.89L155.2 82.41L157.74 84.87L160.33 87.29L162.98 89.65L165.68 91.97L168.43 94.24L171.24 96.47L174.11 98.65L177.04 100.78L180.02 102.88L183.07 104.93L186.18 106.94L189.36 108.91L192.6 110.84L195.91 112.73L199.28 114.59L202.72 116.4L206.24 118.18L209.83 119.93L213.49 121.64L217.22 123.31L221.03 124.95L224.92 126.56L228.89 128.14L232.94 129.68L237.08 131.19L241.3 132.68L245.61 134.13L250 135.55L252 135.55L252 19Z" fill="#464646"/><path d="M114.29 19L114.29 21L115.98 24.68L117.71 28.29L119.47 31.82L121.26 35.29L123.1 38.68L124.97 42.01L126.88 45.27L128.82 48.46L130.81 51.6L132.84 54.66L134.91 57.67L137.02 60.62L139.18 63.51L141.38 66.34L143.62 69.11L145.91 71.83L148.25 74.49L150.63 77.1L153.07 79.66L155.55 82.17L158.08 84.62L160.67 87.03L163.31 89.39L166 91.7L168.74 93.97L171.55 96.19L174.41 98.36L177.33 100.5L180.3 102.58L183.34 104.63L186.45 106.64L189.61 108.61L192.84 110.53L196.13 112.42L199.5 114.27L202.93 116.09L206.43 117.86L210 119.61L213.65 121.31L217.37 122.99L221.16 124.63L225.04 126.23L228.99 127.81L233.02 129.35L237.14 130.86L241.34 132.34L245.63 133.8L250 135.22L252 135.22L252 19Z" fill="#424242"/><path d="M114.68 19L114.68 21L116.37 24.66L118.1 28.25L119.86 31.77L121.65 35.22L123.49 38.6L125.36 41.91L127.26 45.16L129.21 48.34L131.2 51.46L133.22 54.52L135.29 57.51L137.4 60.45L139.55 63.32L141.75 66.14L143.99 68.91L146.27 71.62L148.61 74.27L150.99 76.87L153.41 79.42L155.89 81.92L158.42 84.37L161 86.77L163.63 89.13L166.32 91.43L169.06 93.69L171.85 95.91L174.7 98.08L177.61 100.21L180.58 102.29L183.61 104.34L186.71 106.34L189.86 108.3L193.08 110.23L196.36 112.11L199.71 113.96L203.13 115.77L206.62 117.55L210.18 119.29L213.81 120.99L217.52 122.66L221.3 124.3L225.15 125.91L229.09 127.48L233.1 129.02L237.2 130.53L241.38 132.01L245.65 133.47L250 134.89L252 134.89L252 19Z" fill="#3e3e3e"/><path d="M115.08 19L115.08 21L116.77 24.65L118.49 28.22L120.25 31.72L122.04 35.15L123.88 38.52L125.74 41.82L127.65 45.05L129.59 48.22L131.58 51.32L133.6 54.37L135.67 57.35L137.77 60.28L139.92 63.14L142.12 65.95L144.35 68.71L146.63 71.41L148.96 74.05L151.34 76.65L153.76 79.19L156.23 81.68L158.76 84.12L161.33 86.52L163.96 88.86L166.63 91.16L169.37 93.42L172.16 95.63L175 97.79L177.9 99.92L180.86 102L183.88 104.04L186.97 106.04L190.11 108L193.32 109.92L196.59 111.8L199.93 113.65L203.33 115.46L206.81 117.23L210.35 118.97L213.97 120.67L217.66 122.34L221.43 123.98L225.27 125.58L229.19 127.15L233.18 128.69L237.26 130.2L241.42 131.68L245.67 133.14L250 134.56L252 134.56L252 19Z" fill="#3a3a3a"/><path d="M115.47 19L115.47 21L117.16 24.63L118.88 28.18L120.64 31.67L122.44 35.09L124.27 38.44L126.13 41.72L128.04 44.94L129.98 48.09L131.96 51.19L133.98 54.22L136.04 57.19L138.15 60.11L140.29 62.96L142.48 65.76L144.72 68.51L147 71.2L149.32 73.84L151.69 76.42L154.11 78.96L156.58 81.44L159.09 83.88L161.66 86.26L164.28 88.6L166.95 90.9L169.68 93.15L172.46 95.35L175.3 97.51L178.19 99.63L181.14 101.71L184.15 103.74L187.22 105.74L190.36 107.69L193.55 109.61L196.82 111.49L200.14 113.33L203.54 115.14L207 116.91L210.53 118.65L214.13 120.35L217.81 122.02L221.56 123.65L225.38 125.25L229.28 126.82L233.26 128.36L237.32 129.87L241.46 131.35L245.69 132.81L250 134.23L252 134.23L252 19Z" fill="#363636"/><path d="M115.88 19L115.88 21L117.57 24.61L119.3 28.15L121.05 31.62L122.85 35.02L124.68 38.35L126.54 41.62L128.44 44.82L130.38 47.97L132.36 51.05L134.38 54.07L136.44 57.03L138.54 59.93L140.69 62.77L142.87 65.56L145.1 68.3L147.38 70.98L149.7 73.61L152.06 76.18L154.48 78.71L156.94 81.19L159.45 83.61L162.01 85.99L164.62 88.33L167.29 90.62L170.01 92.86L172.78 95.06L175.61 97.21L178.49 99.33L181.43 101.4L184.43 103.43L187.5 105.42L190.62 107.37L193.8 109.29L197.05 111.16L200.37 113L203.75 114.81L207.2 116.58L210.71 118.31L214.3 120.01L217.96 121.67L221.69 123.31L225.5 124.91L229.38 126.48L233.35 128.02L237.39 129.53L241.51 131.01L245.71 132.46L250 133.88L252 133.88L252 19Z" fill="#323232"/><path d="M116.34 19L116.34 21L118.03 24.59L119.75 28.11L121.51 31.56L123.3 34.94L125.13 38.26L126.99 41.51L128.89 44.7L130.83 47.82L132.81 50.89L134.83 53.89L136.88 56.84L138.98 59.73L141.12 62.56L143.3 65.34L145.53 68.07L147.8 70.74L150.11 73.35L152.47 75.92L154.88 78.44L157.33 80.91L159.84 83.33L162.39 85.7L165 88.02L167.66 90.31L170.37 92.54L173.13 94.73L175.95 96.88L178.82 98.99L181.76 101.06L184.75 103.09L187.8 105.07L190.91 107.02L194.08 108.93L197.32 110.8L200.62 112.64L203.98 114.44L207.41 116.21L210.92 117.94L214.49 119.63L218.13 121.3L221.84 122.93L225.63 124.53L229.5 126.1L233.44 127.63L237.46 129.14L241.56 130.62L245.74 132.07L250 133.49L252 133.49L252 19Z" fill="#2e2e2e"/><path d="M116.8 19L116.8 21L118.49 24.57L120.21 28.07L121.97 31.5L123.76 34.86L125.58 38.16L127.45 41.4L129.34 44.57L131.28 47.68L133.25 50.73L135.27 53.73L137.32 56.66L139.42 59.54L141.55 62.36L143.73 65.12L145.95 67.83L148.21 70.49L150.52 73.1L152.88 75.66L155.28 78.17L157.73 80.63L160.23 83.04L162.78 85.4L165.37 87.72L168.02 90L170.72 92.23L173.48 94.41L176.29 96.56L179.15 98.66L182.08 100.72L185.06 102.74L188.09 104.72L191.19 106.67L194.35 108.57L197.58 110.44L200.86 112.28L204.21 114.07L207.63 115.84L211.12 117.56L214.67 119.26L218.3 120.92L221.99 122.55L225.76 124.15L229.61 125.72L233.53 127.25L237.53 128.76L241.6 130.24L245.76 131.68L250 133.11L252 133.11L252 19Z" fill="#2a2a2a"/><path d="M117.26 19L117.26 21L118.95 24.55L120.67 28.03L122.42 31.44L124.21 34.79L126.04 38.07L127.9 41.29L129.79 44.45L131.73 47.54L133.7 50.58L135.71 53.56L137.76 56.48L139.85 59.34L141.98 62.15L144.16 64.9L146.37 67.6L148.63 70.25L150.94 72.85L153.29 75.4L155.68 77.9L158.13 80.35L160.62 82.75L163.16 85.11L165.75 87.42L168.39 89.69L171.08 91.91L173.83 94.09L176.63 96.23L179.49 98.33L182.4 100.38L185.37 102.4L188.39 104.38L191.48 106.32L194.63 108.22L197.84 110.08L201.11 111.91L204.45 113.71L207.85 115.47L211.32 117.19L214.86 118.88L218.46 120.54L222.14 122.17L225.89 123.77L229.72 125.33L233.62 126.87L237.59 128.37L241.65 129.85L245.78 131.3L250 132.72L252 132.72L252 19Z" fill="#262626"/><path d="M117.94 19L117.94 21L119.62 24.52L121.34 27.97L123.1 31.36L124.88 34.68L126.71 37.93L128.56 41.13L130.46 44.26L132.39 47.34L134.35 50.35L136.36 53.31L138.41 56.21L140.49 59.05L142.62 61.84L144.79 64.58L147 67.27L149.25 69.9L151.55 72.48L153.89 75.02L156.27 77.5L158.71 79.94L161.19 82.33L163.72 84.68L166.3 86.98L168.93 89.23L171.61 91.45L174.34 93.62L177.13 95.75L179.97 97.83L182.87 99.88L185.82 101.89L188.83 103.86L191.9 105.8L195.03 107.69L198.22 109.55L201.47 111.38L204.79 113.17L208.17 114.92L211.61 116.64L215.13 118.33L218.71 119.99L222.36 121.61L226.08 123.21L229.88 124.77L233.75 126.3L237.7 127.81L241.72 129.28L245.82 130.73L250 132.15L252 132.15L252 19Z" fill="#222222"/><path d="M118.81 19L118.81 21L120.5 24.48L122.21 27.9L123.96 31.25L125.75 34.53L127.57 37.76L129.42 40.92L131.31 44.03L133.24 47.07L135.2 50.06L137.2 52.99L139.24 55.87L141.32 58.69L143.44 61.45L145.6 64.17L147.8 66.83L150.04 69.45L152.33 72.01L154.66 74.53L157.04 76.99L159.46 79.41L161.93 81.79L164.44 84.12L167.01 86.41L169.62 88.65L172.29 90.85L175 93.01L177.77 95.13L180.59 97.2L183.47 99.24L186.4 101.24L189.39 103.21L192.44 105.13L195.54 107.02L198.71 108.87L201.93 110.69L205.22 112.47L208.58 114.22L211.99 115.94L215.47 117.62L219.02 119.27L222.64 120.9L226.33 122.49L230.09 124.05L233.92 125.58L237.83 127.08L241.81 128.55L245.86 130L250 131.41L252 131.41L252 19Z" fill="#1d1d1d"/><path d="M119.69 19L119.69 21L121.37 24.44L123.08 27.82L124.83 31.14L126.61 34.39L128.43 37.58L130.28 40.72L132.16 43.79L134.08 46.81L136.04 49.77L138.04 52.67L140.07 55.52L142.14 58.32L144.25 61.07L146.4 63.76L148.6 66.4L150.83 69L153.11 71.54L155.43 74.04L157.79 76.49L160.2 78.89L162.66 81.25L165.16 83.57L167.71 85.84L170.31 88.07L172.96 90.26L175.66 92.4L178.41 94.51L181.21 96.58L184.07 98.61L186.98 100.6L189.95 102.55L192.97 104.47L196.06 106.35L199.2 108.19L202.4 110L205.66 111.78L208.98 113.52L212.37 115.23L215.82 116.91L219.34 118.56L222.92 120.18L226.57 121.76L230.29 123.32L234.09 124.85L237.95 126.35L241.89 127.82L245.91 129.26L250 130.68L252 130.68L252 19Z" fill="#191919"/><path d="M120.56 19L120.56 21L122.24 24.41L123.95 27.75L125.7 31.03L127.48 34.25L129.29 37.41L131.13 40.52L133.01 43.56L134.93 46.55L136.88 49.48L138.87 52.36L140.9 55.19L142.96 57.96L145.07 60.68L147.21 63.35L149.39 65.98L151.62 68.55L153.88 71.07L156.19 73.55L158.55 75.99L160.95 78.37L163.39 80.72L165.88 83.02L168.41 85.28L171 87.49L173.63 89.67L176.31 91.8L179.05 93.9L181.83 95.95L184.67 97.97L187.56 99.95L190.5 101.9L193.51 103.8L196.56 105.68L199.68 107.51L202.85 109.32L206.09 111.09L209.38 112.83L212.74 114.53L216.16 116.21L219.64 117.85L223.19 119.46L226.81 121.04L230.5 122.6L234.25 124.12L238.08 125.62L241.98 127.09L245.95 128.53L250 129.94L252 129.94L252 19Z" fill="#151515"/><path d="M122.66 19L122.66 21L124.33 24.32L126.04 27.58L127.78 30.78L129.55 33.92L131.35 37.01L133.18 40.04L135.05 43.01L136.96 45.93L138.89 48.8L140.87 51.62L142.88 54.39L144.93 57.1L147.01 59.77L149.13 62.39L151.29 64.96L153.5 67.49L155.74 69.97L158.02 72.4L160.35 74.79L162.72 77.14L165.13 79.45L167.58 81.71L170.08 83.93L172.63 86.12L175.23 88.26L177.87 90.37L180.56 92.43L183.3 94.46L186.09 96.46L188.93 98.41L191.82 100.33L194.77 102.22L197.77 104.07L200.82 105.89L203.94 107.68L207.11 109.44L210.33 111.16L213.62 112.85L216.97 114.51L220.38 116.14L223.85 117.74L227.38 119.32L230.98 120.86L234.65 122.38L238.38 123.87L242.18 125.33L246.06 126.77L250 128.18L252 128.18L252 19Z" fill="#111111"/><path d="M125.13 19L125.13 21L126.79 24.22L128.49 27.38L130.22 30.49L131.98 33.54L133.77 36.54L135.59 39.48L137.44 42.38L139.33 45.22L141.25 48.02L143.21 50.76L145.2 53.46L147.22 56.11L149.28 58.72L151.38 61.27L153.52 63.79L155.69 66.26L157.9 68.68L160.15 71.07L162.44 73.41L164.78 75.71L167.15 77.97L169.57 80.19L172.03 82.37L174.53 84.52L177.08 86.63L179.67 88.7L182.31 90.73L185 92.73L187.73 94.69L190.51 96.62L193.35 98.51L196.23 100.38L199.16 102.21L202.15 104L205.19 105.77L208.28 107.5L211.43 109.21L214.64 110.88L217.9 112.53L221.22 114.14L224.6 115.73L228.04 117.29L231.54 118.83L235.1 120.33L238.73 121.81L242.42 123.27L246.18 124.7L250 126.1L252 126.1L252 19Z" fill="#0d0d0d"/><path d="M131.4 19L131.4 21L133.04 23.97L134.71 26.9L136.41 29.78L138.13 32.61L139.88 35.4L141.67 38.14L143.48 40.84L145.32 43.49L147.19 46.1L149.09 48.67L151.02 51.19L152.99 53.68L154.98 56.13L157.01 58.53L159.08 60.9L161.17 63.23L163.31 65.52L165.47 67.77L167.68 69.99L169.91 72.17L172.19 74.32L174.5 76.43L176.85 78.51L179.24 80.55L181.67 82.56L184.14 84.54L186.65 86.49L189.2 88.4L191.79 90.29L194.43 92.14L197.1 93.97L199.83 95.76L202.59 97.52L205.41 99.26L208.27 100.97L211.17 102.65L214.12 104.3L217.13 105.93L220.18 107.53L223.28 109.11L226.43 110.66L229.64 112.18L232.89 113.68L236.2 115.15L239.57 116.61L242.99 118.03L246.47 119.44L250 120.82L252 120.82L252 19Z" fill="#090909"/><path d="M140.75 19L140.75 21L142.34 23.64L143.95 26.24L145.59 28.8L147.25 31.32L148.93 33.81L150.64 36.26L152.37 38.68L154.13 41.06L155.91 43.41L157.72 45.73L159.56 48.01L161.42 50.26L163.31 52.48L165.23 54.66L167.17 56.82L169.15 58.94L171.15 61.03L173.18 63.09L175.24 65.13L177.33 67.13L179.45 69.11L181.6 71.05L183.79 72.97L186 74.86L188.25 76.73L190.53 78.56L192.84 80.38L195.19 82.16L197.57 83.92L199.99 85.66L202.44 87.37L204.92 89.05L207.45 90.71L210.01 92.35L212.6 93.96L215.24 95.55L217.91 97.12L220.62 98.67L223.37 100.19L226.16 101.69L228.99 103.17L231.87 104.63L234.78 106.07L237.74 107.48L240.74 108.88L243.78 110.26L246.87 111.61L250 112.95L252 112.95L252 19Z" fill="#fff"/><g clip-path="url(#na)" stroke="#e6e6e6" stroke-width="0.8"><line x1="75.2" y1="21" x2="75.2" y2="204.9"/><line x1="118.9" y1="21" x2="118.9" y2="204.9"/><line x1="162.6" y1="21" x2="162.6" y2="204.9"/><line x1="206.3" y1="21" x2="206.3" y2="204.9"/><line x1="31.5" y1="168.12" x2="250" y2="168.12"/><line x1="31.5" y1="131.34" x2="250" y2="131.34"/><line x1="31.5" y1="94.56" x2="250" y2="94.56"/><line x1="31.5" y1="57.78" x2="250" y2="57.78"/><path d="M31.5 21.4H249.6V204.9" fill="none"/></g><linearGradient id="wg" gradientUnits="userSpaceOnUse" x1="60" y1="0" x2="90" y2="0"><stop offset="0" stop-color="#fff"/><stop offset="1" stop-color="#fff" stop-opacity="0"/></linearGradient><path d="M32.5 150L33.6 160L34.1 170L35.4 178L37 185L38.6 190L41.5 193.5L45.5 195.7L49.7 196.6L52.7 197.9L62 199.2L70 199.8L80 200.5L92 201.3L32 201.3Z" fill="url(#wg)"/><rect x="33.7" y="201.2" width="216.3" height="4" fill="#060606"/><path d="M33.4 182.5C33.3 187 33.3 192 33.5 196C33.7 198.5 33.9 200 34.3 201.5L48 201.5C44 200.8 40.5 199.6 38.6 197.8C37.2 196.2 36.2 194 35.4 191.5C34.8 188.5 34.3 185.5 34 182.5Z" fill="#060606"/><path d="M34.3 201.6C36.5 201.6 39.5 201.7 42 202" fill="none" stroke="#fff" stroke-width="1.2" stroke-linecap="round" opacity="0.9"/><linearGradient id="aga" gradientUnits="userSpaceOnUse" x1="45" y1="0" x2="67" y2="0"><stop offset="0" stop-color="#fff" stop-opacity="0.15"/><stop offset="0.45" stop-color="#fff" stop-opacity="0.6"/><stop offset="1" stop-color="#fff" stop-opacity="0.2"/></linearGradient><path d="M45.48 169.56L46.45 171.83L47.41 173.83L48.37 175.6L49.33 177.18L50.29 178.6L51.25 179.88L52.21 181.04L53.18 182.1L54.14 183.07L55.1 183.96L56.06 184.78L57.02 185.53L57.98 186.24L58.94 186.89L59.9 187.5L60.87 188.07L61.83 188.6L62.79 189.1L63.75 189.58L64.71 190.02" fill="none" stroke="url(#aga)" stroke-width="1" stroke-linecap="round"/><path d="M50.73 168.54L51.56 170.04L52.39 171.43L53.22 172.71L54.05 173.89L54.88 174.99L55.71 176.02L56.54 176.98L57.37 177.87L58.2 178.71L59.03 179.5L59.86 180.25L60.69 180.95L61.52 181.61L62.35 182.24L63.18 182.83L64.01 183.4L64.84 183.93L65.67 184.44L66.5 184.93L67.33 185.39" fill="none" stroke="url(#aga)" stroke-width="0.9" stroke-linecap="round" opacity="0.7"/></g><g clip-path="url(#cbh)"><rect x="389.2" y="19.1" width="220.1" height="187.5" fill="#0a0a0a"/><path d="M389.26 19.1L389.26 21.1L389.27 26.41L389.28 31.73L389.3 37.04L389.32 42.36L389.34 47.67L389.37 52.98L389.4 58.3L389.43 63.61L389.48 68.92L389.53 74.24L389.59 79.55L389.66 84.87L389.75 90.18L389.85 95.49L389.97 100.81L390.12 106.12L390.29 111.44L390.49 116.75L390.73 122.06L391.02 127.38L391.36 132.69L391.76 138L392.24 143.32L392.8 148.63L393.47 153.95L394.27 159.26L395.22 164.57L396.34 169.89L397.67 175.2L399.25 180.52L401.12 185.83L403.35 191.14L405.98 196.46L409.11 201.77L412.83 207.08L417.23 207.6L422.46 207.6L428.66 207.6L436.02 207.6L444.74 207.6L455.1 207.6L467.39 207.6L481.97 207.6L499.26 207.6L519.79 207.6L544.14 207.6L573.02 207.6L607.3 207.6L609.3 207.6L609.3 19.1Z" fill="#0a0a0a"/><path d="M389.64 19.1L389.64 21.1L389.7 25.12L389.77 29.14L389.85 33.16L389.94 37.17L390.04 41.19L390.16 45.21L390.29 49.23L390.44 53.25L390.61 57.27L390.8 61.29L391.02 65.31L391.28 69.32L391.56 73.34L391.89 77.36L392.26 81.38L392.68 85.4L393.16 89.42L393.71 93.44L394.33 97.45L395.04 101.47L395.85 105.49L396.76 109.51L397.81 113.53L398.99 117.55L400.35 121.57L401.88 125.58L403.64 129.6L405.63 133.62L407.9 137.64L410.48 141.66L413.41 145.68L416.75 149.7L420.56 153.72L424.89 157.73L429.81 161.75L435.42 165.77L441.8 169.79L449.06 173.81L457.32 177.83L466.72 181.85L477.42 185.86L489.6 189.88L503.46 193.9L519.23 197.92L537.18 201.94L557.6 205.96L580.85 207.6L607.3 207.6L609.3 207.6L609.3 19.1Z" fill="#0e0e0e"/><path d="M389.83 19.1L389.83 21.1L389.91 24.89L390 28.68L390.1 32.47L390.22 36.26L390.35 40.05L390.5 43.84L390.67 47.62L390.86 51.41L391.08 55.2L391.32 58.99L391.6 62.78L391.91 66.57L392.26 70.36L392.65 74.15L393.1 77.94L393.61 81.73L394.18 85.52L394.83 89.31L395.56 93.1L396.38 96.89L397.31 100.67L398.36 104.46L399.55 108.25L400.89 112.04L402.41 115.83L404.12 119.62L406.06 123.41L408.24 127.2L410.71 130.99L413.5 134.78L416.65 138.57L420.21 142.36L424.23 146.15L428.77 149.94L433.9 153.72L439.7 157.51L446.25 161.3L453.64 165.09L462 168.88L471.44 172.67L482.1 176.46L494.15 180.25L507.75 184.04L523.12 187.83L540.49 191.62L560.11 195.41L582.27 199.2L607.3 202.99L609.3 202.99L609.3 19.1Z" fill="#121212"/><path d="M389.94 19.1L389.94 21.1L390.03 24.78L390.14 28.46L390.26 32.14L390.39 35.82L390.54 39.5L390.71 43.18L390.9 46.86L391.11 50.55L391.35 54.23L391.62 57.91L391.93 61.59L392.27 65.27L392.66 68.95L393.09 72.63L393.58 76.31L394.13 79.99L394.75 83.67L395.45 87.35L396.23 91.03L397.12 94.71L398.11 98.39L399.23 102.08L400.49 105.76L401.91 109.44L403.51 113.12L405.31 116.8L407.34 120.48L409.62 124.16L412.19 127.84L415.08 131.52L418.33 135.2L421.99 138.88L426.11 142.56L430.75 146.24L435.98 149.92L441.86 153.61L448.48 157.29L455.93 160.97L464.32 164.65L473.77 168.33L484.4 172.01L496.37 175.69L509.84 179.37L525.01 183.05L542.08 186.73L561.3 190.41L582.94 194.09L607.3 197.77L609.3 197.77L609.3 19.1Z" fill="#161616"/><path d="M390.07 19.1L390.07 21.1L390.18 24.68L390.3 28.25L390.43 31.83L390.58 35.41L390.75 38.98L390.94 42.56L391.15 46.14L391.39 49.71L391.65 53.29L391.95 56.87L392.29 60.44L392.66 64.02L393.09 67.6L393.56 71.17L394.09 74.75L394.69 78.33L395.36 81.9L396.11 85.48L396.95 89.06L397.89 92.63L398.96 96.21L400.14 99.79L401.48 103.36L402.98 106.94L404.66 110.52L406.54 114.09L408.66 117.67L411.03 121.25L413.69 124.82L416.68 128.4L420.03 131.98L423.79 135.56L428.01 139.13L432.75 142.71L438.06 146.29L444.02 149.86L450.7 153.44L458.2 157.02L466.62 160.59L476.06 164.17L486.66 167.75L498.54 171.32L511.88 174.9L526.84 178.48L543.63 182.05L562.46 185.63L583.59 189.21L607.3 192.78L609.3 192.78L609.3 19.1Z" fill="#1a1a1a"/><path d="M390.19 19.1L390.19 21.1L390.31 24.59L390.44 28.09L390.59 31.58L390.75 35.07L390.94 38.56L391.14 42.06L391.38 45.55L391.64 49.04L391.92 52.53L392.25 56.03L392.61 59.52L393.02 63.01L393.47 66.5L393.98 70L394.55 73.49L395.18 76.98L395.89 80.47L396.69 83.97L397.58 87.46L398.58 90.95L399.69 94.44L400.94 97.94L402.34 101.43L403.9 104.92L405.65 108.42L407.61 111.91L409.8 115.4L412.25 118.89L414.99 122.39L418.05 125.88L421.48 129.37L425.32 132.86L429.62 136.36L434.43 139.85L439.81 143.34L445.83 146.83L452.56 150.33L460.1 153.82L468.53 157.31L477.96 160.8L488.52 164.3L500.33 167.79L513.55 171.28L528.34 174.78L544.88 178.27L563.4 181.76L584.12 185.25L607.3 188.75L609.3 188.75L609.3 19.1Z" fill="#1e1e1e"/><path d="M390.28 19.1L390.28 21.1L390.41 24.54L390.55 27.98L390.7 31.41L390.88 34.85L391.08 38.29L391.3 41.73L391.54 45.16L391.81 48.6L392.12 52.04L392.46 55.48L392.84 58.91L393.27 62.35L393.74 65.79L394.28 69.23L394.87 72.66L395.53 76.1L396.27 79.54L397.1 82.98L398.02 86.41L399.06 89.85L400.21 93.29L401.5 96.73L402.93 100.16L404.54 103.6L406.33 107.04L408.34 110.48L410.58 113.91L413.08 117.35L415.87 120.79L418.99 124.23L422.47 127.66L426.36 131.1L430.71 134.54L435.56 137.98L440.99 141.41L447.04 144.85L453.81 148.29L461.36 151.73L469.8 155.17L479.23 158.6L489.76 162.04L501.52 165.48L514.65 168.92L529.33 172.35L545.71 175.79L564.02 179.23L584.46 182.67L607.3 186.1L609.3 186.1L609.3 19.1Z" fill="#222222"/><path d="M390.37 19.1L390.37 21.1L390.5 24.49L390.65 27.87L390.82 31.26L391.01 34.64L391.22 38.03L391.45 41.41L391.71 44.8L391.99 48.18L392.32 51.57L392.68 54.96L393.07 58.34L393.52 61.73L394.02 65.11L394.57 68.5L395.19 71.88L395.88 75.27L396.65 78.65L397.51 82.04L398.46 85.43L399.53 88.81L400.72 92.2L402.04 95.58L403.52 98.97L405.17 102.35L407.01 105.74L409.06 109.12L411.34 112.51L413.89 115.9L416.73 119.28L419.9 122.67L423.43 126.05L427.37 129.44L431.76 132.82L436.66 136.21L442.12 139.6L448.22 142.98L455.01 146.37L462.58 149.75L471.03 153.14L480.44 156.52L490.94 159.91L502.65 163.29L515.71 166.68L530.27 170.07L546.5 173.45L564.6 176.84L584.79 180.22L607.3 183.61L609.3 183.61L609.3 19.1Z" fill="#262626"/><path d="M390.43 19.1L390.43 21.1L390.57 24.45L390.73 27.8L390.9 31.16L391.1 34.51L391.31 37.86L391.55 41.21L391.82 44.56L392.12 47.92L392.45 51.27L392.82 54.62L393.23 57.97L393.69 61.32L394.2 64.68L394.77 68.03L395.41 71.38L396.12 74.73L396.9 78.08L397.78 81.43L398.76 84.79L399.85 88.14L401.06 91.49L402.41 94.84L403.91 98.19L405.59 101.55L407.46 104.9L409.53 108.25L411.85 111.6L414.43 114.95L417.3 118.31L420.5 121.66L424.07 125.01L428.04 128.36L432.46 131.71L437.39 135.07L442.87 138.42L448.99 141.77L455.8 145.12L463.38 148.47L471.83 151.83L481.24 155.18L491.72 158.53L503.39 161.88L516.39 165.23L530.88 168.59L547.01 171.94L564.98 175.29L585 178.64L607.3 181.99L609.3 181.99L609.3 19.1Z" fill="#2a2a2a"/><path d="M390.5 19.1L390.5 21.1L390.64 24.42L390.81 27.74L390.99 31.05L391.19 34.37L391.41 37.69L391.66 41.01L391.94 44.33L392.25 47.65L392.59 50.96L392.97 54.28L393.4 57.6L393.87 60.92L394.4 64.24L394.98 67.56L395.63 70.87L396.36 74.19L397.17 77.51L398.06 80.83L399.06 84.15L400.17 87.47L401.41 90.78L402.79 94.1L404.32 97.42L406.02 100.74L407.92 104.06L410.02 107.38L412.37 110.69L414.98 114.01L417.89 117.33L421.12 120.65L424.71 123.97L428.72 127.29L433.17 130.6L438.12 133.92L443.63 137.24L449.77 140.56L456.59 143.88L464.19 147.2L472.63 150.51L482.04 153.83L492.5 157.15L504.13 160.47L517.08 163.79L531.49 167.1L547.53 170.42L565.37 173.74L585.21 177.06L607.3 180.38L609.3 180.38L609.3 19.1Z" fill="#2e2e2e"/><path d="M390.57 19.1L390.57 21.1L390.72 24.38L390.89 27.67L391.08 30.95L391.29 34.24L391.52 37.52L391.78 40.81L392.06 44.09L392.38 47.38L392.74 50.66L393.13 53.95L393.57 57.23L394.06 60.52L394.6 63.8L395.2 67.09L395.87 70.37L396.61 73.65L397.44 76.94L398.36 80.22L399.38 83.51L400.51 86.79L401.77 90.08L403.17 93.36L404.73 96.65L406.46 99.93L408.39 103.22L410.53 106.5L412.9 109.79L415.55 113.07L418.48 116.35L421.75 119.64L425.37 122.92L429.41 126.21L433.89 129.49L438.87 132.78L444.41 136.06L450.56 139.35L457.4 142.63L465 145.92L473.45 149.2L482.84 152.49L493.28 155.77L504.88 159.06L517.78 162.34L532.11 165.62L548.04 168.91L565.75 172.19L585.43 175.48L607.3 178.76L609.3 178.76L609.3 19.1Z" fill="#323232"/><path d="M390.62 19.1L390.62 21.1L390.78 24.36L390.95 27.62L391.15 30.88L391.36 34.13L391.6 37.39L391.87 40.65L392.16 43.91L392.49 47.17L392.85 50.43L393.26 53.69L393.71 56.95L394.21 60.2L394.76 63.46L395.37 66.72L396.06 69.98L396.81 73.24L397.65 76.5L398.59 79.76L399.63 83.01L400.78 86.27L402.06 89.53L403.48 92.79L405.06 96.05L406.81 99.31L408.76 102.57L410.92 105.83L413.32 109.08L415.99 112.34L418.95 115.6L422.24 118.86L425.89 122.12L429.95 125.38L434.45 128.64L439.45 131.89L445.01 135.15L451.18 138.41L458.03 141.67L465.64 144.93L474.09 148.19L483.47 151.45L493.89 154.7L505.47 157.96L518.32 161.22L532.59 164.48L548.44 167.74L566.04 171L585.59 174.26L607.3 177.52L609.3 177.52L609.3 19.1Z" fill="#373737"/><path d="M390.68 19.1L390.68 21.1L390.84 24.33L391.02 27.57L391.22 30.8L391.44 34.04L391.69 37.27L391.96 40.51L392.26 43.74L392.6 46.97L392.97 50.21L393.38 53.44L393.84 56.68L394.35 59.91L394.91 63.14L395.54 66.38L396.24 69.61L397.01 72.85L397.86 76.08L398.81 79.32L399.87 82.55L401.04 85.78L402.34 89.02L403.78 92.25L405.38 95.49L407.15 98.72L409.12 101.95L411.3 105.19L413.73 108.42L416.42 111.66L419.4 114.89L422.71 118.13L426.39 121.36L430.46 124.59L434.99 127.83L440.01 131.06L445.58 134.3L451.77 137.53L458.63 140.76L466.24 144L474.69 147.23L484.07 150.47L494.47 153.7L506.02 156.94L518.83 160.17L533.04 163.4L548.82 166.64L566.32 169.87L585.75 173.11L607.3 176.34L609.3 176.34L609.3 19.1Z" fill="#3b3b3b"/><path d="M390.73 19.1L390.73 21.1L390.9 24.31L391.09 27.52L391.29 30.73L391.52 33.94L391.77 37.15L392.05 40.36L392.36 43.57L392.7 46.78L393.09 49.99L393.51 53.2L393.98 56.41L394.5 59.62L395.07 62.83L395.71 66.04L396.42 69.25L397.21 72.46L398.08 75.67L399.04 78.87L400.11 82.08L401.3 85.29L402.62 88.5L404.08 91.71L405.7 94.92L407.49 98.13L409.48 101.34L411.69 104.55L414.13 107.76L416.85 110.97L419.85 114.18L423.19 117.39L426.89 120.6L430.99 123.81L435.53 127.02L440.57 130.23L446.16 133.44L452.36 136.65L459.23 139.86L466.85 143.07L475.3 146.28L484.67 149.49L495.05 152.7L506.57 155.91L519.34 159.12L533.5 162.33L549.19 165.54L566.6 168.75L585.9 171.96L607.3 175.17L609.3 175.17L609.3 19.1Z" fill="#3f3f3f"/><path d="M390.79 19.1L390.79 21.1L390.97 24.29L391.16 27.47L391.37 30.66L391.6 33.84L391.86 37.03L392.15 40.21L392.46 43.4L392.82 46.58L393.21 49.77L393.64 52.95L394.12 56.14L394.65 59.32L395.24 62.51L395.89 65.69L396.61 68.88L397.41 72.06L398.3 75.25L399.28 78.43L400.37 81.62L401.57 84.81L402.91 87.99L404.39 91.18L406.02 94.36L407.84 97.55L409.85 100.73L412.08 103.92L414.55 107.1L417.29 110.29L420.32 113.47L423.67 116.66L427.4 119.84L431.52 123.03L436.08 126.21L441.14 129.4L446.75 132.58L452.96 135.77L459.84 138.95L467.47 142.14L475.91 145.32L485.27 148.51L495.64 151.7L507.12 154.88L519.85 158.07L533.95 161.25L549.57 164.44L566.88 167.62L586.06 170.81L607.3 173.99L609.3 173.99L609.3 19.1Z" fill="#434343"/><path d="M390.85 19.1L390.85 21.1L391.03 24.26L391.22 27.42L391.44 30.59L391.68 33.75L391.95 36.91L392.24 40.07L392.56 43.24L392.93 46.4L393.32 49.56L393.77 52.72L394.25 55.89L394.8 59.05L395.4 62.21L396.06 65.37L396.79 68.53L397.61 71.7L398.51 74.86L399.5 78.02L400.61 81.18L401.83 84.35L403.18 87.51L404.68 90.67L406.34 93.83L408.17 97L410.21 100.16L412.46 103.32L414.95 106.48L417.7 109.64L420.76 112.81L424.14 115.97L427.88 119.13L432.02 122.29L436.61 125.46L441.68 128.62L447.3 131.78L453.53 134.94L460.42 138.11L468.05 141.27L476.49 144.43L485.84 147.59L496.19 150.75L507.65 153.92L520.33 157.08L534.38 160.24L549.93 163.4L567.14 166.57L586.2 169.73L607.3 172.89L609.3 172.89L609.3 19.1Z" fill="#474747"/><path d="M390.9 19.1L390.9 21.1L391.08 24.24L391.28 27.38L391.51 30.53L391.75 33.67L392.02 36.81L392.32 39.95L392.65 43.1L393.02 46.24L393.43 49.38L393.88 52.52L394.38 55.67L394.93 58.81L395.54 61.95L396.21 65.09L396.96 68.24L397.78 71.38L398.69 74.52L399.7 77.66L400.82 80.81L402.06 83.95L403.43 87.09L404.94 90.23L406.61 93.38L408.47 96.52L410.52 99.66L412.78 102.8L415.29 105.95L418.07 109.09L421.14 112.23L424.54 115.37L428.3 118.52L432.46 121.66L437.06 124.8L442.16 127.94L447.79 131.09L454.02 134.23L460.92 137.37L468.55 140.51L476.99 143.66L486.33 146.8L496.67 149.94L508.1 153.08L520.75 156.22L534.75 159.37L550.24 162.51L567.37 165.65L586.33 168.79L607.3 171.94L609.3 171.94L609.3 19.1Z" fill="#4b4b4b"/><path d="M390.96 19.1L390.96 21.1L391.14 24.22L391.35 27.35L391.57 30.47L391.82 33.59L392.1 36.71L392.41 39.84L392.75 42.96L393.12 46.08L393.53 49.2L393.99 52.33L394.5 55.45L395.06 58.57L395.68 61.69L396.36 64.82L397.12 67.94L397.96 71.06L398.88 74.18L399.91 77.31L401.04 80.43L402.29 83.55L403.67 86.67L405.2 89.8L406.89 92.92L408.76 96.04L410.83 99.16L413.12 102.29L415.65 105.41L418.44 108.53L421.53 111.65L424.95 114.78L428.73 117.9L432.91 121.02L437.52 124.14L442.63 127.27L448.28 130.39L454.52 133.51L461.43 136.63L469.06 139.76L477.5 142.88L486.83 146L497.15 149.12L508.56 152.25L521.18 155.37L535.12 158.49L550.55 161.62L567.6 164.74L586.45 167.86L607.3 170.98L609.3 170.98L609.3 19.1Z" fill="#4f4f4f"/><path d="M391.01 19.1L391.01 21.1L391.2 24.2L391.41 27.31L391.64 30.41L391.9 33.51L392.18 36.61L392.49 39.72L392.84 42.82L393.22 45.92L393.64 49.02L394.11 52.13L394.63 55.23L395.2 58.33L395.83 61.43L396.52 64.54L397.29 67.64L398.14 70.74L399.08 73.85L400.11 76.95L401.26 80.05L402.53 83.15L403.93 86.26L405.47 89.36L407.18 92.46L409.07 95.56L411.15 98.67L413.46 101.77L416 104.87L418.82 107.98L421.93 111.08L425.36 114.18L429.16 117.28L433.36 120.39L437.99 123.49L443.11 126.59L448.77 129.69L455.03 132.8L461.94 135.9L469.57 139L478.01 142.1L487.33 145.21L497.64 148.31L509.02 151.41L521.6 154.52L535.5 157.62L550.86 160.72L567.83 163.82L586.58 166.93L607.3 170.03L609.3 170.03L609.3 19.1Z" fill="#535353"/><path d="M391.07 19.1L391.07 21.1L391.26 24.18L391.48 27.27L391.71 30.35L391.98 33.43L392.26 36.51L392.58 39.6L392.94 42.68L393.33 45.76L393.76 48.85L394.23 51.93L394.76 55.01L395.34 58.09L395.98 61.18L396.68 64.26L397.46 67.34L398.32 70.42L399.28 73.51L400.33 76.59L401.49 79.67L402.77 82.76L404.18 85.84L405.74 88.92L407.47 92L409.37 95.09L411.48 98.17L413.8 101.25L416.37 104.34L419.2 107.42L422.33 110.5L425.78 113.58L429.6 116.67L433.81 119.75L438.46 122.83L443.6 125.92L449.27 129L455.53 132.08L462.45 135.16L470.09 138.25L478.52 141.33L487.84 144.41L498.12 147.49L509.48 150.58L522.02 153.66L535.87 156.74L551.17 159.83L568.06 162.91L586.71 165.99L607.3 169.07L609.3 169.07L609.3 19.1Z" fill="#575757"/><path d="M391.12 19.1L391.12 21.1L391.31 24.17L391.53 27.23L391.77 30.3L392.04 33.36L392.34 36.43L392.66 39.5L393.02 42.56L393.42 45.63L393.85 48.69L394.34 51.76L394.87 54.83L395.46 57.89L396.11 60.96L396.82 64.02L397.61 67.09L398.48 70.16L399.45 73.22L400.51 76.29L401.68 79.35L402.97 82.42L404.4 85.49L405.98 88.55L407.72 91.62L409.64 94.68L411.76 97.75L414.1 100.82L416.68 103.88L419.53 106.95L422.67 110.01L426.14 113.08L429.97 116.15L434.2 119.21L438.86 122.28L444.01 125.34L449.69 128.41L455.97 131.48L462.89 134.54L470.53 137.61L478.96 140.67L488.27 143.74L498.54 146.81L509.87 149.87L522.38 152.94L536.19 156L551.43 159.07L568.25 162.14L586.81 165.2L607.3 168.27L609.3 168.27L609.3 19.1Z" fill="#5b5b5b"/><path d="M391.16 19.1L391.16 21.1L391.36 24.15L391.59 27.2L391.83 30.25L392.1 33.3L392.4 36.35L392.73 39.4L393.1 42.45L393.5 45.51L393.94 48.56L394.43 51.61L394.97 54.66L395.57 57.71L396.23 60.76L396.95 63.81L397.75 66.86L398.63 69.91L399.6 72.96L400.68 76.01L401.86 79.06L403.17 82.11L404.61 85.16L406.2 88.22L407.95 91.27L409.88 94.32L412.01 97.37L414.37 100.42L416.96 103.47L419.83 106.52L422.98 109.57L426.47 112.62L430.31 115.67L434.55 118.72L439.23 121.77L444.39 124.82L450.08 127.87L456.36 130.92L463.29 133.98L470.93 137.03L479.36 140.08L488.66 143.13L498.91 146.18L510.23 149.23L522.71 152.28L536.48 155.33L551.67 158.38L568.43 161.43L586.91 164.48L607.3 167.53L609.3 167.53L609.3 19.1Z" fill="#606060"/><path d="M391.21 19.1L391.21 21.1L391.41 24.14L391.64 27.17L391.89 30.21L392.17 33.24L392.47 36.28L392.81 39.31L393.18 42.35L393.59 45.38L394.04 48.42L394.53 51.45L395.08 54.49L395.68 57.52L396.35 60.56L397.08 63.6L397.89 66.63L398.78 69.67L399.76 72.7L400.85 75.74L402.04 78.77L403.36 81.81L404.81 84.84L406.41 87.88L408.18 90.91L410.13 93.95L412.27 96.98L414.64 100.02L417.25 103.06L420.13 106.09L423.3 109.13L426.8 112.16L430.66 115.2L434.91 118.23L439.6 121.27L444.77 124.3L450.47 127.34L456.76 130.37L463.69 133.41L471.33 136.45L479.76 139.48L489.05 142.52L499.29 145.55L510.59 148.59L523.04 151.62L536.77 154.66L551.91 157.69L568.6 160.73L587.01 163.76L607.3 166.8L609.3 166.8L609.3 19.1Z" fill="#646464"/><path d="M391.26 19.1L391.26 21.1L391.47 24.12L391.7 27.14L391.95 30.16L392.23 33.18L392.54 36.2L392.88 39.22L393.26 42.24L393.67 45.26L394.13 48.28L394.63 51.3L395.19 54.32L395.8 57.34L396.47 60.36L397.21 63.38L398.03 66.4L398.93 69.42L399.93 72.44L401.02 75.46L402.23 78.48L403.56 81.5L405.02 84.52L406.64 87.54L408.41 90.56L410.38 93.58L412.54 96.6L414.92 99.62L417.54 102.64L420.43 105.66L423.62 108.68L427.14 111.7L431.01 114.72L435.27 117.74L439.97 120.76L445.16 123.78L450.87 126.8L457.16 129.82L464.09 132.84L471.74 135.86L480.16 138.88L489.44 141.9L499.67 144.92L510.94 147.94L523.37 150.96L537.06 153.98L552.15 157L568.78 160.02L587.1 163.04L607.3 166.07L609.3 166.07L609.3 19.1Z" fill="#696969"/><path d="M391.31 19.1L391.31 21.1L391.52 24.1L391.75 27.11L392.01 30.11L392.3 33.12L392.61 36.12L392.96 39.13L393.34 42.13L393.76 45.14L394.23 48.14L394.74 51.15L395.3 54.15L395.92 57.16L396.6 60.16L397.35 63.17L398.18 66.17L399.09 69.18L400.09 72.18L401.2 75.19L402.41 78.19L403.76 81.2L405.23 84.2L406.86 87.21L408.65 90.21L410.63 93.22L412.8 96.22L415.2 99.23L417.84 102.23L420.74 105.23L423.95 108.24L427.47 111.24L431.36 114.25L435.64 117.25L440.35 120.26L445.54 123.26L451.26 126.27L457.56 129.27L464.5 132.28L472.14 135.28L480.56 138.29L489.84 141.29L500.05 144.3L511.3 147.3L523.7 150.31L537.35 153.31L552.39 156.32L568.96 159.32L587.2 162.33L607.3 165.33L609.3 165.33L609.3 19.1Z" fill="#6d6d6d"/><path d="M391.36 19.1L391.36 21.1L391.57 24.09L391.81 27.08L392.08 30.07L392.37 33.06L392.69 36.05L393.04 39.04L393.43 42.03L393.85 45.02L394.32 48.01L394.84 51L395.41 53.98L396.04 56.97L396.73 59.96L397.49 62.95L398.32 65.94L399.24 68.93L400.26 71.92L401.37 74.91L402.6 77.9L403.96 80.89L405.45 83.88L407.09 86.87L408.89 89.86L410.88 92.85L413.07 95.84L415.48 98.83L418.13 101.82L421.06 104.81L424.27 107.8L427.81 110.79L431.71 113.78L436 116.76L440.73 119.75L445.93 122.74L451.66 125.73L457.97 128.72L464.91 131.71L472.55 134.7L480.97 137.69L490.23 140.68L500.43 143.67L511.67 146.66L524.03 149.65L537.64 152.64L552.63 155.63L569.13 158.62L587.3 161.61L607.3 164.6L609.3 164.6L609.3 19.1Z" fill="#717171"/><path d="M391.41 19.1L391.41 21.1L391.63 24.07L391.87 27.05L392.14 30.02L392.44 33L392.76 35.97L393.12 38.95L393.51 41.92L393.95 44.89L394.42 47.87L394.95 50.84L395.52 53.82L396.16 56.79L396.86 59.76L397.63 62.74L398.47 65.71L399.4 68.69L400.43 71.66L401.56 74.64L402.8 77.61L404.16 80.58L405.66 83.56L407.32 86.53L409.14 89.51L411.14 92.48L413.34 95.46L415.77 98.43L418.43 101.4L421.37 104.38L424.6 107.35L428.16 110.33L432.07 113.3L436.37 116.28L441.11 119.25L446.32 122.22L452.06 125.2L458.37 128.17L465.32 131.15L472.96 134.12L481.38 137.09L490.63 140.07L500.82 143.04L512.03 146.02L524.36 148.99L537.94 151.97L552.87 154.94L569.31 157.91L587.4 160.89L607.3 163.86L609.3 163.86L609.3 19.1Z" fill="#767676"/><path d="M391.47 19.1L391.47 21.1L391.7 24.06L391.95 27.01L392.22 29.97L392.52 32.92L392.85 35.88L393.22 38.84L393.62 41.79L394.06 44.75L394.54 47.7L395.08 50.66L395.66 53.61L396.31 56.57L397.02 59.53L397.8 62.48L398.65 65.44L399.6 68.39L400.64 71.35L401.78 74.31L403.03 77.26L404.41 80.22L405.93 83.17L407.6 86.13L409.43 89.09L411.45 92.04L413.67 95L416.11 97.95L418.8 100.91L421.75 103.86L425 106.82L428.57 109.78L432.5 112.73L436.82 115.69L441.57 118.64L446.8 121.6L452.54 124.56L458.86 127.51L465.82 130.47L473.46 133.42L481.87 136.38L491.11 139.34L501.28 142.29L512.46 145.25L524.76 148.2L538.29 151.16L553.16 154.11L569.52 157.07L587.51 160.03L607.3 162.98L609.3 162.98L609.3 19.1Z" fill="#7a7a7a"/><path d="M391.55 19.1L391.55 21.1L391.78 24.03L392.04 26.97L392.32 29.9L392.63 32.83L392.97 35.76L393.34 38.7L393.75 41.63L394.2 44.56L394.7 47.5L395.24 50.43L395.84 53.36L396.5 56.3L397.22 59.23L398.02 62.16L398.89 65.09L399.85 68.03L400.9 70.96L402.06 73.89L403.33 76.83L404.73 79.76L406.27 82.69L407.95 85.62L409.81 88.56L411.85 91.49L414.09 94.42L416.55 97.36L419.26 100.29L422.24 103.22L425.51 106.16L429.1 109.09L433.05 112.02L437.39 114.95L442.16 117.89L447.4 120.82L453.16 123.75L459.48 126.69L466.44 129.62L474.08 132.55L482.48 135.48L491.72 138.42L501.86 141.35L513.01 144.28L525.26 147.22L538.73 150.15L553.53 153.08L569.79 156.02L587.66 158.95L607.3 161.88L609.3 161.88L609.3 19.1Z" fill="#7e7e7e"/><path d="M391.64 19.1L391.64 21.1L391.88 24.01L392.14 26.92L392.43 29.83L392.74 32.74L393.09 35.65L393.47 38.56L393.89 41.47L394.35 44.38L394.86 47.29L395.42 50.2L396.03 53.11L396.7 56.02L397.43 58.93L398.24 61.84L399.13 64.75L400.1 67.66L401.17 70.57L402.35 73.48L403.64 76.39L405.05 79.3L406.61 82.21L408.32 85.12L410.19 88.03L412.25 90.94L414.52 93.85L417 96.76L419.73 99.67L422.73 102.58L426.02 105.49L429.63 108.4L433.6 111.31L437.96 114.22L442.75 117.13L448 120.04L453.77 122.95L460.11 125.86L467.07 128.77L474.71 131.68L483.11 134.59L492.32 137.5L502.44 140.41L513.56 143.32L525.77 146.23L539.17 149.14L553.89 152.05L570.06 154.96L587.81 157.87L607.3 160.78L609.3 160.78L609.3 19.1Z" fill="#828282"/><path d="M391.72 19.1L391.72 21.1L391.97 23.99L392.24 26.87L392.54 29.76L392.86 32.65L393.22 35.54L393.61 38.42L394.04 41.31L394.51 44.2L395.03 47.08L395.59 49.97L396.21 52.86L396.9 55.74L397.65 58.63L398.47 61.52L399.37 64.41L400.36 67.29L401.45 70.18L402.64 73.07L403.95 75.95L405.38 78.84L406.96 81.73L408.69 84.62L410.58 87.5L412.67 90.39L414.95 93.28L417.46 96.16L420.21 99.05L423.23 101.94L426.54 104.82L430.17 107.71L434.16 110.6L438.54 113.49L443.34 116.37L448.61 119.26L454.39 122.15L460.74 125.03L467.7 127.92L475.35 130.81L483.73 133.7L492.93 136.58L503.03 139.47L514.11 142.36L526.27 145.24L539.61 148.13L554.26 151.02L570.32 153.91L587.95 156.79L607.3 159.68L609.3 159.68L609.3 19.1Z" fill="#868686"/><path d="M391.82 19.1L391.82 21.1L392.07 23.96L392.35 26.83L392.65 29.69L392.98 32.56L393.35 35.42L393.75 38.28L394.19 41.15L394.67 44.01L395.2 46.88L395.77 49.74L396.41 52.61L397.1 55.47L397.87 58.33L398.7 61.2L399.62 64.06L400.63 66.93L401.73 69.79L402.94 72.65L404.27 75.52L405.72 78.38L407.32 81.25L409.07 84.11L410.98 86.97L413.09 89.84L415.39 92.7L417.92 95.57L420.69 98.43L423.73 101.3L427.07 104.16L430.72 107.02L434.73 109.89L439.12 112.75L443.94 115.62L449.23 118.48L455.02 121.34L461.38 124.21L468.34 127.07L475.98 129.94L484.36 132.8L493.55 135.67L503.62 138.53L514.67 141.39L526.78 144.26L540.06 147.12L554.62 149.99L570.59 152.85L588.1 155.71L607.3 158.58L609.3 158.58L609.3 19.1Z" fill="#8a8a8a"/><path d="M391.88 19.1L391.88 21.1L392.14 23.95L392.42 26.79L392.73 29.64L393.07 32.49L393.44 35.34L393.85 38.18L394.3 41.03L394.79 43.88L395.32 46.73L395.91 49.57L396.55 52.42L397.26 55.27L398.03 58.12L398.88 60.96L399.81 63.81L400.83 66.66L401.94 69.5L403.17 72.35L404.51 75.2L405.97 78.05L407.58 80.89L409.35 83.74L411.28 86.59L413.4 89.44L415.72 92.28L418.26 95.13L421.05 97.98L424.11 100.82L427.46 103.67L431.13 106.52L435.15 109.37L439.56 112.21L444.39 115.06L449.68 117.91L455.49 120.76L461.85 123.6L468.82 126.45L476.46 129.3L484.83 132.15L494 134.99L504.06 137.84L515.07 140.69L527.15 143.53L540.39 146.38L554.89 149.23L570.79 152.08L588.21 154.92L607.3 157.77L609.3 157.77L609.3 19.1Z" fill="#8e8e8e"/><path d="M391.96 19.1L391.96 21.1L392.22 23.93L392.51 26.76L392.82 29.59L393.17 32.42L393.54 35.25L393.96 38.08L394.41 40.91L394.91 43.74L395.45 46.57L396.05 49.4L396.7 52.24L397.42 55.07L398.2 57.9L399.06 60.73L400 63.56L401.03 66.39L402.16 69.22L403.39 72.05L404.75 74.88L406.23 77.71L407.85 80.54L409.63 83.37L411.58 86.2L413.71 89.03L416.05 91.86L418.61 94.69L421.42 97.52L424.49 100.35L427.85 103.18L431.54 106.01L435.57 108.85L440 111.68L444.84 114.51L450.14 117.34L455.96 120.17L462.32 123L469.29 125.83L476.93 128.66L485.29 131.49L494.46 134.32L504.49 137.15L515.48 139.98L527.52 142.81L540.71 145.64L555.16 148.47L570.98 151.3L588.32 154.13L607.3 156.96L609.3 156.96L609.3 19.1Z" fill="#929292"/><path d="M392.03 19.1L392.03 21.1L392.3 23.91L392.59 26.73L392.91 29.54L393.26 32.35L393.65 35.17L394.07 37.98L394.53 40.8L395.03 43.61L395.59 46.42L396.19 49.24L396.86 52.05L397.58 54.86L398.37 57.68L399.24 60.49L400.2 63.31L401.24 66.12L402.38 68.93L403.63 71.75L404.99 74.56L406.49 77.37L408.13 80.19L409.92 83L411.89 85.81L414.04 88.63L416.39 91.44L418.96 94.26L421.78 97.07L424.87 99.88L428.25 102.7L431.95 105.51L436 108.32L440.44 111.14L445.29 113.95L450.61 116.76L456.43 119.58L462.8 122.39L469.77 125.21L477.41 128.02L485.76 130.83L494.91 133.65L504.93 136.46L515.89 139.27L527.9 142.09L541.04 144.9L555.43 147.72L571.18 150.53L588.42 153.34L607.3 156.16L609.3 156.16L609.3 19.1Z" fill="#969696"/><path d="M392.1 19.1L392.1 21.1L392.38 23.9L392.67 26.69L393 29.49L393.36 32.29L393.75 35.08L394.18 37.88L394.65 40.68L395.16 43.47L395.72 46.27L396.34 49.07L397.01 51.87L397.75 54.66L398.55 57.46L399.43 60.26L400.39 63.05L401.45 65.85L402.6 68.65L403.86 71.44L405.24 74.24L406.75 77.04L408.41 79.83L410.22 82.63L412.19 85.43L414.36 88.22L416.73 91.02L419.32 93.82L422.16 96.61L425.26 99.41L428.66 102.21L432.37 105.01L436.44 107.8L440.88 110.6L445.75 113.4L451.08 116.19L456.9 118.99L463.28 121.79L470.25 124.58L477.88 127.38L486.23 130.18L495.37 132.97L505.37 135.77L516.31 138.57L528.28 141.36L541.37 144.16L555.7 146.96L571.38 149.75L588.53 152.55L607.3 155.35L609.3 155.35L609.3 19.1Z" fill="#9a9a9a"/><path d="M392.18 19.1L392.18 21.1L392.46 23.88L392.76 26.66L393.1 29.44L393.46 32.22L393.86 35L394.29 37.78L394.77 40.56L395.29 43.34L395.86 46.12L396.49 48.9L397.17 51.68L397.91 54.46L398.73 57.24L399.62 60.02L400.6 62.8L401.66 65.58L402.83 68.36L404.1 71.14L405.5 73.92L407.02 76.7L408.69 79.48L410.51 82.26L412.51 85.04L414.69 87.82L417.07 90.6L419.68 93.38L422.53 96.16L425.65 98.94L429.06 101.72L432.79 104.5L436.87 107.28L441.33 110.06L446.21 112.84L451.55 115.62L457.38 118.4L463.76 121.18L470.74 123.96L478.36 126.74L486.71 129.52L495.83 132.3L505.81 135.08L516.72 137.86L528.65 140.64L541.7 143.42L555.97 146.2L571.57 148.98L588.64 151.76L607.3 154.54L609.3 154.54L609.3 19.1Z" fill="#9e9e9e"/><path d="M392.26 19.1L392.26 21.1L392.54 23.86L392.85 26.63L393.19 29.39L393.56 32.15L393.97 34.92L394.41 37.68L394.9 40.44L395.43 43.21L396 45.97L396.64 48.73L397.33 51.5L398.08 54.26L398.91 57.02L399.81 59.78L400.8 62.55L401.88 65.31L403.06 68.07L404.35 70.84L405.76 73.6L407.29 76.36L408.98 79.13L410.82 81.89L412.83 84.65L415.02 87.42L417.42 90.18L420.05 92.94L422.91 95.71L426.05 98.47L429.48 101.23L433.22 104L437.31 106.76L441.79 109.52L446.68 112.29L452.02 115.05L457.86 117.81L464.25 120.58L471.22 123.34L478.85 126.1L487.18 128.86L496.29 131.63L506.25 134.39L517.13 137.15L529.03 139.92L542.03 142.68L556.24 145.44L571.77 148.21L588.75 150.97L607.3 153.73L609.3 153.73L609.3 19.1Z" fill="#a2a2a2"/><path d="M392.38 19.1L392.38 21.1L392.68 23.84L393 26.57L393.34 29.31L393.73 32.05L394.14 34.79L394.6 37.52L395.1 40.26L395.64 43L396.23 45.73L396.88 48.47L397.58 51.21L398.36 53.95L399.2 56.68L400.12 59.42L401.13 62.16L402.22 64.9L403.42 67.63L404.73 70.37L406.16 73.11L407.72 75.84L409.43 78.58L411.29 81.32L413.32 84.06L415.55 86.79L417.97 89.53L420.62 92.27L423.51 95L426.67 97.74L430.12 100.48L433.89 103.22L438 105.95L442.5 108.69L447.4 111.43L452.76 114.17L458.61 116.9L465 119.64L471.98 122.38L479.6 125.11L487.92 127.85L497.01 130.59L506.94 133.33L517.78 136.06L529.62 138.8L542.54 141.54L556.66 144.27L572.08 147.01L588.91 149.75L607.3 152.49L609.3 152.49L609.3 19.1Z" fill="#a6a6a6"/><path d="M392.53 19.1L392.53 21.1L392.83 23.81L393.16 26.52L393.52 29.22L393.92 31.93L394.35 34.64L394.81 37.35L395.33 40.06L395.88 42.77L396.49 45.47L397.16 48.18L397.88 50.89L398.67 53.6L399.53 56.31L400.47 59.01L401.5 61.72L402.62 64.43L403.84 67.14L405.17 69.85L406.63 72.55L408.21 75.26L409.95 77.97L411.83 80.68L413.89 83.39L416.14 86.1L418.6 88.8L421.27 91.51L424.19 94.22L427.38 96.93L430.85 99.64L434.65 102.34L438.78 105.05L443.3 107.76L448.22 110.47L453.6 113.18L459.46 115.89L465.86 118.59L472.84 121.3L480.45 124.01L488.76 126.72L497.82 129.43L507.71 132.13L518.5 134.84L530.27 137.55L543.12 140.26L557.13 142.97L572.42 145.68L589.1 148.38L607.3 151.09L609.3 151.09L609.3 19.1Z" fill="#ababab"/><path d="M392.68 19.1L392.68 21.1L392.99 23.78L393.34 26.46L393.71 29.14L394.11 31.82L394.56 34.5L395.04 37.17L395.56 39.85L396.14 42.53L396.76 45.21L397.44 47.89L398.19 50.57L398.99 53.25L399.88 55.93L400.84 58.61L401.88 61.29L403.03 63.97L404.27 66.64L405.63 69.32L407.11 72L408.72 74.68L410.48 77.36L412.39 80.04L414.48 82.72L416.75 85.4L419.24 88.08L421.94 90.76L424.89 93.44L428.1 96.11L431.6 98.79L435.42 101.47L439.58 104.15L444.11 106.83L449.06 109.51L454.45 112.19L460.32 114.87L466.72 117.55L473.7 120.23L481.31 122.91L489.6 125.58L498.64 128.26L508.49 130.94L519.23 133.62L530.93 136.3L543.69 138.98L557.6 141.66L572.76 144.34L589.29 147.02L607.3 149.7L609.3 149.7L609.3 19.1Z" fill="#afafaf"/><path d="M392.83 19.1L392.83 21.1L393.16 23.75L393.51 26.4L393.89 29.05L394.31 31.71L394.76 34.36L395.26 37.01L395.8 39.66L396.39 42.31L397.03 44.96L397.73 47.62L398.48 50.27L399.31 52.92L400.21 55.57L401.19 58.22L402.26 60.87L403.42 63.53L404.69 66.18L406.07 68.83L407.57 71.48L409.21 74.13L410.99 76.78L412.93 79.43L415.04 82.09L417.35 84.74L419.85 87.39L422.58 90.04L425.56 92.69L428.79 95.34L432.32 98L436.16 100.65L440.34 103.3L444.9 105.95L449.86 108.6L455.26 111.25L461.14 113.91L467.55 116.56L474.53 119.21L482.13 121.86L490.4 124.51L499.42 127.16L509.23 129.81L519.92 132.47L531.56 135.12L544.24 137.77L558.05 140.42L573.09 143.07L589.46 145.72L607.3 148.38L609.3 148.38L609.3 19.1Z" fill="#b3b3b3"/><path d="M392.95 19.1L392.95 21.1L393.28 23.73L393.64 26.36L394.03 29L394.46 31.63L394.92 34.26L395.43 36.89L395.98 39.52L396.57 42.15L397.23 44.79L397.93 47.42L398.71 50.05L399.55 52.68L400.46 55.31L401.46 57.94L402.54 60.58L403.72 63.21L405 65.84L406.4 68.47L407.92 71.1L409.57 73.73L411.37 76.37L413.33 79L415.46 81.63L417.78 84.26L420.31 86.89L423.06 89.52L426.05 92.16L429.3 94.79L432.85 97.42L436.7 100.05L440.9 102.68L445.47 105.31L450.44 107.95L455.85 110.58L461.74 113.21L468.15 115.84L475.13 118.47L482.72 121.1L490.99 123.74L499.98 126.37L509.77 129L520.42 131.63L532.02 134.26L544.64 136.89L558.37 139.53L573.32 142.16L589.59 144.79L607.3 147.42L609.3 147.42L609.3 19.1Z" fill="#b7b7b7"/><path d="M393.06 19.1L393.06 21.1L393.4 23.71L393.77 26.32L394.17 28.94L394.61 31.55L395.08 34.16L395.59 36.77L396.16 39.38L396.77 41.99L397.43 44.61L398.15 47.22L398.93 49.83L399.79 52.44L400.72 55.05L401.73 57.67L402.82 60.28L404.02 62.89L405.32 65.5L406.73 68.11L408.27 70.72L409.94 73.34L411.76 75.95L413.73 78.56L415.88 81.17L418.22 83.78L420.77 86.4L423.54 89.01L426.55 91.62L429.82 94.23L433.38 96.84L437.25 99.45L441.47 102.07L446.05 104.68L451.03 107.29L456.45 109.9L462.35 112.51L468.76 115.13L475.74 117.74L483.32 120.35L491.58 122.96L500.55 125.57L510.31 128.18L520.93 130.8L532.48 133.41L545.04 136.02L558.7 138.63L573.56 141.24L589.72 143.86L607.3 146.47L609.3 146.47L609.3 19.1Z" fill="#bbbbbb"/><path d="M393.18 19.1L393.18 21.1L393.53 23.69L393.91 26.28L394.32 28.88L394.76 31.47L395.24 34.06L395.77 36.65L396.34 39.24L396.96 41.84L397.64 44.43L398.37 47.02L399.17 49.61L400.03 52.2L400.98 54.8L402 57.39L403.11 59.98L404.32 62.57L405.64 65.16L407.07 67.75L408.62 70.35L410.31 72.94L412.15 75.53L414.15 78.12L416.31 80.71L418.67 83.31L421.24 85.9L424.02 88.49L427.05 91.08L430.34 93.67L433.92 96.27L437.81 98.86L442.04 101.45L446.63 104.04L451.63 106.63L457.06 109.23L462.96 111.82L469.38 114.41L476.35 117L483.93 119.59L492.17 122.19L501.12 124.78L510.86 127.37L521.44 129.96L532.94 132.55L545.44 135.15L559.03 137.74L573.79 140.33L589.85 142.92L607.3 145.51L609.3 145.51L609.3 19.1Z" fill="#bfbfbf"/><path d="M393.31 19.1L393.31 21.1L393.66 23.67L394.05 26.24L394.46 28.82L394.92 31.39L395.41 33.96L395.95 36.53L396.53 39.1L397.16 41.68L397.85 44.25L398.6 46.82L399.41 49.39L400.29 51.96L401.24 54.54L402.28 57.11L403.41 59.68L404.64 62.25L405.97 64.82L407.42 67.4L408.99 69.97L410.69 72.54L412.55 75.11L414.56 77.69L416.75 80.26L419.13 82.83L421.71 85.4L424.52 87.97L427.56 90.55L430.87 93.12L434.47 95.69L438.37 98.26L442.62 100.83L447.22 103.41L452.23 105.98L457.67 108.55L463.58 111.12L469.99 113.69L476.96 116.27L484.54 118.84L492.76 121.41L501.7 123.98L511.4 126.55L521.94 129.13L533.4 131.7L545.84 134.27L559.35 136.84L574.03 139.41L589.98 141.99L607.3 144.56L609.3 144.56L609.3 19.1Z" fill="#c3c3c3"/><path d="M393.44 19.1L393.44 21.1L393.8 23.65L394.19 26.2L394.62 28.76L395.08 31.31L395.59 33.86L396.13 36.41L396.72 38.97L397.37 41.52L398.07 44.07L398.83 46.62L399.65 49.17L400.55 51.73L401.52 54.28L402.57 56.83L403.71 59.38L404.96 61.93L406.3 64.49L407.77 67.04L409.36 69.59L411.08 72.14L412.96 74.7L414.99 77.25L417.2 79.8L419.59 82.35L422.19 84.9L425.02 87.46L428.08 90.01L431.41 92.56L435.02 95.11L438.94 97.67L443.2 100.22L447.82 102.77L452.84 105.32L458.28 107.87L464.2 110.43L470.62 112.98L477.58 115.53L485.15 118.08L493.36 120.63L502.27 123.19L511.95 125.74L522.45 128.29L533.86 130.84L546.24 133.4L559.68 135.95L574.27 138.5L590.11 141.05L607.3 143.6L609.3 143.6L609.3 19.1Z" fill="#c8c8c8"/><path d="M393.49 19.1L393.49 21.1L393.85 23.64L394.25 26.19L394.68 28.73L395.15 31.28L395.65 33.82L396.2 36.37L396.8 38.91L397.45 41.46L398.15 44L398.92 46.55L399.75 49.09L400.65 51.63L401.62 54.18L402.68 56.72L403.83 59.27L405.08 61.81L406.44 64.36L407.91 66.9L409.5 69.45L411.23 71.99L413.11 74.54L415.15 77.08L417.37 79.62L419.77 82.17L422.38 84.71L425.21 87.26L428.28 89.8L431.62 92.35L435.24 94.89L439.16 97.44L443.43 99.98L448.05 102.53L453.07 105.07L458.52 107.61L464.44 110.16L470.86 112.7L477.82 115.25L485.38 117.79L493.59 120.34L502.5 122.88L512.16 125.43L522.65 127.97L534.04 130.51L546.39 133.06L559.8 135.6L574.36 138.15L590.16 140.69L607.3 143.24L609.3 143.24L609.3 19.1Z" fill="#cccccc"/><path d="M393.54 19.1L393.54 21.1L393.91 23.64L394.31 26.17L394.74 28.71L395.21 31.25L395.72 33.78L396.28 36.32L396.88 38.86L397.53 41.4L398.24 43.93L399.01 46.47L399.84 49.01L400.75 51.54L401.73 54.08L402.8 56.62L403.95 59.15L405.21 61.69L406.57 64.23L408.04 66.76L409.65 69.3L411.39 71.84L413.27 74.37L415.32 76.91L417.54 79.45L419.95 81.99L422.57 84.52L425.41 87.06L428.49 89.6L431.83 92.13L435.45 94.67L439.39 97.21L443.65 99.74L448.28 102.28L453.31 104.82L458.76 107.35L464.68 109.89L471.1 112.43L478.06 114.96L485.62 117.5L493.82 120.04L502.72 122.58L512.37 125.11L522.85 127.65L534.21 130.19L546.55 132.72L559.93 135.26L574.45 137.8L590.21 140.33L607.3 142.87L609.3 142.87L609.3 19.1Z" fill="#d1d1d1"/><path d="M393.59 19.1L393.59 21.1L393.96 23.63L394.36 26.16L394.8 28.69L395.28 31.22L395.79 33.75L396.35 36.28L396.96 38.8L397.61 41.33L398.33 43.86L399.1 46.39L399.94 48.92L400.85 51.45L401.84 53.98L402.91 56.51L404.07 59.04L405.33 61.57L406.7 64.1L408.18 66.63L409.79 69.16L411.54 71.68L413.43 74.21L415.49 76.74L417.72 79.27L420.14 81.8L422.76 84.33L425.6 86.86L428.69 89.39L432.04 91.92L435.67 94.45L439.61 96.98L443.88 99.51L448.52 102.04L453.55 104.56L459 107.09L464.92 109.62L471.34 112.15L478.3 114.68L485.86 117.21L494.05 119.74L502.94 122.27L512.59 124.8L523.05 127.33L534.39 129.86L546.7 132.39L560.06 134.92L574.54 137.45L590.25 139.97L607.3 142.5L609.3 142.5L609.3 19.1Z" fill="#d5d5d5"/><path d="M393.64 19.1L393.64 21.1L394.02 23.62L394.42 26.14L394.86 28.66L395.34 31.19L395.86 33.71L396.42 36.23L397.03 38.75L397.7 41.27L398.41 43.79L399.19 46.32L400.04 48.84L400.95 51.36L401.95 53.88L403.02 56.4L404.19 58.92L405.46 61.45L406.83 63.97L408.33 66.49L409.94 69.01L411.69 71.53L413.6 74.05L415.66 76.58L417.89 79.1L420.32 81.62L422.95 84.14L425.8 86.66L428.89 89.18L432.25 91.7L435.89 94.23L439.83 96.75L444.11 99.27L448.75 101.79L453.78 104.31L459.24 106.83L465.16 109.36L471.58 111.88L478.54 114.4L486.1 116.92L494.28 119.44L503.17 121.96L512.8 124.49L523.24 127.01L534.57 129.53L546.86 132.05L560.18 134.57L574.63 137.09L590.3 139.62L607.3 142.14L609.3 142.14L609.3 19.1Z" fill="#d9d9d9"/><path d="M393.69 19.1L393.69 21.1L394.07 23.61L394.48 26.13L394.93 28.64L395.41 31.16L395.93 33.67L396.5 36.18L397.11 38.7L397.78 41.21L398.5 43.73L399.29 46.24L400.14 48.75L401.06 51.27L402.06 53.78L403.14 56.3L404.32 58.81L405.59 61.32L406.97 63.84L408.47 66.35L410.09 68.87L411.85 71.38L413.76 73.89L415.83 76.41L418.07 78.92L420.5 81.43L423.14 83.95L426 86.46L429.1 88.98L432.46 91.49L436.11 94L440.06 96.52L444.34 99.03L448.99 101.55L454.02 104.06L459.48 106.57L465.41 109.09L471.83 111.6L478.79 114.12L486.33 116.63L494.52 119.14L503.39 121.66L513.01 124.17L523.44 126.69L534.75 129.2L547.01 131.71L560.31 134.23L574.72 136.74L590.35 139.26L607.3 141.77L609.3 141.77L609.3 19.1Z" fill="#dedede"/><path d="M393.75 19.1L393.75 21.1L394.13 23.61L394.54 26.11L394.99 28.62L395.48 31.13L396 33.63L396.57 36.14L397.19 38.64L397.87 41.15L398.59 43.66L399.38 46.16L400.24 48.67L401.16 51.18L402.17 53.68L403.26 56.19L404.44 58.69L405.72 61.2L407.11 63.71L408.61 66.21L410.24 68.72L412.01 71.23L413.92 73.73L416 76.24L418.25 78.74L420.69 81.25L423.33 83.76L426.2 86.26L429.31 88.77L432.67 91.28L436.32 93.78L440.28 96.29L444.57 98.8L449.22 101.3L454.26 103.81L459.73 106.31L465.65 108.82L472.07 111.33L479.03 113.83L486.57 116.34L494.75 118.85L503.62 121.35L513.22 123.86L523.64 126.36L534.93 128.87L547.17 131.38L560.43 133.88L574.81 136.39L590.4 138.9L607.3 141.4L609.3 141.4L609.3 19.1Z" fill="#e2e2e2"/><path d="M393.8 19.1L393.8 21.1L394.19 23.6L394.6 26.1L395.05 28.6L395.54 31.09L396.08 33.59L396.65 36.09L397.28 38.59L397.95 41.09L398.68 43.59L399.48 46.09L400.34 48.59L401.27 51.08L402.28 53.58L403.38 56.08L404.56 58.58L405.85 61.08L407.24 63.58L408.75 66.08L410.39 68.57L412.16 71.07L414.09 73.57L416.17 76.07L418.43 78.57L420.87 81.07L423.53 83.57L426.4 86.07L429.51 88.56L432.89 91.06L436.55 93.56L440.51 96.06L444.8 98.56L449.46 101.06L454.5 103.56L459.97 106.05L465.89 108.55L472.32 111.05L479.27 113.55L486.81 116.05L494.99 118.55L503.84 121.05L513.44 123.54L523.84 126.04L535.11 128.54L547.32 131.04L560.56 133.54L574.91 136.04L590.45 138.54L607.3 141.04L609.3 141.04L609.3 19.1Z" fill="#e6e6e6"/><path d="M393.88 19.1L393.88 21.1L394.27 23.59L394.69 26.08L395.15 28.56L395.64 31.05L396.18 33.54L396.76 36.03L397.39 38.52L398.07 41L398.81 43.49L399.61 45.98L400.48 48.47L401.42 50.96L402.44 53.44L403.54 55.93L404.74 58.42L406.03 60.91L407.44 63.4L408.96 65.88L410.6 68.37L412.39 70.86L414.32 73.35L416.41 75.83L418.68 78.32L421.14 80.81L423.8 83.3L426.68 85.79L429.81 88.27L433.19 90.76L436.86 93.25L440.83 95.74L445.13 98.23L449.79 100.71L454.84 103.2L460.31 105.69L466.24 108.18L472.66 110.67L479.62 113.15L487.15 115.64L495.31 118.13L504.16 120.62L513.74 123.11L524.12 125.59L535.36 128.08L547.54 130.57L560.74 133.06L575.03 135.55L590.52 138.03L607.3 140.52L609.3 140.52L609.3 19.1Z" fill="#eaeaea"/><path d="M393.95 19.1L393.95 21.1L394.35 23.58L394.78 26.05L395.24 28.53L395.74 31.01L396.28 33.49L396.87 35.96L397.51 38.44L398.2 40.92L398.94 43.4L399.75 45.87L400.63 48.35L401.57 50.83L402.6 53.3L403.71 55.78L404.92 58.26L406.22 60.74L407.63 63.21L409.16 65.69L410.82 68.17L412.61 70.65L414.55 73.12L416.66 75.6L418.94 78.08L421.4 80.55L424.07 83.03L426.97 85.51L430.1 87.99L433.49 90.46L437.17 92.94L441.15 95.42L445.46 97.89L450.13 100.37L455.18 102.85L460.66 105.33L466.58 107.8L473.01 110.28L479.96 112.76L487.49 115.24L495.64 117.71L504.47 120.19L514.04 122.67L524.4 125.14L535.61 127.62L547.76 130.1L560.92 132.58L575.16 135.05L590.59 137.53L607.3 140.01L609.3 140.01L609.3 19.1Z" fill="#eeeeee"/><path d="M394.03 19.1L394.03 21.1L394.43 23.57L394.87 26.03L395.33 28.5L395.84 30.97L396.39 33.43L396.98 35.9L397.62 38.37L398.32 40.83L399.07 43.3L399.89 45.77L400.77 48.23L401.73 50.7L402.76 53.17L403.88 55.63L405.1 58.1L406.41 60.56L407.83 63.03L409.37 65.5L411.03 67.96L412.84 70.43L414.79 72.9L416.9 75.36L419.19 77.83L421.67 80.3L424.35 82.76L427.25 85.23L430.4 87.7L433.8 90.16L437.48 92.63L441.47 95.1L445.79 97.56L450.46 100.03L455.52 102.5L461 104.96L466.93 107.43L473.35 109.9L480.3 112.36L487.83 114.83L495.97 117.3L504.79 119.76L514.34 122.23L524.68 124.69L535.87 127.16L547.98 129.63L561.09 132.09L575.29 134.56L590.66 137.03L607.3 139.49L609.3 139.49L609.3 19.1Z" fill="#f2f2f2"/><path d="M394.11 19.1L394.11 21.1L394.52 23.56L394.96 26.01L395.43 28.47L395.94 30.92L396.5 33.38L397.1 35.84L397.74 38.29L398.45 40.75L399.21 43.2L400.03 45.66L400.92 48.11L401.88 50.57L402.93 53.03L404.06 55.48L405.28 57.94L406.6 60.39L408.03 62.85L409.58 65.31L411.25 67.76L413.07 70.22L415.03 72.67L417.15 75.13L419.45 77.58L421.94 80.04L424.63 82.5L427.54 84.95L430.7 87.41L434.11 89.86L437.8 92.32L441.8 94.78L446.12 97.23L450.8 99.69L455.87 102.14L461.35 104.6L467.28 107.05L473.7 109.51L480.65 111.97L488.17 114.42L496.3 116.88L505.11 119.33L514.64 121.79L524.96 124.25L536.12 126.7L548.2 129.16L561.27 131.61L575.42 134.07L590.73 136.52L607.3 138.98L609.3 138.98L609.3 19.1Z" fill="#f6f6f6"/><path d="M394.23 19.1L394.23 21.1L394.64 23.54L395.09 25.98L395.57 28.42L396.09 30.86L396.65 33.3L397.26 35.74L397.92 38.18L398.63 40.62L399.4 43.06L400.23 45.51L401.14 47.95L402.11 50.39L403.17 52.83L404.31 55.27L405.54 57.71L406.88 60.15L408.32 62.59L409.88 65.03L411.57 67.47L413.4 69.91L415.37 72.35L417.51 74.79L419.83 77.23L422.33 79.67L425.03 82.11L427.96 84.55L431.13 86.99L434.55 89.44L438.26 91.88L442.27 94.32L446.6 96.76L451.29 99.2L456.36 101.64L461.85 104.08L467.78 106.52L474.2 108.96L481.14 111.4L488.66 113.84L496.78 116.28L505.57 118.72L515.07 121.16L525.36 123.6L536.48 126.04L548.51 128.48L561.52 130.92L575.6 133.37L590.83 135.81L607.3 138.25L609.3 138.25L609.3 19.1Z" fill="#fafafa"/><path d="M394.63 19.1L394.63 21.1L395.06 23.49L395.53 25.88L396.04 28.27L396.58 30.67L397.17 33.06L397.81 35.45L398.5 37.84L399.24 40.23L400.05 42.62L400.91 45.02L401.85 47.41L402.86 49.8L403.96 52.19L405.14 54.58L406.41 56.97L407.79 59.37L409.28 61.76L410.88 64.15L412.62 66.54L414.49 68.93L416.51 71.32L418.7 73.72L421.06 76.11L423.6 78.5L426.36 80.89L429.33 83.28L432.54 85.67L436 88.07L439.75 90.46L443.79 92.85L448.16 95.24L452.87 97.63L457.97 100.02L463.47 102.41L469.41 104.81L475.82 107.2L482.75 109.59L490.23 111.98L498.32 114.37L507.04 116.76L516.47 119.16L526.65 121.55L537.64 123.94L549.52 126.33L562.34 128.72L576.19 131.11L591.15 133.51L607.3 135.9L609.3 135.9L609.3 19.1Z" fill="#fefefe"/><path d="M394.84 19.1L394.84 21.1L395.28 23.47L395.76 25.83L396.28 28.2L396.84 30.57L397.45 32.94L398.1 35.3L398.81 37.67L399.57 40.04L400.39 42.4L401.27 44.77L402.23 47.14L403.26 49.51L404.37 51.87L405.57 54.24L406.87 56.61L408.26 58.97L409.77 61.34L411.4 63.71L413.16 66.08L415.05 68.44L417.1 70.81L419.31 73.18L421.69 75.54L424.26 77.91L427.03 80.28L430.03 82.65L433.26 85.01L436.75 87.38L440.51 89.75L444.57 92.11L448.95 94.48L453.68 96.85L458.78 99.22L464.29 101.58L470.23 103.95L476.64 106.32L483.56 108.68L491.03 111.05L499.09 113.42L507.79 115.79L517.17 118.15L527.3 120.52L538.23 122.89L550.02 125.25L562.75 127.62L576.48 129.99L591.31 132.36L607.3 134.72L609.3 134.72L609.3 19.1Z" fill="#fafafa"/><path d="M394.98 19.1L394.98 21.1L395.44 23.45L395.93 25.8L396.46 28.15L397.03 30.5L397.64 32.85L398.31 35.2L399.02 37.55L399.79 39.9L400.62 42.25L401.52 44.6L402.49 46.95L403.53 49.3L404.66 51.65L405.87 54L407.18 56.35L408.6 58.71L410.12 61.06L411.76 63.41L413.54 65.76L415.45 68.11L417.51 70.46L419.73 72.81L422.13 75.16L424.72 77.51L427.51 79.86L430.52 82.21L433.76 84.56L437.26 86.91L441.04 89.26L445.11 91.61L449.5 93.96L454.24 96.31L459.35 98.66L464.86 101.01L470.8 103.36L477.21 105.71L484.13 108.06L491.59 110.41L499.63 112.76L508.3 115.11L517.66 117.46L527.75 119.81L538.63 122.16L550.37 124.51L563.03 126.86L576.69 129.22L591.42 131.57L607.3 133.92L609.3 133.92L609.3 19.1Z" fill="#f6f6f6"/><path d="M395.14 19.1L395.14 21.1L395.6 23.43L396.1 25.77L396.64 28.1L397.22 30.43L397.84 32.77L398.51 35.1L399.24 37.43L400.02 39.77L400.87 42.1L401.78 44.44L402.76 46.77L403.82 49.1L404.95 51.44L406.18 53.77L407.51 56.1L408.93 58.44L410.47 60.77L412.13 63.1L413.92 65.44L415.85 67.77L417.93 70.1L420.17 72.44L422.58 74.77L425.18 77.1L427.99 79.44L431.01 81.77L434.27 84.1L437.79 86.44L441.58 88.77L445.66 91.11L450.06 93.44L454.81 95.77L459.92 98.11L465.44 100.44L471.38 102.77L477.79 105.11L484.69 107.44L492.14 109.77L500.17 112.11L508.82 114.44L518.15 116.77L528.2 119.11L539.04 121.44L550.72 123.77L563.31 126.11L576.89 128.44L591.52 130.77L607.3 133.11L609.3 133.11L609.3 19.1Z" fill="#f2f2f2"/><path d="M395.26 19.1L395.26 21.1L395.73 23.42L396.24 25.74L396.79 28.06L397.37 30.38L398.01 32.7L398.69 35.02L399.42 37.34L400.22 39.66L401.07 41.98L401.99 44.3L402.98 46.62L404.05 48.94L405.2 51.26L406.44 53.58L407.78 55.9L409.22 58.22L410.77 60.54L412.44 62.86L414.24 65.18L416.18 67.49L418.27 69.81L420.52 72.13L422.95 74.45L425.57 76.77L428.39 79.09L431.42 81.41L434.69 83.73L438.22 86.05L442.02 88.37L446.11 90.69L450.52 93.01L455.27 95.33L460.39 97.65L465.91 99.97L471.85 102.29L478.26 104.61L485.16 106.93L492.6 109.25L500.61 111.57L509.24 113.89L518.55 116.21L528.57 118.53L539.37 120.85L551.01 123.17L563.55 125.49L577.06 127.81L591.61 130.13L607.3 132.45L609.3 132.45L609.3 19.1Z" fill="#ededed"/><path d="M395.35 19.1L395.35 21.1L395.83 23.41L396.34 25.72L396.89 28.03L397.48 30.34L398.12 32.65L398.81 34.96L399.55 37.27L400.35 39.58L401.21 41.9L402.14 44.21L403.13 46.52L404.21 48.83L405.37 51.14L406.61 53.45L407.96 55.76L409.41 58.07L410.97 60.38L412.65 62.69L414.46 65L416.4 67.31L418.5 69.62L420.77 71.93L423.2 74.24L425.83 76.55L428.65 78.86L431.7 81.17L434.98 83.49L438.51 85.8L442.31 88.11L446.41 90.42L450.83 92.73L455.59 95.04L460.71 97.35L466.23 99.66L472.17 101.97L478.58 104.28L485.47 106.59L492.9 108.9L500.91 111.21L509.53 113.52L518.81 115.83L528.82 118.14L539.59 120.45L551.2 122.77L563.7 125.08L577.17 127.39L591.67 129.7L607.3 132.01L609.3 132.01L609.3 19.1Z" fill="#e9e9e9"/><path d="M395.44 19.1L395.44 21.1L395.92 23.4L396.43 25.7L396.99 28L397.59 30.31L398.23 32.61L398.93 34.91L399.68 37.21L400.48 39.51L401.35 41.81L402.28 44.11L403.29 46.42L404.37 48.72L405.54 51.02L406.79 53.32L408.14 55.62L409.6 57.92L411.17 60.22L412.85 62.53L414.67 64.83L416.63 67.13L418.74 69.43L421.01 71.73L423.45 74.03L426.09 76.33L428.92 78.63L431.97 80.94L435.26 83.24L438.8 85.54L442.61 87.84L446.72 90.14L451.14 92.44L455.9 94.74L461.03 97.05L466.55 99.35L472.49 101.65L478.89 103.95L485.79 106.25L493.21 108.55L501.2 110.85L509.81 113.16L519.08 115.46L529.06 117.76L539.81 120.06L551.39 122.36L563.86 124.66L577.28 126.96L591.73 129.27L607.3 131.57L609.3 131.57L609.3 19.1Z" fill="#e5e5e5"/><path d="M395.53 19.1L395.53 21.1L396.01 23.39L396.53 25.68L397.09 27.98L397.7 30.27L398.35 32.56L399.05 34.85L399.8 37.15L400.61 39.44L401.49 41.73L402.43 44.02L403.44 46.31L404.53 48.61L405.7 50.9L406.97 53.19L408.33 55.48L409.79 57.78L411.37 60.07L413.06 62.36L414.89 64.65L416.86 66.94L418.97 69.24L421.25 71.53L423.71 73.82L426.35 76.11L429.19 78.41L432.25 80.7L435.55 82.99L439.1 85.28L442.91 87.57L447.03 89.87L451.45 92.16L456.22 94.45L461.35 96.74L466.87 99.04L472.81 101.33L479.21 103.62L486.1 105.91L493.52 108.2L501.5 110.5L510.1 112.79L519.35 115.08L529.31 117.37L540.04 119.67L551.58 121.96L564.01 124.25L577.39 126.54L591.79 128.83L607.3 131.13L609.3 131.13L609.3 19.1Z" fill="#e0e0e0"/><path d="M395.62 19.1L395.62 21.1L396.11 23.38L396.63 25.67L397.2 27.95L397.81 30.23L398.47 32.52L399.17 34.8L399.93 37.08L400.75 39.36L401.63 41.65L402.58 43.93L403.6 46.21L404.7 48.5L405.88 50.78L407.15 53.06L408.52 55.35L409.99 57.63L411.57 59.91L413.28 62.19L415.11 64.48L417.09 66.76L419.21 69.04L421.5 71.33L423.96 73.61L426.61 75.89L429.46 78.18L432.53 80.46L435.84 82.74L439.39 85.03L443.22 87.31L447.33 89.59L451.76 91.87L456.53 94.16L461.67 96.44L467.19 98.72L473.13 101.01L479.53 103.29L486.42 105.57L493.83 107.86L501.8 110.14L510.38 112.42L519.62 114.7L529.56 116.99L540.26 119.27L551.77 121.55L564.16 123.84L577.5 126.12L591.85 128.4L607.3 130.69L609.3 130.69L609.3 19.1Z" fill="#dcdcdc"/><path d="M395.71 19.1L395.71 21.1L396.2 23.37L396.73 25.65L397.31 27.92L397.92 30.2L398.58 32.47L399.3 34.74L400.06 37.02L400.89 39.29L401.77 41.56L402.73 43.84L403.76 46.11L404.86 48.39L406.05 50.66L407.33 52.93L408.7 55.21L410.18 57.48L411.78 59.76L413.49 62.03L415.34 64.3L417.32 66.58L419.45 68.85L421.75 71.13L424.22 73.4L426.88 75.67L429.74 77.95L432.82 80.22L436.13 82.49L439.69 84.77L443.52 87.04L447.64 89.32L452.08 91.59L456.85 93.86L461.99 96.14L467.51 98.41L473.46 100.69L479.85 102.96L486.73 105.23L494.14 107.51L502.1 109.78L510.67 112.05L519.89 114.33L529.81 116.6L540.48 118.88L551.97 121.15L564.32 123.42L577.61 125.7L591.91 127.97L607.3 130.25L609.3 130.25L609.3 19.1Z" fill="#d7d7d7"/><path d="M395.8 19.1L395.8 21.1L396.3 23.36L396.84 25.63L397.42 27.89L398.04 30.16L398.7 32.42L399.42 34.69L400.2 36.95L401.03 39.22L401.92 41.48L402.88 43.75L403.92 46.01L405.03 48.28L406.22 50.54L407.51 52.81L408.9 55.07L410.38 57.34L411.99 59.6L413.71 61.86L415.56 64.13L417.55 66.39L419.7 68.66L422 70.92L424.48 73.19L427.15 75.45L430.01 77.72L433.1 79.98L436.42 82.25L439.99 84.51L443.83 86.78L447.95 89.04L452.4 91.31L457.17 93.57L462.31 95.83L467.84 98.1L473.78 100.36L480.17 102.63L487.05 104.89L494.45 107.16L502.4 109.42L510.96 111.69L520.16 113.95L530.06 116.22L540.71 118.48L552.16 120.75L564.47 123.01L577.72 125.28L591.97 127.54L607.3 129.81L609.3 129.81L609.3 19.1Z" fill="#d3d3d3"/><path d="M395.9 19.1L395.9 21.1L396.4 23.36L396.94 25.61L397.53 27.87L398.15 30.12L398.83 32.38L399.55 34.63L400.33 36.89L401.17 39.14L402.07 41.4L403.04 43.66L404.08 45.91L405.2 48.17L406.4 50.42L407.7 52.68L409.09 54.93L410.58 57.19L412.19 59.44L413.93 61.7L415.79 63.95L417.79 66.21L419.94 68.47L422.25 70.72L424.74 72.98L427.42 75.23L430.29 77.49L433.39 79.74L436.71 82L440.29 84.25L444.13 86.51L448.27 88.77L452.71 91.02L457.49 93.28L462.63 95.53L468.16 97.79L474.11 100.04L480.5 102.3L487.37 104.55L494.76 106.81L502.7 109.07L511.24 111.32L520.43 113.58L530.31 115.83L540.93 118.09L552.35 120.34L564.63 122.6L577.83 124.85L592.03 127.11L607.3 129.37L609.3 129.37L609.3 19.1Z" fill="#cecece"/><path d="M395.99 19.1L395.99 21.1L396.5 23.35L397.05 25.59L397.64 27.84L398.27 30.09L398.95 32.33L399.68 34.58L400.46 36.82L401.31 39.07L402.22 41.32L403.19 43.56L404.24 45.81L405.37 48.06L406.58 50.3L407.88 52.55L409.28 54.8L410.79 57.04L412.41 59.29L414.15 61.53L416.02 63.78L418.02 66.03L420.19 68.27L422.51 70.52L425 72.77L427.69 75.01L430.57 77.26L433.67 79.5L437.01 81.75L440.59 84L444.44 86.24L448.58 88.49L453.03 90.74L457.82 92.98L462.96 95.23L468.49 97.48L474.43 99.72L480.82 101.97L487.69 104.21L495.07 106.46L503 108.71L511.53 110.95L520.7 113.2L530.56 115.45L541.15 117.69L552.54 119.94L564.79 122.19L577.95 124.43L592.09 126.68L607.3 128.92L609.3 128.92L609.3 19.1Z" fill="#cacaca"/><path d="M396.09 19.1L396.09 21.1L396.6 23.34L397.16 25.57L397.75 27.81L398.39 30.05L399.07 32.29L399.81 34.52L400.6 36.76L401.45 39L402.37 41.23L403.35 43.47L404.41 45.71L405.54 47.95L406.76 50.18L408.07 52.42L409.48 54.66L410.99 56.89L412.62 59.13L414.37 61.37L416.25 63.61L418.26 65.84L420.43 68.08L422.76 70.32L425.27 72.55L427.96 74.79L430.85 77.03L433.96 79.27L437.3 81.5L440.89 83.74L444.75 85.98L448.9 88.22L453.35 90.45L458.14 92.69L463.29 94.93L468.82 97.16L474.76 99.4L481.14 101.64L488.01 103.88L495.38 106.11L503.31 108.35L511.82 110.59L520.97 112.82L530.81 115.06L541.38 117.3L552.74 119.54L564.94 121.77L578.06 124.01L592.15 126.25L607.3 128.48L609.3 128.48L609.3 19.1Z" fill="#c6c6c6"/><path d="M396.22 19.1L396.22 21.1L396.74 23.32L397.3 25.55L397.9 27.77L398.55 30L399.24 32.22L399.99 34.45L400.79 36.67L401.65 38.9L402.57 41.12L403.56 43.35L404.63 45.57L405.77 47.8L407 50.02L408.33 52.25L409.74 54.47L411.27 56.7L412.91 58.92L414.67 61.15L416.56 63.37L418.59 65.6L420.77 67.82L423.11 70.05L425.63 72.27L428.33 74.5L431.23 76.72L434.35 78.95L437.7 81.17L441.3 83.4L445.17 85.62L449.32 87.85L453.78 90.07L458.58 92.3L463.73 94.52L469.26 96.75L475.2 98.97L481.58 101.2L488.44 103.42L495.8 105.65L503.71 107.87L512.21 110.1L521.34 112.32L531.14 114.55L541.68 116.77L552.99 119L565.15 121.22L578.21 123.45L592.23 125.67L607.3 127.9L609.3 127.9L609.3 19.1Z" fill="#c1c1c1"/><path d="M396.35 19.1L396.35 21.1L396.88 23.31L397.45 25.53L398.06 27.74L398.71 29.95L399.41 32.16L400.17 34.38L400.98 36.59L401.84 38.8L402.78 41.01L403.78 43.23L404.86 45.44L406.01 47.65L407.25 49.87L408.58 52.08L410.01 54.29L411.55 56.5L413.2 58.72L414.97 60.93L416.87 63.14L418.91 65.35L421.1 67.57L423.46 69.78L425.99 71.99L428.7 74.2L431.62 76.42L434.75 78.63L438.11 80.84L441.71 83.06L445.59 85.27L449.75 87.48L454.22 89.69L459.02 91.91L464.17 94.12L469.7 96.33L475.64 98.54L482.02 100.76L488.87 102.97L496.22 105.18L504.12 107.4L512.6 109.61L521.7 111.82L531.48 114.03L541.98 116.25L553.25 118.46L565.36 120.67L578.36 122.88L592.31 125.1L607.3 127.31L609.3 127.31L609.3 19.1Z" fill="#bdbdbd"/><path d="M396.49 19.1L396.49 21.1L397.03 23.3L397.6 25.5L398.22 27.7L398.88 29.9L399.59 32.1L400.35 34.3L401.17 36.5L402.05 38.7L402.99 40.9L404 43.1L405.08 45.31L406.25 47.51L407.5 49.71L408.84 51.91L410.29 54.11L411.83 56.31L413.49 58.51L415.27 60.71L417.19 62.91L419.24 65.11L421.45 67.31L423.81 69.51L426.35 71.71L429.08 73.91L432 76.11L435.14 78.31L438.51 80.51L442.13 82.71L446.01 84.91L450.18 87.11L454.65 89.31L459.46 91.52L464.61 93.72L470.14 95.92L476.08 98.12L482.46 100.32L489.3 102.52L496.64 104.72L504.53 106.92L512.99 109.12L522.07 111.32L531.82 113.52L542.28 115.72L553.51 117.92L565.56 120.12L578.5 122.32L592.39 124.52L607.3 126.72L609.3 126.72L609.3 19.1Z" fill="#b9b9b9"/><path d="M396.63 19.1L396.63 21.1L397.17 23.29L397.75 25.48L398.38 27.66L399.05 29.85L399.76 32.04L400.54 34.23L401.36 36.42L402.25 38.61L403.2 40.79L404.22 42.98L405.32 45.17L406.49 47.36L407.76 49.55L409.11 51.74L410.56 53.92L412.12 56.11L413.79 58.3L415.58 60.49L417.51 62.68L419.57 64.86L421.79 67.05L424.17 69.24L426.72 71.43L429.45 73.62L432.39 75.81L435.54 77.99L438.92 80.18L442.55 82.37L446.44 84.56L450.61 86.75L455.09 88.94L459.9 91.12L465.06 93.31L470.59 95.5L476.53 97.69L482.9 99.88L489.73 102.06L497.07 104.25L504.93 106.44L513.38 108.63L522.43 110.82L532.15 113.01L542.58 115.19L553.77 117.38L565.77 119.57L578.65 121.76L592.47 123.95L607.3 126.14L609.3 126.14L609.3 19.1Z" fill="#b4b4b4"/><path d="M396.77 19.1L396.77 21.1L397.32 23.28L397.91 25.45L398.54 27.63L399.22 29.8L399.94 31.98L400.72 34.16L401.56 36.33L402.46 38.51L403.42 40.68L404.45 42.86L405.55 45.04L406.74 47.21L408.01 49.39L409.38 51.56L410.84 53.74L412.41 55.92L414.09 58.09L415.9 60.27L417.83 62.44L419.91 64.62L422.14 66.8L424.53 68.97L427.09 71.15L429.84 73.32L432.78 75.5L435.94 77.68L439.33 79.85L442.97 82.03L446.87 84.2L451.05 86.38L455.54 88.56L460.35 90.73L465.51 92.91L471.04 95.08L476.98 97.26L483.34 99.44L490.17 101.61L497.49 103.79L505.35 105.96L513.77 108.14L522.8 110.32L532.49 112.49L542.88 114.67L554.03 116.84L565.98 119.02L578.8 121.2L592.55 123.37L607.3 125.55L609.3 125.55L609.3 19.1Z" fill="#b0b0b0"/><path d="M396.92 19.1L396.92 21.1L397.47 23.26L398.07 25.43L398.71 27.59L399.39 29.76L400.13 31.92L400.92 34.08L401.76 36.25L402.67 38.41L403.64 40.57L404.68 42.74L405.79 44.9L406.99 47.07L408.27 49.23L409.65 51.39L411.12 53.56L412.7 55.72L414.4 57.88L416.21 60.05L418.16 62.21L420.25 64.38L422.49 66.54L424.89 68.7L427.46 70.87L430.22 73.03L433.18 75.19L436.35 77.36L439.75 79.52L443.39 81.69L447.3 83.85L451.49 86.01L455.98 88.18L460.8 90.34L465.96 92.5L471.49 94.67L477.43 96.83L483.79 99L490.61 101.16L497.92 103.32L505.76 105.49L514.16 107.65L523.17 109.81L532.83 111.98L543.19 114.14L554.29 116.31L566.19 118.47L578.95 120.63L592.63 122.8L607.3 124.96L609.3 124.96L609.3 19.1Z" fill="#acacac"/><path d="M397.06 19.1L397.06 21.1L397.63 23.25L398.23 25.4L398.88 27.55L399.57 29.71L400.31 31.86L401.11 34.01L401.97 36.16L402.88 38.31L403.86 40.46L404.91 42.62L406.04 44.77L407.24 46.92L408.54 49.07L409.92 51.22L411.41 53.37L413 55.52L414.71 57.68L416.54 59.83L418.5 61.98L420.6 64.13L422.85 66.28L425.26 68.43L427.84 70.59L430.61 72.74L433.58 74.89L436.76 77.04L440.17 79.19L443.82 81.34L447.74 83.49L451.93 85.65L456.43 87.8L461.25 89.95L466.41 92.1L471.95 94.25L477.88 96.4L484.24 98.56L491.05 100.71L498.35 102.86L506.17 105.01L514.56 107.16L523.54 109.31L533.17 111.46L543.49 113.62L554.55 115.77L566.4 117.92L579.1 120.07L592.71 122.22L607.3 124.37L609.3 124.37L609.3 19.1Z" fill="#a7a7a7"/><path d="M397.21 19.1L397.21 21.1L397.78 23.24L398.4 25.38L399.05 27.52L399.75 29.66L400.5 31.8L401.31 33.94L402.17 36.08L403.1 38.21L404.09 40.35L405.15 42.49L406.28 44.63L407.5 46.77L408.81 48.91L410.2 51.05L411.7 53.19L413.3 55.33L415.02 57.47L416.86 59.61L418.83 61.75L420.94 63.89L423.2 66.03L425.63 68.16L428.22 70.3L431 72.44L433.98 74.58L437.17 76.72L440.59 78.86L444.25 81L448.18 83.14L452.38 85.28L456.88 87.42L461.7 89.56L466.87 91.7L472.41 93.84L478.33 95.98L484.69 98.11L491.49 100.25L498.78 102.39L506.59 104.53L514.95 106.67L523.91 108.81L533.51 110.95L543.79 113.09L554.81 115.23L566.61 117.37L579.25 119.51L592.79 121.65L607.3 123.79L609.3 123.79L609.3 19.1Z" fill="#a3a3a3"/><path d="M397.37 19.1L397.37 21.1L397.94 23.23L398.56 25.35L399.23 27.48L399.94 29.61L400.7 31.74L401.51 33.86L402.38 35.99L403.32 38.12L404.32 40.24L405.39 42.37L406.54 44.5L407.76 46.62L409.08 48.75L410.49 50.88L411.99 53.01L413.61 55.13L415.34 57.26L417.19 59.39L419.17 61.51L421.29 63.64L423.57 65.77L426 67.9L428.61 70.02L431.4 72.15L434.39 74.28L437.59 76.4L441.02 78.53L444.69 80.66L448.62 82.79L452.83 84.91L457.34 87.04L462.16 89.17L467.33 91.29L472.87 93.42L478.79 95.55L485.14 97.67L491.93 99.8L499.21 101.93L507 104.06L515.35 106.18L524.28 108.31L533.85 110.44L544.1 112.56L555.07 114.69L566.82 116.82L579.4 118.95L592.87 121.07L607.3 123.2L609.3 123.2L609.3 19.1Z" fill="#9f9f9f"/><path d="M397.52 19.1L397.52 21.1L398.11 23.21L398.73 25.33L399.41 27.44L400.12 29.56L400.89 31.67L401.72 33.79L402.6 35.9L403.54 38.02L404.55 40.13L405.63 42.25L406.79 44.36L408.03 46.48L409.35 48.59L410.77 50.71L412.29 52.82L413.92 54.94L415.66 57.05L417.52 59.17L419.52 61.28L421.65 63.4L423.94 65.51L426.38 67.63L429 69.74L431.8 71.86L434.8 73.97L438.01 76.09L441.45 78.2L445.13 80.32L449.07 82.43L453.28 84.55L457.79 86.66L462.62 88.77L467.79 90.89L473.33 93L479.25 95.12L485.59 97.23L492.38 99.35L499.64 101.46L507.42 103.58L515.75 105.69L524.66 107.81L534.19 109.92L544.4 112.04L555.33 114.15L567.03 116.27L579.55 118.38L592.95 120.5L607.3 122.61L609.3 122.61L609.3 19.1Z" fill="#9b9b9b"/><path d="M397.68 19.1L397.68 21.1L398.27 23.2L398.91 25.31L399.59 27.41L400.32 29.51L401.09 31.61L401.93 33.72L402.82 35.82L403.77 37.92L404.79 40.02L405.88 42.13L407.05 44.23L408.3 46.33L409.63 48.43L411.06 50.54L412.59 52.64L414.23 54.74L415.98 56.84L417.86 58.95L419.86 61.05L422.01 63.15L424.31 65.25L426.76 67.36L429.39 69.46L432.21 71.56L435.22 73.67L438.44 75.77L441.88 77.87L445.57 79.97L449.52 82.08L453.74 84.18L458.25 86.28L463.09 88.38L468.26 90.49L473.79 92.59L479.71 94.69L486.05 96.79L492.83 98.9L500.08 101L507.84 103.1L516.14 105.2L525.03 107.31L534.54 109.41L544.71 111.51L555.59 113.61L567.24 115.72L579.7 117.82L593.03 119.92L607.3 122.03L609.3 122.03L609.3 19.1Z" fill="#969696"/><path d="M397.84 19.1L397.84 21.1L398.44 23.19L399.09 25.28L399.77 27.37L400.51 29.46L401.3 31.55L402.14 33.64L403.04 35.73L404 37.82L405.03 39.91L406.13 42L407.31 44.09L408.57 46.18L409.92 48.27L411.36 50.37L412.9 52.46L414.55 54.55L416.31 56.64L418.2 58.73L420.22 60.82L422.37 62.91L424.68 65L427.15 67.09L429.79 69.18L432.61 71.27L435.63 73.36L438.86 75.45L442.32 77.54L446.02 79.63L449.97 81.72L454.2 83.81L458.72 85.9L463.55 87.99L468.73 90.08L474.26 92.17L480.18 94.26L486.51 96.35L493.28 98.44L500.52 100.53L508.26 102.62L516.54 104.71L525.4 106.81L534.88 108.9L545.01 110.99L555.85 113.08L567.45 115.17L579.85 117.26L593.11 119.35L607.3 121.44L609.3 121.44L609.3 19.1Z" fill="#929292"/><path d="M398.01 19.1L398.01 21.1L398.62 23.18L399.27 25.26L399.96 27.33L400.71 29.41L401.5 31.49L402.35 33.57L403.26 35.65L404.24 37.73L405.28 39.8L406.39 41.88L407.58 43.96L408.85 46.04L410.2 48.12L411.66 50.19L413.21 52.27L414.87 54.35L416.65 56.43L418.54 58.51L420.57 60.58L422.74 62.66L425.06 64.74L427.54 66.82L430.19 68.9L433.03 70.98L436.06 73.05L439.3 75.13L442.76 77.21L446.46 79.29L450.42 81.37L454.66 83.44L459.18 85.52L464.02 87.6L469.2 89.68L474.73 91.76L480.64 93.83L486.97 95.91L493.73 97.99L500.96 100.07L508.68 102.15L516.95 104.23L525.78 106.3L535.22 108.38L545.32 110.46L556.12 112.54L567.66 114.62L580 116.69L593.19 118.77L607.3 120.85L609.3 120.85L609.3 19.1Z" fill="#8e8e8e"/><path d="M398.17 19.1L398.17 21.1L398.79 23.17L399.45 25.23L400.16 27.3L400.91 29.36L401.71 31.43L402.57 33.5L403.49 35.56L404.47 37.63L405.52 39.69L406.65 41.76L407.84 43.82L409.13 45.89L410.5 47.96L411.96 50.02L413.52 52.09L415.2 54.15L416.98 56.22L418.89 58.29L420.93 60.35L423.11 62.42L425.44 64.48L427.93 66.55L430.6 68.62L433.44 70.68L436.48 72.75L439.73 74.81L443.21 76.88L446.92 78.95L450.88 81.01L455.12 83.08L459.65 85.14L464.5 87.21L469.67 89.27L475.2 91.34L481.11 93.41L487.43 95.47L494.18 97.54L501.4 99.6L509.11 101.67L517.35 103.74L526.16 105.8L535.57 107.87L545.63 109.93L556.38 112L567.87 114.07L580.15 116.13L593.27 118.2L607.3 120.26L609.3 120.26L609.3 19.1Z" fill="#8a8a8a"/><path d="M398.35 19.1L398.35 21.1L398.97 23.15L399.64 25.21L400.35 27.26L401.11 29.31L401.93 31.37L402.8 33.42L403.72 35.48L404.72 37.53L405.78 39.58L406.91 41.64L408.12 43.69L409.41 45.74L410.79 47.8L412.27 49.85L413.84 51.91L415.52 53.96L417.32 56.01L419.24 58.07L421.3 60.12L423.49 62.17L425.83 64.23L428.33 66.28L431.01 68.33L433.86 70.39L436.91 72.44L440.17 74.5L443.65 76.55L447.37 78.6L451.35 80.66L455.59 82.71L460.13 84.76L464.97 86.82L470.15 88.87L475.68 90.92L481.58 92.98L487.9 95.03L494.64 97.09L501.84 99.14L509.53 101.19L517.75 103.25L526.53 105.3L535.92 107.35L545.94 109.41L556.64 111.46L568.08 113.52L580.3 115.57L593.35 117.62L607.3 119.68L609.3 119.68L609.3 19.1Z" fill="#868686"/><path d="M398.52 19.1L398.52 21.1L399.15 23.14L399.83 25.18L400.55 27.22L401.32 29.27L402.14 31.31L403.02 33.35L403.96 35.39L404.96 37.43L406.03 39.47L407.18 41.51L408.4 43.56L409.7 45.6L411.09 47.64L412.58 49.68L414.16 51.72L415.86 53.76L417.67 55.8L419.6 57.85L421.66 59.89L423.87 61.93L426.22 63.97L428.74 66.01L431.42 68.05L434.29 70.09L437.35 72.14L440.62 74.18L444.11 76.22L447.83 78.26L451.81 80.3L456.06 82.34L460.6 84.38L465.45 86.43L470.63 88.47L476.16 90.51L482.06 92.55L488.36 94.59L495.09 96.63L502.28 98.67L509.96 100.72L518.16 102.76L526.91 104.8L536.26 106.84L546.25 108.88L556.91 110.92L568.29 112.96L580.45 115.01L593.43 117.05L607.3 119.09L609.3 119.09L609.3 19.1Z" fill="#828282"/><path d="M398.72 19.1L398.72 21.1L399.36 23.13L400.05 25.16L400.78 27.18L401.56 29.21L402.39 31.24L403.28 33.27L404.23 35.29L405.24 37.32L406.33 39.35L407.48 41.38L408.71 43.4L410.03 45.43L411.43 47.46L412.93 49.49L414.53 51.52L416.24 53.54L418.06 55.57L420.01 57.6L422.08 59.63L424.3 61.65L426.67 63.68L429.19 65.71L431.89 67.74L434.77 69.76L437.84 71.79L441.12 73.82L444.62 75.85L448.35 77.87L452.34 79.9L456.6 81.93L461.14 83.96L465.99 85.99L471.17 88.01L476.7 90.04L482.59 92.07L488.89 94.1L495.61 96.12L502.79 98.15L510.44 100.18L518.62 102.21L527.34 104.23L536.65 106.26L546.59 108.29L557.21 110.32L568.53 112.35L580.62 114.37L593.53 116.4L607.3 118.43L609.3 118.43L609.3 19.1Z" fill="#7e7e7e"/><path d="M398.92 19.1L398.92 21.1L399.58 23.11L400.27 25.13L401.01 27.14L401.8 29.16L402.65 31.17L403.55 33.18L404.51 35.2L405.53 37.21L406.62 39.23L407.79 41.24L409.04 43.25L410.36 45.27L411.78 47.28L413.29 49.29L414.9 51.31L416.62 53.32L418.46 55.34L420.42 57.35L422.51 59.36L424.74 61.38L427.12 63.39L429.66 65.41L432.36 67.42L435.25 69.43L438.34 71.45L441.63 73.46L445.14 75.48L448.88 77.49L452.88 79.5L457.14 81.52L461.69 83.53L466.54 85.55L471.72 87.56L477.24 89.57L483.13 91.59L489.42 93.6L496.13 95.61L503.29 97.63L510.93 99.64L519.08 101.66L527.77 103.67L537.05 105.68L546.94 107.7L557.5 109.71L568.77 111.73L580.79 113.74L593.62 115.75L607.3 117.77L609.3 117.77L609.3 19.1Z" fill="#7a7a7a"/><path d="M399.13 19.1L399.13 21.1L399.79 23.1L400.5 25.1L401.25 27.1L402.05 29.1L402.9 31.1L403.82 33.1L404.79 35.1L405.82 37.1L406.93 39.1L408.11 41.1L409.36 43.1L410.7 45.1L412.13 47.1L413.66 49.1L415.28 51.1L417.02 53.1L418.87 55.1L420.84 57.1L422.94 59.1L425.18 61.1L427.57 63.1L430.13 65.1L432.85 67.1L435.75 69.1L438.84 71.1L442.14 73.1L445.66 75.1L449.41 77.1L453.41 79.1L457.68 81.1L462.23 83.1L467.09 85.1L472.27 87.1L477.79 89.11L483.68 91.11L489.96 93.11L496.65 95.11L503.8 97.11L511.41 99.11L519.54 101.11L528.2 103.11L537.44 105.11L547.29 107.11L557.8 109.11L569.01 111.11L580.96 113.11L593.71 115.11L607.3 117.11L609.3 117.11L609.3 19.1Z" fill="#767676"/><path d="M399.35 19.1L399.35 21.1L400.02 23.09L400.73 25.07L401.49 27.06L402.3 29.05L403.17 31.03L404.09 33.02L405.07 35L406.12 36.99L407.24 38.98L408.43 40.96L409.7 42.95L411.05 44.94L412.49 46.92L414.03 48.91L415.67 50.9L417.41 52.88L419.28 54.87L421.26 56.85L423.38 58.84L425.63 60.83L428.04 62.81L430.6 64.8L433.33 66.79L436.24 68.77L439.35 70.76L442.66 72.75L446.19 74.73L449.95 76.72L453.96 78.71L458.23 80.69L462.79 82.68L467.64 84.66L472.82 86.65L478.34 88.64L484.22 90.62L490.49 92.61L497.18 94.6L504.3 96.58L511.9 98.57L520 100.56L528.63 102.54L537.83 104.53L547.64 106.51L558.1 108.5L569.25 110.49L581.13 112.47L593.8 114.46L607.3 116.45L609.3 116.45L609.3 19.1Z" fill="#717171"/><path d="M399.57 19.1L399.57 21.1L400.24 23.07L400.97 25.05L401.74 27.02L402.56 28.99L403.44 30.96L404.37 32.94L405.36 34.91L406.42 36.88L407.55 38.85L408.75 40.83L410.03 42.8L411.4 44.77L412.85 46.74L414.4 48.72L416.06 50.69L417.82 52.66L419.69 54.63L421.69 56.61L423.82 58.58L426.09 60.55L428.5 62.53L431.08 64.5L433.82 66.47L436.75 68.44L439.86 70.42L443.18 72.39L446.72 74.36L450.49 76.33L454.5 78.31L458.78 80.28L463.34 82.25L468.2 84.22L473.38 86.2L478.89 88.17L484.77 90.14L491.03 92.11L497.71 94.09L504.82 96.06L512.39 98.03L520.46 100.01L529.06 101.98L538.23 103.95L547.99 105.92L558.4 107.9L569.49 109.87L581.3 111.84L593.89 113.81L607.3 115.79L609.3 115.79L609.3 19.1Z" fill="#6d6d6d"/><path d="M399.79 19.1L399.79 21.1L400.48 23.06L401.21 25.02L401.99 26.98L402.82 28.94L403.71 30.89L404.65 32.85L405.66 34.81L406.73 36.77L407.87 38.73L409.09 40.69L410.38 42.65L411.76 44.61L413.22 46.57L414.79 48.52L416.45 50.48L418.22 52.44L420.11 54.4L422.12 56.36L424.26 58.32L426.55 60.28L428.98 62.24L431.56 64.19L434.32 66.15L437.25 68.11L440.38 70.07L443.71 72.03L447.26 73.99L451.03 75.95L455.06 77.91L459.34 79.87L463.9 81.82L468.76 83.78L473.94 85.74L479.45 87.7L485.32 89.66L491.58 91.62L498.23 93.58L505.33 95.54L512.88 97.5L520.93 99.45L529.5 101.41L538.63 103.37L548.35 105.33L558.7 107.29L569.73 109.25L581.47 111.21L593.98 113.17L607.3 115.13L609.3 115.13L609.3 19.1Z" fill="#696969"/><path d="M400.02 19.1L400.02 21.1L400.71 23.05L401.46 24.99L402.25 26.94L403.09 28.88L403.99 30.83L404.94 32.77L405.96 34.72L407.04 36.66L408.2 38.61L409.42 40.55L410.73 42.5L412.12 44.44L413.6 46.39L415.17 48.33L416.85 50.28L418.64 52.22L420.54 54.17L422.56 56.11L424.72 58.06L427.01 60L429.45 61.95L432.05 63.89L434.82 65.84L437.77 67.78L440.9 69.73L444.24 71.67L447.8 73.62L451.58 75.56L455.61 77.51L459.9 79.45L464.47 81.4L469.33 83.34L474.5 85.29L480.01 87.23L485.88 89.18L492.12 91.12L498.77 93.07L505.84 95.01L513.38 96.96L521.4 98.9L529.93 100.85L539.02 102.79L548.7 104.74L559 106.68L569.97 108.63L581.64 110.57L594.07 112.52L607.3 114.46L609.3 114.46L609.3 19.1Z" fill="#656565"/><path d="M400.25 19.1L400.25 21.1L400.96 23.03L401.71 24.96L402.51 26.89L403.37 28.83L404.27 30.76L405.24 32.69L406.27 34.62L407.36 36.55L408.53 38.48L409.77 40.41L411.08 42.34L412.49 44.28L413.98 46.21L415.57 48.14L417.26 50.07L419.06 52L420.97 53.93L423.01 55.86L425.18 57.8L427.48 59.73L429.94 61.66L432.55 63.59L435.33 65.52L438.29 67.45L441.43 69.38L444.78 71.31L448.35 73.25L452.14 75.18L456.17 77.11L460.47 79.04L465.04 80.97L469.9 82.9L475.07 84.83L480.58 86.77L486.43 88.7L492.67 90.63L499.3 92.56L506.36 94.49L513.87 96.42L521.87 98.35L530.37 100.28L539.42 102.22L549.05 104.15L559.3 106.08L570.21 108.01L581.81 109.94L594.16 111.87L607.3 113.8L609.3 113.8L609.3 19.1Z" fill="#616161"/><path d="M400.54 19.1L400.54 21.1L401.26 23.01L402.03 24.93L402.84 26.84L403.71 28.76L404.63 30.67L405.61 32.59L406.65 34.5L407.76 36.42L408.94 38.33L410.19 40.25L411.53 42.16L412.95 44.07L414.45 45.99L416.06 47.9L417.77 49.82L419.58 51.73L421.51 53.65L423.56 55.56L425.75 57.48L428.07 59.39L430.54 61.3L433.16 63.22L435.96 65.13L438.93 67.05L442.09 68.96L445.45 70.88L449.02 72.79L452.82 74.71L456.87 76.62L461.16 78.54L465.74 80.45L470.6 82.36L475.77 84.28L481.27 86.19L487.12 88.11L493.34 90.02L499.96 91.94L507 93.85L514.48 95.77L522.44 97.68L530.91 99.6L539.91 101.51L549.49 103.42L559.67 105.34L570.5 107.25L582.02 109.17L594.27 111.08L607.3 113L609.3 113L609.3 19.1Z" fill="#5d5d5d"/><path d="M400.86 19.1L400.86 21.1L401.6 23L402.38 24.89L403.21 26.79L404.09 28.68L405.02 30.58L406.02 32.48L407.08 34.37L408.2 36.27L409.4 38.17L410.67 40.06L412.02 41.96L413.46 43.85L414.98 45.75L416.6 47.65L418.33 49.54L420.16 51.44L422.11 53.33L424.18 55.23L426.38 57.13L428.72 59.02L431.2 60.92L433.84 62.82L436.65 64.71L439.64 66.61L442.81 68.5L446.18 70.4L449.77 72.3L453.58 74.19L457.63 76.09L461.93 77.99L466.51 79.88L471.37 81.78L476.54 83.67L482.04 85.57L487.88 87.47L494.08 89.36L500.68 91.26L507.69 93.15L515.15 95.05L523.07 96.95L531.49 98.84L540.45 100.74L549.96 102.64L560.07 104.53L570.82 106.43L582.25 108.32L594.39 110.22L607.3 112.12L609.3 112.12L609.3 19.1Z" fill="#595959"/><path d="M401.2 19.1L401.2 21.1L401.95 22.98L402.74 24.86L403.58 26.73L404.48 28.61L405.43 30.49L406.44 32.37L407.52 34.24L408.66 36.12L409.87 38L411.16 39.88L412.52 41.76L413.98 43.63L415.52 45.51L417.16 47.39L418.9 49.27L420.75 51.15L422.71 53.02L424.8 54.9L427.02 56.78L429.37 58.66L431.88 60.53L434.53 62.41L437.36 64.29L440.36 66.17L443.54 68.05L446.93 69.92L450.52 71.8L454.34 73.68L458.4 75.56L462.71 77.43L467.29 79.31L472.15 81.19L477.32 83.07L482.81 84.95L488.64 86.82L494.83 88.7L501.41 90.58L508.4 92.46L515.82 94.33L523.71 96.21L532.08 98.09L540.98 99.97L550.43 101.85L560.48 103.72L571.14 105.6L582.48 107.48L594.51 109.36L607.3 111.24L609.3 111.24L609.3 19.1Z" fill="#555555"/><path d="M401.54 19.1L401.54 21.1L402.31 22.96L403.11 24.82L403.97 26.68L404.88 28.54L405.85 30.4L406.88 32.26L407.97 34.12L409.12 35.98L410.35 37.84L411.65 39.69L413.04 41.55L414.51 43.41L416.07 45.27L417.73 47.13L419.48 48.99L421.35 50.85L423.33 52.71L425.44 54.57L427.67 56.43L430.04 58.29L432.56 60.15L435.24 62.01L438.07 63.87L441.09 65.73L444.29 67.59L447.68 69.45L451.29 71.31L455.12 73.17L459.18 75.02L463.5 76.88L468.08 78.74L472.94 80.6L478.1 82.46L483.58 84.32L489.4 86.18L495.58 88.04L502.14 89.9L509.1 91.76L516.49 93.62L524.34 95.48L532.67 97.34L541.52 99.2L550.91 101.06L560.88 102.92L571.47 104.78L582.7 106.64L594.63 108.49L607.3 110.35L609.3 110.35L609.3 19.1Z" fill="#505050"/><path d="M401.9 19.1L401.9 21.1L402.67 22.94L403.5 24.78L404.37 26.62L405.29 28.46L406.28 30.31L407.32 32.15L408.43 33.99L409.6 35.83L410.84 37.67L412.16 39.51L413.57 41.35L415.05 43.19L416.63 45.03L418.3 46.88L420.08 48.72L421.96 50.56L423.96 52.4L426.09 54.24L428.34 56.08L430.73 57.92L433.26 59.76L435.95 61.6L438.8 63.45L441.83 65.29L445.04 67.13L448.45 68.97L452.06 70.81L455.9 72.65L459.97 74.49L464.29 76.33L468.87 78.17L473.73 80.02L478.89 81.86L484.37 83.7L490.17 85.54L496.34 87.38L502.87 89.22L509.81 91.06L517.17 92.9L524.98 94.74L533.27 96.59L542.06 98.43L551.39 100.27L561.29 102.11L571.79 103.95L582.93 105.79L594.76 107.63L607.3 109.47L609.3 109.47L609.3 19.1Z" fill="#4c4c4c"/><path d="M402.26 19.1L402.26 21.1L403.05 22.92L403.89 24.75L404.78 26.57L405.72 28.39L406.72 30.21L407.77 32.04L408.9 33.86L410.09 35.68L411.35 37.5L412.69 39.33L414.1 41.15L415.61 42.97L417.2 44.8L418.89 46.62L420.69 48.44L422.59 50.26L424.61 52.09L426.75 53.91L429.01 55.73L431.42 57.56L433.97 59.38L436.67 61.2L439.54 63.02L442.58 64.85L445.8 66.67L449.22 68.49L452.85 70.31L456.69 72.14L460.77 73.96L465.09 75.78L469.68 77.61L474.54 79.43L479.69 81.25L485.16 83.07L490.95 84.9L497.1 86.72L503.62 88.54L510.53 90.37L517.85 92.19L525.63 94.01L533.87 95.83L542.6 97.66L551.87 99.48L561.69 101.3L572.11 103.12L583.16 104.95L594.88 106.77L607.3 108.59L609.3 108.59L609.3 19.1Z" fill="#484848"/><path d="M402.8 19.1L402.8 21.1L403.61 22.9L404.47 24.69L405.38 26.49L406.34 28.29L407.36 30.08L408.44 31.88L409.58 33.68L410.8 35.47L412.08 37.27L413.44 39.07L414.89 40.86L416.42 42.66L418.03 44.46L419.75 46.25L421.57 48.05L423.5 49.85L425.54 51.65L427.7 53.44L429.99 55.24L432.42 57.04L434.99 58.83L437.72 60.63L440.6 62.43L443.66 64.22L446.9 66.02L450.34 67.82L453.98 69.61L457.83 71.41L461.92 73.21L466.24 75L470.83 76.8L475.69 78.6L480.83 80.39L486.29 82.19L492.06 83.99L498.19 85.78L504.67 87.58L511.55 89.38L518.83 91.17L526.54 92.97L534.72 94.77L543.38 96.56L552.55 98.36L562.27 100.16L572.57 101.95L583.49 103.75L595.05 105.55L607.3 107.35L609.3 107.35L609.3 19.1Z" fill="#444444"/><path d="M403.36 19.1L403.36 21.1L404.19 22.87L405.07 24.64L406 26.41L406.98 28.18L408.02 29.95L409.13 31.72L410.29 33.5L411.53 35.27L412.84 37.04L414.23 38.81L415.69 40.58L417.25 42.35L418.89 44.12L420.63 45.89L422.47 47.66L424.43 49.43L426.49 51.2L428.68 52.97L430.99 54.74L433.44 56.52L436.04 58.29L438.78 60.06L441.69 61.83L444.77 63.6L448.02 65.37L451.47 67.14L455.12 68.91L458.99 70.68L463.08 72.45L467.41 74.22L472 75.99L476.85 77.76L481.99 79.54L487.43 81.31L493.19 83.08L499.29 84.85L505.74 86.62L512.57 88.39L519.81 90.16L527.46 91.93L535.57 93.7L544.15 95.47L553.24 97.24L562.85 99.01L573.03 100.78L583.81 102.56L595.22 104.33L607.3 106.1L609.3 106.1L609.3 19.1Z" fill="#404040"/><path d="M403.94 19.1L403.94 21.1L404.79 22.84L405.69 24.59L406.64 26.33L407.65 28.08L408.71 29.82L409.84 31.57L411.03 33.31L412.29 35.06L413.62 36.8L415.03 38.55L416.53 40.29L418.1 42.04L419.77 43.78L421.54 45.53L423.41 47.27L425.38 49.02L427.47 50.76L429.68 52.51L432.02 54.25L434.49 56L437.11 57.74L439.87 59.49L442.8 61.23L445.89 62.97L449.17 64.72L452.63 66.46L456.29 68.21L460.17 69.95L464.26 71.7L468.6 73.44L473.18 75.19L478.03 76.93L483.16 78.68L488.59 80.42L494.33 82.17L500.4 83.91L506.82 85.66L513.61 87.4L520.79 89.15L528.39 90.89L536.43 92.64L544.93 94.38L553.92 96.13L563.43 97.87L573.5 99.62L584.14 101.36L595.39 103.1L607.3 104.85L609.3 104.85L609.3 19.1Z" fill="#3c3c3c"/><path d="M404.58 19.1L404.58 21.1L405.45 22.82L406.37 24.53L407.35 26.25L408.38 27.97L409.47 29.69L410.62 31.4L411.84 33.12L413.12 34.84L414.48 36.56L415.92 38.27L417.44 39.99L419.04 41.71L420.74 43.42L422.53 45.14L424.42 46.86L426.42 48.58L428.54 50.29L430.77 52.01L433.13 53.73L435.63 55.45L438.26 57.16L441.05 58.88L444 60.6L447.11 62.31L450.4 64.03L453.88 65.75L457.55 67.47L461.43 69.18L465.54 70.9L469.87 72.62L474.46 74.33L479.3 76.05L484.42 77.77L489.83 79.49L495.54 81.2L501.58 82.92L507.97 84.64L514.72 86.36L521.85 88.07L529.38 89.79L537.34 91.51L545.76 93.22L554.65 94.94L564.05 96.66L573.99 98.38L584.48 100.09L595.58 101.81L607.3 103.53L609.3 103.53L609.3 19.1Z" fill="#383838"/><path d="M405.32 19.1L405.32 21.1L406.22 22.79L407.17 24.47L408.17 26.16L409.23 27.85L410.35 29.53L411.52 31.22L412.77 32.91L414.08 34.59L415.47 36.28L416.94 37.97L418.48 39.65L420.12 41.34L421.84 43.03L423.66 44.71L425.58 46.4L427.61 48.09L429.75 49.77L432.02 51.46L434.4 53.15L436.92 54.83L439.59 56.52L442.4 58.21L445.36 59.89L448.49 61.58L451.8 63.27L455.29 64.95L458.98 66.64L462.87 68.33L466.98 70.01L471.32 71.7L475.89 73.39L480.73 75.07L485.83 76.76L491.22 78.45L496.91 80.13L502.92 81.82L509.26 83.51L515.96 85.19L523.03 86.88L530.49 88.57L538.37 90.25L546.69 91.94L555.47 93.63L564.74 95.31L574.53 97L584.87 98.69L595.78 100.37L607.3 102.06L609.3 102.06L609.3 19.1Z" fill="#343434"/><path d="M406.1 19.1L406.1 21.1L407.02 22.76L408 24.41L409.03 26.07L410.11 27.72L411.26 29.38L412.47 31.04L413.74 32.69L415.08 34.35L416.5 36L417.99 37.66L419.57 39.32L421.23 40.97L422.98 42.63L424.83 44.29L426.78 45.94L428.84 47.6L431.01 49.25L433.3 50.91L435.71 52.57L438.26 54.22L440.94 55.88L443.77 57.53L446.76 59.19L449.91 60.85L453.23 62.5L456.74 64.16L460.44 65.81L464.33 67.47L468.45 69.13L472.78 70.78L477.36 72.44L482.18 74.09L487.27 75.75L492.64 77.41L498.3 79.06L504.27 80.72L510.57 82.38L517.21 84.03L524.22 85.69L531.61 87.34L539.4 89L547.62 90.66L556.29 92.31L565.43 93.97L575.08 95.62L585.25 97.28L595.98 98.94L607.3 100.59L609.3 100.59L609.3 19.1Z" fill="#303030"/><path d="M406.92 19.1L406.92 21.1L407.87 22.73L408.87 24.35L409.93 25.98L411.04 27.6L412.21 29.23L413.45 30.85L414.75 32.48L416.12 34.1L417.57 35.73L419.09 37.36L420.7 38.98L422.39 40.61L424.17 42.23L426.05 43.86L428.02 45.48L430.11 47.11L432.31 48.73L434.62 50.36L437.06 51.98L439.63 53.61L442.34 55.24L445.19 56.86L448.19 58.49L451.36 60.11L454.7 61.74L458.22 63.36L461.92 64.99L465.83 66.61L469.94 68.24L474.28 69.87L478.84 71.49L483.66 73.12L488.73 74.74L494.07 76.37L499.7 77.99L505.64 79.62L511.89 81.24L518.48 82.87L525.42 84.49L532.73 86.12L540.44 87.75L548.56 89.37L557.11 91L566.13 92.62L575.63 94.25L585.64 95.87L596.19 97.5L607.3 99.12L609.3 99.12L609.3 19.1Z" fill="#2c2c2c"/><path d="M408.08 19.1L408.08 21.1L409.07 22.68L410.11 24.27L411.2 25.85L412.35 27.44L413.57 29.02L414.84 30.61L416.18 32.19L417.59 33.77L419.08 35.36L420.64 36.94L422.28 38.53L424.01 40.11L425.83 41.69L427.75 43.28L429.76 44.86L431.89 46.45L434.12 48.03L436.47 49.62L438.94 51.2L441.54 52.78L444.28 54.37L447.16 55.95L450.19 57.54L453.38 59.12L456.73 60.71L460.26 62.29L463.98 63.87L467.89 65.46L472.01 67.04L476.34 68.63L480.89 70.21L485.69 71.79L490.73 73.38L496.04 74.96L501.63 76.55L507.51 78.13L513.69 79.72L520.21 81.3L527.06 82.88L534.26 84.47L541.85 86.05L549.83 87.64L558.23 89.22L567.07 90.81L576.37 92.39L586.16 93.97L596.46 95.56L607.3 97.14L609.3 97.14L609.3 19.1Z" fill="#282828"/><path d="M409.57 19.1L409.57 21.1L410.6 22.64L411.68 24.17L412.82 25.71L414.02 27.24L415.27 28.78L416.59 30.31L417.98 31.85L419.44 33.38L420.97 34.92L422.58 36.45L424.27 37.99L426.04 39.52L427.91 41.06L429.87 42.59L431.93 44.13L434.09 45.66L436.36 47.2L438.75 48.74L441.26 50.27L443.9 51.81L446.67 53.34L449.58 54.88L452.64 56.41L455.85 57.95L459.22 59.48L462.77 61.02L466.49 62.55L470.41 64.09L474.52 65.62L478.84 67.16L483.38 68.69L488.15 70.23L493.16 71.76L498.42 73.3L503.95 74.83L509.76 76.37L515.87 77.91L522.28 79.44L529.02 80.98L536.1 82.51L543.54 84.05L551.36 85.58L559.57 87.12L568.2 88.65L577.26 90.19L586.78 91.72L596.79 93.26L607.3 94.79L609.3 94.79L609.3 19.1Z" fill="#242424"/><path d="M413.86 19.1L413.86 21.1L415.01 22.51L416.2 23.92L417.46 25.33L418.77 26.75L420.15 28.16L421.58 29.57L423.09 30.98L424.66 32.39L426.31 33.8L428.03 35.21L429.84 36.63L431.73 38.04L433.7 39.45L435.77 40.86L437.93 42.27L440.2 43.68L442.57 45.09L445.05 46.51L447.64 47.92L450.36 49.33L453.2 50.74L456.17 52.15L459.28 53.56L462.54 54.97L465.94 56.39L469.51 57.8L473.24 59.21L477.15 60.62L481.23 62.03L485.51 63.44L489.98 64.85L494.66 66.27L499.56 67.68L504.69 69.09L510.06 70.5L515.67 71.91L521.55 73.32L527.69 74.73L534.13 76.15L540.86 77.56L547.91 78.97L555.28 80.38L563 81.79L571.07 83.2L579.52 84.61L588.36 86.03L597.62 87.44L607.3 88.85L609.3 88.85L609.3 19.1Z" fill="#202020"/><path d="M424.26 19.1L424.26 21.1L425.62 22.28L427.03 23.47L428.5 24.65L430.03 25.83L431.61 27.02L433.26 28.2L434.97 29.39L436.75 30.57L438.59 31.75L440.51 32.94L442.5 34.12L444.57 35.3L446.72 36.49L448.95 37.67L451.27 38.85L453.68 40.04L456.18 41.22L458.78 42.4L461.48 43.59L464.29 44.77L467.2 45.96L470.23 47.14L473.38 48.32L476.64 49.51L480.04 50.69L483.56 51.87L487.23 53.06L491.03 54.24L494.99 55.42L499.09 56.61L503.36 57.79L507.79 58.97L512.39 60.16L517.17 61.34L522.14 62.53L527.3 63.71L532.66 64.89L538.23 66.08L544.01 67.26L550.02 68.44L556.27 69.63L562.75 70.81L569.49 71.99L576.48 73.18L583.75 74.36L591.31 75.54L599.15 76.73L607.3 77.91L609.3 77.91L609.3 19.1Z" fill="#1c1c1c"/><path d="M432.26 19.1L432.26 21.1L433.74 22.15L435.27 23.2L436.85 24.25L438.49 25.3L440.18 26.35L441.94 27.4L443.75 28.45L445.63 29.5L447.57 30.55L449.57 31.61L451.65 32.66L453.79 33.71L456.01 34.76L458.31 35.81L460.69 36.86L463.15 37.91L465.69 38.96L468.32 40.01L471.04 41.06L473.85 42.11L476.76 43.16L479.77 44.21L482.88 45.26L486.11 46.31L489.44 47.36L492.88 48.41L496.45 49.46L500.13 50.52L503.95 51.57L507.89 52.62L511.97 53.67L516.19 54.72L520.56 55.77L525.08 56.82L529.75 57.87L534.58 58.92L539.58 59.97L544.75 61.02L550.09 62.07L555.63 63.12L561.35 64.17L567.27 65.22L573.39 66.27L579.72 67.32L586.27 68.37L593.04 69.42L600.05 70.48L607.3 71.53L609.3 71.53L609.3 19.1Z" fill="#181818"/><path d="M435.53 19.1L435.53 21.1L437.05 22.1L438.62 23.11L440.24 24.11L441.91 25.11L443.64 26.12L445.43 27.12L447.27 28.12L449.18 29.13L451.14 30.13L453.17 31.13L455.27 32.13L457.44 33.14L459.68 34.14L461.99 35.14L464.38 36.15L466.84 37.15L469.39 38.15L472.02 39.16L474.74 40.16L477.54 41.16L480.44 42.17L483.43 43.17L486.53 44.17L489.72 45.18L493.02 46.18L496.42 47.18L499.94 48.18L503.57 49.19L507.32 50.19L511.2 51.19L515.2 52.2L519.33 53.2L523.6 54.2L528.01 55.21L532.56 56.21L537.26 57.21L542.12 58.22L547.14 59.22L552.32 60.22L557.67 61.23L563.19 62.23L568.9 63.23L574.8 64.23L580.88 65.24L587.17 66.24L593.67 67.24L600.37 68.25L607.3 69.25L609.3 69.25L609.3 19.1Z" fill="#131313"/><path d="M437.88 19.1L437.88 21.1L439.43 22.07L441.02 23.04L442.67 24.01L444.36 24.98L446.11 25.96L447.92 26.93L449.78 27.9L451.71 28.87L453.69 29.84L455.74 30.81L457.85 31.78L460.03 32.75L462.27 33.72L464.59 34.69L466.99 35.67L469.45 36.64L472 37.61L474.63 38.58L477.34 39.55L480.14 40.52L483.02 41.49L486 42.46L489.07 43.43L492.24 44.4L495.51 45.38L498.89 46.35L502.37 47.32L505.96 48.29L509.66 49.26L513.49 50.23L517.43 51.2L521.5 52.17L525.7 53.14L530.03 54.11L534.5 55.09L539.11 56.06L543.87 57.03L548.78 58L553.84 58.97L559.07 59.94L564.46 60.91L570.02 61.88L575.76 62.85L581.68 63.82L587.79 64.8L594.09 65.77L600.59 66.74L607.3 67.71L609.3 67.71L609.3 19.1Z" fill="#0f0f0f"/><path d="M452.47 19.1L452.47 21.1L454.13 21.9L455.82 22.7L457.56 23.5L459.35 24.31L461.18 25.11L463.06 25.91L464.99 26.71L466.97 27.51L469 28.31L471.08 29.11L473.22 29.91L475.41 30.72L477.67 31.52L479.98 32.32L482.35 33.12L484.78 33.92L487.28 34.72L489.84 35.52L492.47 36.32L495.16 37.13L497.93 37.93L500.77 38.73L503.68 39.53L506.67 40.33L509.74 41.13L512.89 41.93L516.12 42.73L519.43 43.54L522.84 44.34L526.33 45.14L529.91 45.94L533.58 46.74L537.35 47.54L541.22 48.34L545.19 49.14L549.27 49.95L553.45 50.75L557.73 51.55L562.14 52.35L566.65 53.15L571.29 53.95L576.04 54.75L580.92 55.56L585.93 56.36L591.07 57.16L596.34 57.96L601.75 58.76L607.3 59.56L609.3 59.56L609.3 19.1Z" fill="#ffffff"/><linearGradient id="ag1" gradientUnits="userSpaceOnUse" x1="400" y1="0" x2="465" y2="0"><stop offset="0" stop-color="#fff" stop-opacity="0.1"/><stop offset="0.6" stop-color="#fff" stop-opacity="0.8"/><stop offset="1" stop-color="#fff" stop-opacity="0.45"/></linearGradient><linearGradient id="ag2" gradientUnits="userSpaceOnUse" x1="400" y1="0" x2="607" y2="0"><stop offset="0" stop-color="#fff" stop-opacity="0.15"/><stop offset="0.3" stop-color="#fff" stop-opacity="0.45"/><stop offset="1" stop-color="#fff" stop-opacity="0.2"/></linearGradient><path d="M399.01 155.82L399.51 157.13L400.03 158.43L400.57 159.74L401.14 161.04L401.74 162.35L402.37 163.65L403.03 164.96L403.73 166.26L404.46 167.57L405.23 168.87L406.03 170.18L406.88 171.49L407.77 172.79L408.7 174.1L409.68 175.4L410.71 176.71L411.79 178.01L412.93 179.32L414.12 180.62L415.37 181.93L416.69 183.23L418.07 184.54L419.52 185.84L421.04 187.15L422.64 188.45L424.33 189.76L426.09 191.07L427.95 192.37L429.89 193.68L431.94 194.98L434.09 196.29L436.34 197.59L438.71 198.9L441.2 200.2L443.82 201.51L446.56 202.81L449.44 204.12L452.47 205.42L455.65 206.73L458.99 208.04" fill="none" stroke="url(#ag1)" stroke-width="0.9"/><path d="M400.1 168.1L400.54 169.04L400.99 169.99L401.47 170.93L401.96 171.88L402.47 172.82L403 173.76L403.55 174.71L404.12 175.65L404.72 176.59L405.34 177.54L405.99 178.48L406.66 179.43L407.36 180.37L408.08 181.31L408.84 182.26L409.62 183.2L410.44 184.14L411.29 185.09L412.17 186.03L413.09 186.98L414.05 187.92L415.04 188.86L416.07 189.81L417.15 190.75L418.27 191.7L419.43 192.64L420.64 193.58L421.9 194.53L423.2 195.47L424.56 196.41L425.98 197.36L427.45 198.3L428.98 199.25L430.57 200.19L432.22 201.13L433.94 202.08L435.73 203.02L437.6 203.96L439.53 204.91L441.54 205.85" fill="none" stroke="url(#ag1)" stroke-width="0.7" opacity="0.75"/><path d="M405.56 137.64L406.65 139.45L407.82 141.27L409.06 143.08L410.39 144.89L411.81 146.71L413.32 148.52L414.94 150.33L416.66 152.15L418.5 153.96L420.46 155.77L422.55 157.59L424.78 159.4L427.16 161.22L429.7 163.03L432.41 164.84L435.3 166.66L438.38 168.47L441.67 170.28L445.18 172.1L448.93 173.91L452.92 175.72L457.19 177.54L461.74 179.35L466.59 181.16L471.77 182.98L477.29 184.79L483.18 186.6L489.47 188.42L496.18 190.23L503.34 192.04L510.97 193.86L519.12 195.67L527.81 197.48L537.08 199.3L546.98 201.11L557.53 202.92L568.79 204.74L580.81 206.55L593.62 208.36L607.3 210.18" fill="none" stroke="url(#ag2)" stroke-width="0.9"/><path d="M411.01 149.55L412.17 151.08L413.4 152.62L414.69 154.15L416.05 155.68L417.48 157.21L418.99 158.75L420.58 160.28L422.26 161.81L424.02 163.35L425.88 164.88L427.84 166.41L429.9 167.94L432.07 169.48L434.36 171.01L436.77 172.54L439.31 174.08L441.98 175.61L444.8 177.14L447.76 178.67L450.89 180.21L454.18 181.74L457.65 183.27L461.3 184.81L465.15 186.34L469.2 187.87L473.47 189.4L477.96 190.94L482.7 192.47L487.69 194L492.95 195.54L498.48 197.07L504.31 198.6L510.46 200.14L516.93 201.67L523.74 203.2L530.92 204.73L538.48 206.27L546.45 207.8L554.84 209.33L563.68 210.87" fill="none" stroke="url(#ag2)" stroke-width="0.6" opacity="0.55"/><path d="M441.54 18.64L443.47 19.81L445.47 20.97L447.54 22.14L449.69 23.31L451.92 24.48L454.23 25.64L456.63 26.81L459.11 27.98L461.69 29.15L464.36 30.31L467.12 31.48L469.99 32.65L472.97 33.82L476.06 34.98L479.26 36.15L482.57 37.32L486.01 38.49L489.58 39.65L493.28 40.82L497.11 41.99L501.08 43.16L505.21 44.32L509.48 45.49L513.91 46.66L518.5 47.83L523.27 48.99L528.2 50.16L533.32 51.33L538.63 52.5L544.14 53.66L549.85 54.83L555.76 56L561.9 57.17L568.26 58.33L574.86 59.5L581.69 60.67L588.78 61.84L596.14 63L603.76 64.17L611.66 65.34" fill="none" stroke="#0c0c0c" stroke-width="7"/><path d="M432.82 17.15L434.63 18.47L436.52 19.78L438.49 21.1L440.54 22.41L442.67 23.73L444.9 25.04L447.21 26.36L449.62 27.67L452.13 28.99L454.75 30.3L457.48 31.61L460.31 32.93L463.27 34.24L466.35 35.56L469.56 36.87L472.9 38.19L476.38 39.5L480 40.82L483.78 42.13L487.71 43.45L491.8 44.76L496.07 46.08L500.51 47.39L505.14 48.7L509.96 50.02L514.98 51.33L520.21 52.65L525.65 53.96L531.33 55.28L537.23 56.59L543.39 57.91L549.8 59.22L556.48 60.54L563.43 61.85L570.67 63.17L578.22 64.48L586.07 65.79L594.26 67.11L602.78 68.42L611.66 69.74" fill="none" stroke="#2e2e2e" stroke-width="0.8"/><path d="M432.82 19.15L434.63 20.47L436.52 21.78L438.49 23.1L440.54 24.41L442.67 25.73L444.9 27.04L447.21 28.36L449.62 29.67L452.13 30.99L454.75 32.3L457.48 33.61L460.31 34.93L463.27 36.24L466.35 37.56L469.56 38.87L472.9 40.19L476.38 41.5L480 42.82L483.78 44.13L487.71 45.45L491.8 46.76L496.07 48.08L500.51 49.39L505.14 50.7L509.96 52.02L514.98 53.33L520.21 54.65L525.65 55.96L531.33 57.28L537.23 58.59L543.39 59.91L549.8 61.22L556.48 62.54L563.43 63.85L570.67 65.17L578.22 66.48L586.07 67.79L594.26 69.11L602.78 70.42L611.66 71.74" fill="none" stroke="#262626" stroke-width="0.7"/><path d="M445.69 19.1L445.69 21.1L447.3 22.01L448.96 22.92L450.67 23.82L452.42 24.73L454.23 25.64L456.08 26.55L457.99 27.46L459.96 28.37L461.98 29.27L464.05 30.18L466.19 31.09L468.39 32L470.65 32.91L472.97 33.82L475.36 34.72L477.82 35.63L480.35 36.54L482.95 37.45L485.63 38.36L488.38 39.27L491.21 40.17L494.12 41.08L497.12 41.99L500.2 42.9L503.37 43.81L506.63 44.72L509.98 45.62L513.43 46.53L516.97 47.44L520.62 48.35L524.37 49.26L528.23 50.17L532.2 51.07L536.28 51.98L540.47 52.89L544.79 53.8L549.23 54.71L553.8 55.62L558.5 56.52L563.33 57.43L568.3 58.34L573.41 59.25L578.67 60.16L584.08 61.07L589.64 61.97L595.36 62.88L601.25 63.79L607.3 64.7L609.3 64.7L609.3 19.1Z" fill="#fff"/><linearGradient id="ls" x1="0" y1="0" x2="0" y2="1"><stop offset="0" stop-color="#fff" stop-opacity="0.95"/><stop offset="1" stop-color="#fff" stop-opacity="0"/></linearGradient><rect x="389.8" y="21.1" width="1.2" height="30" fill="url(#ls)"/><g clip-path="url(#nb)" stroke="#e6e6e6" stroke-width="0.8"><line x1="432.82" y1="21.1" x2="432.82" y2="204.6"/><line x1="476.44" y1="21.1" x2="476.44" y2="204.6"/><line x1="520.06" y1="21.1" x2="520.06" y2="204.6"/><line x1="563.68" y1="21.1" x2="563.68" y2="204.6"/><line x1="389.2" y1="167.9" x2="607.3" y2="167.9"/><line x1="389.2" y1="131.2" x2="607.3" y2="131.2"/><line x1="389.2" y1="94.5" x2="607.3" y2="94.5"/><line x1="389.2" y1="57.8" x2="607.3" y2="57.8"/><path d="M389.2 21.5H606.9V204.6" fill="none"/></g></g><path d="M30.5 11H260V214.9H30.5V204.9H250V21H30.5Z" fill="#fff"/><path d="M388.2 11.1H617.3V214.6H388.2V204.6H607.3V21.1H388.2Z" fill="#fff"/><g clip-path="url(#ca)" fill="none" stroke="#ff0000" stroke-width="2.6"><path d="M104.37 21L105.38 23.51L106.4 25.98L107.43 28.42L108.48 30.82L109.55 33.2L110.63 35.54L111.72 37.85L112.83 40.13L113.95 42.37L115.09 44.59L116.25 46.77L117.42 48.93L118.61 51.05L119.81 53.15L121.03 55.22L122.27 57.26L123.52 59.27L124.79 61.26L126.08 63.22L127.39 65.15L128.72 67.05L130.06 68.93L131.42 70.79L132.8 72.62L134.2 74.42L135.62 76.2L137.06 77.95L138.52 79.68L140 81.39L141.5 83.07L143.02 84.73L144.56 86.37L146.12 87.99L147.71 89.58L149.31 91.15L150.94 92.7L152.59 94.23L154.27 95.74L155.96 97.23L157.68 98.7L159.43 100.15L161.19 101.57L162.99 102.98L164.8 104.37L166.65 105.74L168.51 107.09L170.41 108.43L172.33 109.74L174.27 111.04L176.25 112.32L178.25 113.58L180.28 114.83L182.33 116.06L184.42 117.27L186.53 118.46L188.67 119.64L190.85 120.8L193.05 121.95L195.28 123.08L197.54 124.19L199.84 125.29L202.17 126.38L204.53 127.45L206.92 128.51L209.34 129.55L211.8 130.57L214.29 131.59L216.82 132.59L219.38 133.57L221.98 134.55L224.61 135.5L227.28 136.45L229.98 137.38L232.73 138.3L235.51 139.21L238.33 140.11L241.19 140.99L244.08 141.86L247.02 142.72L250 143.57"/><path d="M91.81 21L92.78 23.94L93.78 26.82L94.79 29.67L95.82 32.46L96.86 35.22L97.92 37.93L99 40.59L100.09 43.21L101.2 45.79L102.33 48.33L103.48 50.83L104.65 53.29L105.84 55.71L107.04 58.1L108.27 60.44L109.52 62.74L110.78 65.01L112.07 67.25L113.37 69.44L114.7 71.61L116.05 73.73L117.42 75.83L118.82 77.89L120.23 79.92L121.67 81.91L123.14 83.87L124.62 85.81L126.13 87.71L127.67 89.58L129.23 91.42L130.81 93.23L132.42 95.01L134.06 96.77L135.73 98.49L137.42 100.19L139.13 101.86L140.88 103.51L142.65 105.13L144.46 106.72L146.29 108.29L148.15 109.83L150.05 111.35L151.97 112.84L153.92 114.31L155.91 115.76L157.93 117.18L159.98 118.58L162.06 119.96L164.18 121.31L166.33 122.65L168.52 123.96L170.74 125.25L173 126.52L175.3 127.77L177.63 129.01L180 130.22L182.41 131.41L184.86 132.58L187.34 133.74L189.87 134.87L192.44 135.99L195.05 137.09L197.71 138.17L200.4 139.24L203.14 140.29L205.93 141.32L208.76 142.33L211.63 143.33L214.55 144.31L217.52 145.28L220.54 146.23L223.61 147.17L226.72 148.09L229.89 149L233.11 149.89L236.38 150.77L239.7 151.63L243.08 152.48L246.51 153.32L250 154.14" stroke-dasharray="8.6 8.65" stroke-dashoffset="-0.8"/><path d="M116.82 21L117.83 23.15L118.85 25.27L119.89 27.37L120.93 29.45L121.99 31.5L123.06 33.52L124.14 35.53L125.24 37.5L126.35 39.46L127.47 41.39L128.6 43.3L129.75 45.19L130.91 47.06L132.09 48.9L133.28 50.73L134.48 52.53L135.7 54.31L136.93 56.07L138.17 57.81L139.44 59.53L140.71 61.22L142 62.9L143.31 64.56L144.63 66.2L145.97 67.82L147.32 69.43L148.69 71.01L150.08 72.57L151.48 74.12L152.9 75.65L154.33 77.16L155.79 78.65L157.26 80.13L158.74 81.58L160.25 83.02L161.77 84.45L163.31 85.86L164.87 87.25L166.45 88.62L168.04 89.98L169.66 91.32L171.29 92.65L172.94 93.96L174.61 95.26L176.31 96.54L178.02 97.81L179.75 99.06L181.5 100.29L183.28 101.52L185.07 102.72L186.89 103.92L188.72 105.1L190.58 106.27L192.46 107.42L194.37 108.56L196.29 109.68L198.24 110.8L200.21 111.89L202.21 112.98L204.23 114.06L206.27 115.12L208.33 116.17L210.42 117.2L212.54 118.23L214.68 119.24L216.85 120.24L219.04 121.23L221.26 122.21L223.5 123.18L225.77 124.13L228.07 125.07L230.39 126.01L232.74 126.93L235.12 127.84L237.53 128.74L239.96 129.63L242.43 130.51L244.92 131.38L247.45 132.24L250 133.09" stroke-dasharray="8.6 8.65" stroke-dashoffset="-0.4"/></g><g clip-path="url(#cb)" fill="none" stroke="#ff0000" stroke-width="2.6"><path d="M393.72 19.27L393.9 20.48L394.09 21.7L394.28 22.92L394.48 24.14L394.69 25.36L394.91 26.58L395.13 27.8L395.37 29.02L395.61 30.23L395.86 31.45L396.13 32.67L396.4 33.89L396.69 35.11L396.98 36.33L397.29 37.55L397.61 38.77L397.94 39.98L398.29 41.2L398.65 42.42L399.02 43.64L399.41 44.86L399.81 46.08L400.23 47.3L400.67 48.52L401.12 49.74L401.59 50.95L402.08 52.17L402.59 53.39L403.12 54.61L403.67 55.83L404.24 57.05L404.83 58.27L405.45 59.49L406.09 60.7L406.76 61.92L407.46 63.14L408.18 64.36L408.93 65.58L409.71 66.8L410.52 68.02L411.36 69.24L412.23 70.45L413.15 71.67L414.09 72.89L415.08 74.11L416.1 75.33L417.16 76.55L418.27 77.77L419.41 78.99L420.61 80.21L421.85 81.42L423.14 82.64L424.48 83.86L425.88 85.08L427.32 86.3L428.83 87.52L430.4 88.74L432.03 89.96L433.72 91.17L435.48 92.39L437.31 93.61L439.21 94.83L441.18 96.05L443.24 97.27L445.37 98.49L447.59 99.71L449.9 100.93L452.3 102.14L454.79 103.36L457.38 104.58L460.08 105.8L462.88 107.02L465.79 108.24L468.82 109.46L471.97 110.68L475.24 111.89L478.64 113.11L482.17 114.33L485.84 115.55L489.66 116.77L493.63 117.99L497.76 119.21L502.05 120.43L506.51 121.64L511.15 122.86L515.97 124.08L520.98 125.3L526.18 126.52L531.6 127.74L537.22 128.96L543.07 130.18L549.15 131.4L555.48 132.61L562.05 133.83L568.88 135.05L575.98 136.27L583.36 137.49L591.03 138.71L599.01 139.93L607.3 141.15"/><path d="M391.01 42.51L391.1 43.98L391.19 45.45L391.29 46.92L391.39 48.38L391.5 49.85L391.61 51.32L391.73 52.79L391.86 54.26L391.99 55.73L392.12 57.2L392.27 58.67L392.42 60.14L392.57 61.61L392.74 63.08L392.91 64.55L393.1 66.02L393.29 67.49L393.49 68.96L393.7 70.43L393.92 71.89L394.15 73.36L394.39 74.83L394.65 76.3L394.92 77.77L395.2 79.24L395.49 80.71L395.8 82.18L396.12 83.65L396.46 85.12L396.82 86.59L397.2 88.06L397.59 89.53L398 91L398.43 92.47L398.88 93.93L399.36 95.4L399.86 96.87L400.38 98.34L400.93 99.81L401.51 101.28L402.11 102.75L402.74 104.22L403.41 105.69L404.11 107.16L404.84 108.63L405.6 110.1L406.41 111.57L407.25 113.04L408.14 114.51L409.07 115.98L410.05 117.44L411.07 118.91L412.14 120.38L413.27 121.85L414.45 123.32L415.69 124.79L416.99 126.26L418.35 127.73L419.78 129.2L421.28 130.67L422.86 132.14L424.51 133.61L426.24 135.08L428.06 136.55L429.97 138.02L431.97 139.48L434.07 140.95L436.27 142.42L438.58 143.89L441.01 145.36L443.55 146.83L446.22 148.3L449.01 149.77L451.95 151.24L455.03 152.71L458.26 154.18L461.65 155.65L465.21 157.12L468.94 158.59L472.85 160.06L476.96 161.53L481.26 162.99L485.78 164.46L490.52 165.93L495.5 167.4L500.71 168.87L506.19 170.34L511.93 171.81L517.95 173.28L524.27 174.75L530.9 176.22L537.86 177.69L545.15 179.16L552.81 180.63L560.84 182.1L569.26 183.57L578.1 185.03L587.37 186.5L597.1 187.97L607.3 189.44" stroke-dasharray="8.7 8.75"/><path d="M410.38 21.1L411 22.01L411.65 22.91L412.31 23.82L412.99 24.72L413.7 25.63L414.42 26.54L415.17 27.44L415.94 28.35L416.73 29.25L417.54 30.16L418.38 31.07L419.24 31.97L420.13 32.88L421.05 33.78L421.99 34.69L422.96 35.6L423.96 36.5L424.99 37.41L426.05 38.31L427.14 39.22L428.26 40.13L429.41 41.03L430.6 41.94L431.83 42.84L433.09 43.75L434.39 44.66L435.72 45.56L437.1 46.47L438.52 47.37L439.97 48.28L441.48 49.19L443.02 50.09L444.61 51L446.25 51.91L447.94 52.81L449.68 53.72L451.47 54.62L453.31 55.53L455.21 56.44L457.16 57.34L459.17 58.25L461.24 59.15L463.37 60.06L465.56 60.97L467.82 61.87L470.15 62.78L472.54 63.68L475.01 64.59L477.55 65.5L480.16 66.4L482.85 67.31L485.62 68.21L488.47 69.12L491.41 70.03L494.43 70.93L497.55 71.84L500.75 72.74L504.05 73.65L507.45 74.56L510.94 75.46L514.55 76.37L518.25 77.27L522.07 78.18L526 79.09L530.05 79.99L534.21 80.9L538.5 81.8L542.92 82.71L547.47 83.62L552.15 84.52L556.97 85.43L561.93 86.33L567.04 87.24L572.3 88.15L577.72 89.05L583.3 89.96L589.04 90.86L594.95 91.77L601.03 92.68L607.3 93.58" stroke-dasharray="8.7 8.75" stroke-dashoffset="-0.2"/></g><path d="M31.5 21V205.3" fill="none" stroke="#8f8f8f" stroke-width="0.8"/><path d="M31.5 205.25H250" fill="none" stroke="#444" stroke-width="0.7"/><rect x="388.4" y="21.1" width="1.4" height="183.8" fill="#d4d4d4"/><path d="M388.4 21.1V204.9" fill="none" stroke="#999" stroke-width="0.6"/><path d="M389.2 204.95H607.3" fill="none" stroke="#444" stroke-width="0.7"/><rect x="263.2" y="20.8" width="12.5" height="182.9" fill="url(#cga)" stroke="#a8a8a8" stroke-width="0.8"/><rect x="620.2" y="21.2" width="12.5" height="183.2" fill="url(#cga)" stroke="#a8a8a8" stroke-width="0.8"/><g font-family="Liberation Sans, sans-serif" font-size="12" letter-spacing="0.9" fill="#262626"><text x="31.95" y="218.8" text-anchor="middle">0</text><text x="389.65" y="218.8" text-anchor="middle">0</text><text x="75.65" y="218.8" text-anchor="middle">2</text><text x="433.27" y="218.8" text-anchor="middle">2</text><text x="119.35" y="218.8" text-anchor="middle">4</text><text x="476.89" y="218.8" text-anchor="middle">4</text><text x="163.05" y="218.8" text-anchor="middle">6</text><text x="520.51" y="218.8" text-anchor="middle">6</text><text x="206.75" y="218.8" text-anchor="middle">8</text><text x="564.13" y="218.8" text-anchor="middle">8</text><text x="250.45" y="218.8" text-anchor="middle">10</text><text x="607.75" y="218.8" text-anchor="middle">10</text><text x="28.4" y="209.1" text-anchor="end">0</text><text x="28.4" y="172.32" text-anchor="end">2</text><text x="28.4" y="135.54" text-anchor="end">4</text><text x="28.4" y="98.76" text-anchor="end">6</text><text x="28.4" y="61.98" text-anchor="end">8</text><text x="28.4" y="25.2" text-anchor="end">10</text><text x="385.4" y="208.8" text-anchor="end">2</text><text x="385.4" y="172.1" text-anchor="end">3</text><text x="385.4" y="135.4" text-anchor="end">4</text><text x="385.4" y="98.7" text-anchor="end">5</text><text x="385.4" y="62" text-anchor="end">6</text><text x="385.4" y="25.3" text-anchor="end">7</text></g><g font-family="Liberation Sans, sans-serif" font-size="11.4" letter-spacing="0.1" fill="#262626"><line x1="273.7" y1="203.7" x2="275.7" y2="203.7" stroke="#333" stroke-width="0.8"/><text x="279.1" y="207.2">0</text><line x1="273.7" y1="182.53" x2="275.7" y2="182.53" stroke="#333" stroke-width="0.8"/><text x="279.1" y="186.03">0.02</text><line x1="273.7" y1="161.36" x2="275.7" y2="161.36" stroke="#333" stroke-width="0.8"/><text x="279.1" y="164.86">0.04</text><line x1="273.7" y1="140.19" x2="275.7" y2="140.19" stroke="#333" stroke-width="0.8"/><text x="279.1" y="143.69">0.06</text><line x1="273.7" y1="119.02" x2="275.7" y2="119.02" stroke="#333" stroke-width="0.8"/><text x="279.1" y="122.52">0.08</text><line x1="273.7" y1="97.86" x2="275.7" y2="97.86" stroke="#333" stroke-width="0.8"/><text x="279.1" y="101.36">0.1</text><line x1="273.7" y1="76.69" x2="275.7" y2="76.69" stroke="#333" stroke-width="0.8"/><text x="279.1" y="80.19">0.12</text><line x1="273.7" y1="55.52" x2="275.7" y2="55.52" stroke="#333" stroke-width="0.8"/><text x="279.1" y="59.02">0.14</text><line x1="273.7" y1="34.35" x2="275.7" y2="34.35" stroke="#333" stroke-width="0.8"/><text x="279.1" y="37.85">0.16</text><line x1="630.7" y1="204.4" x2="632.7" y2="204.4" stroke="#333" stroke-width="0.8"/><text x="636.1" y="208.3">0</text><line x1="630.7" y1="174.19" x2="632.7" y2="174.19" stroke="#333" stroke-width="0.8"/><text x="636.1" y="178.09">0.02</text><line x1="630.7" y1="143.99" x2="632.7" y2="143.99" stroke="#333" stroke-width="0.8"/><text x="636.1" y="147.89">0.04</text><line x1="630.7" y1="113.78" x2="632.7" y2="113.78" stroke="#333" stroke-width="0.8"/><text x="636.1" y="117.68">0.06</text><line x1="630.7" y1="83.58" x2="632.7" y2="83.58" stroke="#333" stroke-width="0.8"/><text x="636.1" y="87.48">0.08</text><line x1="630.7" y1="53.37" x2="632.7" y2="53.37" stroke="#333" stroke-width="0.8"/><text x="636.1" y="57.27">0.1</text><line x1="630.7" y1="23.16" x2="632.7" y2="23.16" stroke="#333" stroke-width="0.8"/><text x="636.1" y="27.06">0.12</text></g><path d="M31.5 204.9v-2M389.2 204.6v-2M75.2 204.9v-2M432.82 204.6v-2M118.9 204.9v-2M476.44 204.6v-2M162.6 204.9v-2M520.06 204.6v-2M206.3 204.9v-2M563.68 204.6v-2M250 204.9v-2M607.3 204.6v-2M31.5 204.9h2M31.5 168.12h2M31.5 131.34h2M31.5 94.56h2M31.5 57.78h2M31.5 21h2M389.2 204.6h2M389.2 167.9h2M389.2 131.2h2M389.2 94.5h2M389.2 57.8h2M389.2 21.1h2" stroke="#555" stroke-width="0.9" fill="none"/><g font-family="Liberation Sans, sans-serif" font-size="14.8" fill="#1e1e1e"><text x="84.4" y="239.8" textLength="119.2" lengthAdjust="spacingAndGlyphs">Conduit radius [m]</text><text x="450.3" y="239.8" textLength="119.2" lengthAdjust="spacingAndGlyphs">Conduit radius [m]</text><text transform="translate(11.4 160.3) rotate(-90)">Radial disp. [m]</text><text transform="translate(368.6 168.1) rotate(-90)">Log<tspan font-size="9.2" dy="2.2">10</tspan><tspan dy="-2.2" dx="3.5" font-size="14.85">ΔP [MPa]</tspan></text><text transform="translate(317.6 46.8) rotate(90)" textLength="140" lengthAdjust="spacingAndGlyphs">Normalized likelihood</text><text transform="translate(674.2 43.4) rotate(90)" textLength="140" lengthAdjust="spacingAndGlyphs">Normalized likelihood</text></g><g font-family="Liberation Sans, sans-serif" font-weight="bold" fill="#000"><text x="179.6" y="16.7" font-size="13.8" textLength="65.6" lengthAdjust="spacingAndGlyphs">Open pipe</text><text x="536.5" y="16.7" font-size="13.8" textLength="68.5" lengthAdjust="spacingAndGlyphs">Close pipe</text><text x="36.8" y="13.5" font-size="18">a</text><text x="397.0" y="13.5" font-size="18">b</text></g>
</svg>
</body></html>
